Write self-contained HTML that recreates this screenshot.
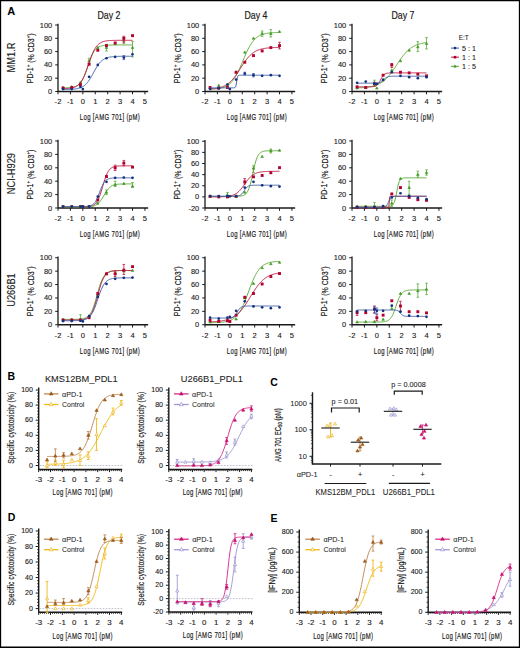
<!DOCTYPE html><html><head><meta charset="utf-8"><style>html,body{margin:0;padding:0;background:#fff;width:520px;height:648px;overflow:hidden;position:relative}</style></head><body><svg width="520" height="648" viewBox="0 0 520 648" style="position:absolute;left:0;top:0;font-family:'Liberation Sans', sans-serif">
<rect x="0" y="0" width="520" height="648" fill="#fff"/>
<path d="M0 0H520V648H0Z M1.15 1.15V646.5H518.85V1.15Z" fill="#000" fill-rule="evenodd"/>
<text transform="translate(11.25,11.35)" font-size="11" text-anchor="middle" dominant-baseline="central" font-weight="bold" fill="#000" stroke="#000" stroke-width="0" >A</text>
<text transform="translate(109,15) scale(0.88,1)" font-size="10" text-anchor="middle" dominant-baseline="central" font-weight="normal" fill="#1a1a1a" stroke="#1a1a1a" stroke-width="0.18" >Day 2</text>
<text transform="translate(256,15) scale(0.88,1)" font-size="10" text-anchor="middle" dominant-baseline="central" font-weight="normal" fill="#1a1a1a" stroke="#1a1a1a" stroke-width="0.18" >Day 4</text>
<text transform="translate(403,15) scale(0.88,1)" font-size="10" text-anchor="middle" dominant-baseline="central" font-weight="normal" fill="#1a1a1a" stroke="#1a1a1a" stroke-width="0.18" >Day 7</text>
<text transform="translate(11.3,57.5) rotate(-90) scale(0.93,1)" font-size="10" text-anchor="middle" dominant-baseline="central" font-weight="normal" fill="#1a1a1a" stroke="#1a1a1a" stroke-width="0.12" >MM1.R</text>
<text transform="translate(11.3,173.6) rotate(-90) scale(0.93,1)" font-size="10" text-anchor="middle" dominant-baseline="central" font-weight="normal" fill="#1a1a1a" stroke="#1a1a1a" stroke-width="0.12" >NCI-H929</text>
<text transform="translate(11.3,290) rotate(-90) scale(0.93,1)" font-size="10" text-anchor="middle" dominant-baseline="central" font-weight="normal" fill="#1a1a1a" stroke="#1a1a1a" stroke-width="0.12" >U266B1</text>
<line x1="58" y1="23.8" x2="58" y2="91.5" stroke="#1a1a1a" stroke-width="1.3" />
<line x1="55.2" y1="91.5" x2="58" y2="91.5" stroke="#1a1a1a" stroke-width="1" />
<text transform="translate(52.2,91.5) scale(0.98,1)" font-size="7.6" text-anchor="end" dominant-baseline="central" font-weight="normal" fill="#1a1a1a" stroke="#1a1a1a" stroke-width="0.12" >0</text>
<line x1="55.2" y1="78.2" x2="58" y2="78.2" stroke="#1a1a1a" stroke-width="1" />
<text transform="translate(52.2,78.2) scale(0.98,1)" font-size="7.6" text-anchor="end" dominant-baseline="central" font-weight="normal" fill="#1a1a1a" stroke="#1a1a1a" stroke-width="0.12" >20</text>
<line x1="55.2" y1="64.9" x2="58" y2="64.9" stroke="#1a1a1a" stroke-width="1" />
<text transform="translate(52.2,64.9) scale(0.98,1)" font-size="7.6" text-anchor="end" dominant-baseline="central" font-weight="normal" fill="#1a1a1a" stroke="#1a1a1a" stroke-width="0.12" >40</text>
<line x1="55.2" y1="51.6" x2="58" y2="51.6" stroke="#1a1a1a" stroke-width="1" />
<text transform="translate(52.2,51.6) scale(0.98,1)" font-size="7.6" text-anchor="end" dominant-baseline="central" font-weight="normal" fill="#1a1a1a" stroke="#1a1a1a" stroke-width="0.12" >60</text>
<line x1="55.2" y1="38.3" x2="58" y2="38.3" stroke="#1a1a1a" stroke-width="1" />
<text transform="translate(52.2,38.3) scale(0.98,1)" font-size="7.6" text-anchor="end" dominant-baseline="central" font-weight="normal" fill="#1a1a1a" stroke="#1a1a1a" stroke-width="0.12" >80</text>
<line x1="55.2" y1="25" x2="58" y2="25" stroke="#1a1a1a" stroke-width="1" />
<text transform="translate(52.2,25) scale(0.98,1)" font-size="7.6" text-anchor="end" dominant-baseline="central" font-weight="normal" fill="#1a1a1a" stroke="#1a1a1a" stroke-width="0.12" >100</text>
<line x1="58" y1="91.5" x2="148.14" y2="91.5" stroke="#1a1a1a" stroke-width="1.3" />
<line x1="58" y1="91.5" x2="58" y2="94.3" stroke="#1a1a1a" stroke-width="1" />
<text transform="translate(58,101.8) scale(0.95,1)" font-size="8" text-anchor="middle" dominant-baseline="central" font-weight="normal" fill="#1a1a1a" stroke="#1a1a1a" stroke-width="0.12" >-2</text>
<line x1="70.42" y1="91.5" x2="70.42" y2="94.3" stroke="#1a1a1a" stroke-width="1" />
<text transform="translate(70.42,101.8) scale(0.95,1)" font-size="8" text-anchor="middle" dominant-baseline="central" font-weight="normal" fill="#1a1a1a" stroke="#1a1a1a" stroke-width="0.12" >-1</text>
<line x1="82.84" y1="91.5" x2="82.84" y2="94.3" stroke="#1a1a1a" stroke-width="1" />
<text transform="translate(82.84,101.8) scale(0.95,1)" font-size="8" text-anchor="middle" dominant-baseline="central" font-weight="normal" fill="#1a1a1a" stroke="#1a1a1a" stroke-width="0.12" >0</text>
<line x1="95.26" y1="91.5" x2="95.26" y2="94.3" stroke="#1a1a1a" stroke-width="1" />
<text transform="translate(95.26,101.8) scale(0.95,1)" font-size="8" text-anchor="middle" dominant-baseline="central" font-weight="normal" fill="#1a1a1a" stroke="#1a1a1a" stroke-width="0.12" >1</text>
<line x1="107.68" y1="91.5" x2="107.68" y2="94.3" stroke="#1a1a1a" stroke-width="1" />
<text transform="translate(107.68,101.8) scale(0.95,1)" font-size="8" text-anchor="middle" dominant-baseline="central" font-weight="normal" fill="#1a1a1a" stroke="#1a1a1a" stroke-width="0.12" >2</text>
<line x1="120.1" y1="91.5" x2="120.1" y2="94.3" stroke="#1a1a1a" stroke-width="1" />
<text transform="translate(120.1,101.8) scale(0.95,1)" font-size="8" text-anchor="middle" dominant-baseline="central" font-weight="normal" fill="#1a1a1a" stroke="#1a1a1a" stroke-width="0.12" >3</text>
<line x1="132.52" y1="91.5" x2="132.52" y2="94.3" stroke="#1a1a1a" stroke-width="1" />
<text transform="translate(132.52,101.8) scale(0.95,1)" font-size="8" text-anchor="middle" dominant-baseline="central" font-weight="normal" fill="#1a1a1a" stroke="#1a1a1a" stroke-width="0.12" >4</text>
<line x1="144.94" y1="91.5" x2="144.94" y2="94.3" stroke="#1a1a1a" stroke-width="1" />
<text transform="translate(144.94,101.8) scale(0.95,1)" font-size="8" text-anchor="middle" dominant-baseline="central" font-weight="normal" fill="#1a1a1a" stroke="#1a1a1a" stroke-width="0.12" >5</text>
<text transform="translate(110,117.5) scale(0.68,1)" font-size="8.8" text-anchor="middle" dominant-baseline="central" font-weight="normal" fill="#1a1a1a" stroke="#1a1a1a" stroke-width="0.18" letter-spacing="0.5">Log [AMG 701] (pM)</text>
<text transform="translate(30.3,58.25) rotate(-90) scale(0.75,1)" font-size="9.3" text-anchor="middle" dominant-baseline="central" font-weight="normal" fill="#1a1a1a" stroke="#1a1a1a" stroke-width="0.18" >PD-1<tspan dy="-2.4" font-size="6">+</tspan><tspan dy="2.4"> (% CD3</tspan><tspan dy="-2.4" font-size="6">+</tspan><tspan dy="2.4">)</tspan></text>
<polyline points="63.09,87.8 63.67,87.79 64.25,87.78 64.83,87.77 65.41,87.76 65.99,87.74 66.56,87.73 67.14,87.71 67.72,87.68 68.3,87.65 68.88,87.62 69.46,87.58 70.03,87.54 70.61,87.49 71.19,87.42 71.77,87.35 72.35,87.27 72.93,87.17 73.51,87.05 74.08,86.92 74.66,86.76 75.24,86.58 75.82,86.37 76.4,86.12 76.98,85.83 77.56,85.5 78.13,85.12 78.71,84.68 79.29,84.17 79.87,83.59 80.45,82.93 81.03,82.19 81.61,81.35 82.18,80.42 82.76,79.38 83.34,78.23 83.92,76.98 84.5,75.62 85.08,74.17 85.66,72.63 86.23,71.01 86.81,69.34 87.39,67.64 87.97,65.91 88.55,64.19 89.13,62.5 89.71,60.86 90.28,59.29 90.86,57.8 91.44,56.4 92.02,55.1 92.6,53.9 93.18,52.82 93.76,51.84 94.33,50.96 94.91,50.17 95.49,49.48 96.07,48.87 96.65,48.33 97.23,47.86 97.81,47.45 98.38,47.1 98.96,46.8 99.54,46.53 100.12,46.3 100.7,46.11 101.28,45.94 101.86,45.8 102.43,45.67 103.01,45.57 103.59,45.48 104.17,45.4 104.75,45.33 105.33,45.28 105.91,45.23 106.48,45.19 107.06,45.15 107.64,45.12 108.22,45.1 108.8,45.07 109.38,45.06 109.96,45.04 110.53,45.03 111.11,45.02 111.69,45.01 112.27,45 112.85,44.99 113.43,44.98 114.01,44.98 114.58,44.98 115.16,44.97 115.74,44.97 116.32,44.97 116.9,44.96 117.48,44.96 118.06,44.96 118.63,44.96 119.21,44.96 119.79,44.96 120.37,44.96 120.95,44.95 121.53,44.95 122.11,44.95 122.68,44.95 123.26,44.95 123.84,44.95 124.42,44.95 125,44.95 125.58,44.95 126.16,44.95 126.73,44.95 127.31,44.95 127.89,44.95 128.47,44.95 129.05,44.95 129.63,44.95 130.21,44.95 130.78,44.95 131.36,44.95 131.94,44.95 132.52,44.95" fill="none" stroke="#5aaa36" stroke-width="0.95"/>
<line x1="106.44" y1="50.94" x2="106.44" y2="44.29" stroke="#5aaa36" stroke-width="0.8" />
<line x1="105.14" y1="50.94" x2="107.74" y2="50.94" stroke="#5aaa36" stroke-width="0.8" />
<line x1="105.14" y1="44.29" x2="107.74" y2="44.29" stroke="#5aaa36" stroke-width="0.8" />
<line x1="123.83" y1="43.62" x2="123.83" y2="38.3" stroke="#5aaa36" stroke-width="0.8" />
<line x1="122.53" y1="43.62" x2="125.13" y2="43.62" stroke="#5aaa36" stroke-width="0.8" />
<line x1="122.53" y1="38.3" x2="125.13" y2="38.3" stroke="#5aaa36" stroke-width="0.8" />
<line x1="132.52" y1="56.92" x2="132.52" y2="41.62" stroke="#5aaa36" stroke-width="0.8" />
<line x1="131.22" y1="56.92" x2="133.82" y2="56.92" stroke="#5aaa36" stroke-width="0.8" />
<line x1="131.22" y1="41.62" x2="133.82" y2="41.62" stroke="#5aaa36" stroke-width="0.8" />
<line x1="89.05" y1="63.57" x2="89.05" y2="58.25" stroke="#5aaa36" stroke-width="0.8" />
<line x1="87.75" y1="63.57" x2="90.35" y2="63.57" stroke="#5aaa36" stroke-width="0.8" />
<line x1="87.75" y1="58.25" x2="90.35" y2="58.25" stroke="#5aaa36" stroke-width="0.8" />
<path d="M63.07 86.15L64.37 88.42L61.77 88.42Z" fill="#3f9a22" stroke="#3f9a22" stroke-width="0.6"/>
<path d="M71.75 85.48L73.05 87.75L70.45 87.75Z" fill="#3f9a22" stroke="#3f9a22" stroke-width="0.6"/>
<path d="M80.43 81.09L81.73 83.37L79.13 83.37Z" fill="#3f9a22" stroke="#3f9a22" stroke-width="0.6"/>
<path d="M89.11 59.54L90.41 61.82L87.81 61.82Z" fill="#3f9a22" stroke="#3f9a22" stroke-width="0.6"/>
<path d="M97.79 46.24L99.09 48.52L96.49 48.52Z" fill="#3f9a22" stroke="#3f9a22" stroke-width="0.6"/>
<path d="M106.48 46.24L107.78 48.52L105.18 48.52Z" fill="#3f9a22" stroke="#3f9a22" stroke-width="0.6"/>
<path d="M115.16 42.26L116.46 44.53L113.86 44.53Z" fill="#3f9a22" stroke="#3f9a22" stroke-width="0.6"/>
<path d="M123.84 38.93L125.14 41.2L122.54 41.2Z" fill="#3f9a22" stroke="#3f9a22" stroke-width="0.6"/>
<path d="M132.52 46.24L133.82 48.52L131.22 48.52Z" fill="#3f9a22" stroke="#3f9a22" stroke-width="0.6"/>
<polyline points="63.09,88.73 63.67,88.72 64.25,88.7 64.83,88.68 65.41,88.65 65.99,88.62 66.56,88.59 67.14,88.55 67.72,88.51 68.3,88.46 68.88,88.41 69.46,88.34 70.03,88.27 70.61,88.19 71.19,88.09 71.77,87.98 72.35,87.85 72.93,87.71 73.51,87.54 74.08,87.36 74.66,87.14 75.24,86.9 75.82,86.62 76.4,86.31 76.98,85.95 77.56,85.55 78.13,85.09 78.71,84.58 79.29,84.01 79.87,83.37 80.45,82.65 81.03,81.86 81.61,80.98 82.18,80.02 82.76,78.97 83.34,77.83 83.92,76.59 84.5,75.27 85.08,73.87 85.66,72.39 86.23,70.84 86.81,69.23 87.39,67.59 87.97,65.91 88.55,64.22 89.13,62.53 89.71,60.86 90.28,59.23 90.86,57.64 91.44,56.12 92.02,54.67 92.6,53.3 93.18,52.02 93.76,50.82 94.33,49.72 94.91,48.71 95.49,47.78 96.07,46.94 96.65,46.18 97.23,45.49 97.81,44.88 98.38,44.33 98.96,43.85 99.54,43.41 100.12,43.03 100.7,42.69 101.28,42.39 101.86,42.13 102.43,41.9 103.01,41.7 103.59,41.52 104.17,41.36 104.75,41.23 105.33,41.11 105.91,41 106.48,40.91 107.06,40.83 107.64,40.76 108.22,40.7 108.8,40.65 109.38,40.6 109.96,40.56 110.53,40.53 111.11,40.5 111.69,40.47 112.27,40.45 112.85,40.43 113.43,40.41 114.01,40.4 114.58,40.38 115.16,40.37 115.74,40.36 116.32,40.35 116.9,40.35 117.48,40.34 118.06,40.33 118.63,40.33 119.21,40.32 119.79,40.32 120.37,40.32 120.95,40.31 121.53,40.31 122.11,40.31 122.68,40.31 123.26,40.31 123.84,40.3 124.42,40.3 125,40.3 125.58,40.3 126.16,40.3 126.73,40.3 127.31,40.3 127.89,40.3 128.47,40.3 129.05,40.3 129.63,40.3 130.21,40.3 130.78,40.3 131.36,40.3 131.94,40.3 132.52,40.3" fill="none" stroke="#c01842" stroke-width="0.95"/>
<line x1="123.83" y1="42.29" x2="123.83" y2="36.3" stroke="#c01842" stroke-width="0.8" />
<line x1="122.53" y1="42.29" x2="125.13" y2="42.29" stroke="#c01842" stroke-width="0.8" />
<line x1="122.53" y1="36.3" x2="125.13" y2="36.3" stroke="#c01842" stroke-width="0.8" />
<rect x="61.62" y="86.59" width="2.9" height="2.9" fill="#b5002e"/>
<rect x="70.3" y="86.06" width="2.9" height="2.9" fill="#b5002e"/>
<rect x="78.98" y="83.07" width="2.9" height="2.9" fill="#b5002e"/>
<rect x="87.66" y="62.78" width="2.9" height="2.9" fill="#b5002e"/>
<rect x="96.34" y="48.82" width="2.9" height="2.9" fill="#b5002e"/>
<rect x="105.03" y="44.16" width="2.9" height="2.9" fill="#b5002e"/>
<rect x="113.71" y="41.5" width="2.9" height="2.9" fill="#b5002e"/>
<rect x="122.39" y="36.85" width="2.9" height="2.9" fill="#b5002e"/>
<rect x="131.07" y="34.19" width="2.9" height="2.9" fill="#b5002e"/>
<polyline points="63.09,89.47 63.67,89.46 64.25,89.45 64.83,89.45 65.41,89.44 65.99,89.43 66.56,89.42 67.14,89.41 67.72,89.4 68.3,89.38 68.88,89.36 69.46,89.34 70.03,89.32 70.61,89.3 71.19,89.27 71.77,89.24 72.35,89.2 72.93,89.16 73.51,89.11 74.08,89.06 74.66,89 75.24,88.93 75.82,88.85 76.4,88.76 76.98,88.67 77.56,88.55 78.13,88.43 78.71,88.28 79.29,88.12 79.87,87.94 80.45,87.74 81.03,87.51 81.61,87.26 82.18,86.97 82.76,86.65 83.34,86.3 83.92,85.9 84.5,85.47 85.08,84.99 85.66,84.46 86.23,83.89 86.81,83.26 87.39,82.58 87.97,81.85 88.55,81.07 89.13,80.23 89.71,79.35 90.28,78.42 90.86,77.45 91.44,76.44 92.02,75.41 92.6,74.35 93.18,73.29 93.76,72.22 94.33,71.15 94.91,70.1 95.49,69.07 96.07,68.08 96.65,67.12 97.23,66.2 97.81,65.32 98.38,64.5 98.96,63.73 99.54,63.01 100.12,62.34 100.7,61.73 101.28,61.16 101.86,60.65 102.43,60.18 103.01,59.76 103.59,59.37 104.17,59.03 104.75,58.72 105.33,58.44 105.91,58.19 106.48,57.97 107.06,57.77 107.64,57.6 108.22,57.44 108.8,57.3 109.38,57.18 109.96,57.07 110.53,56.97 111.11,56.89 111.69,56.81 112.27,56.75 112.85,56.69 113.43,56.64 114.01,56.59 114.58,56.55 115.16,56.52 115.74,56.48 116.32,56.46 116.9,56.43 117.48,56.41 118.06,56.39 118.63,56.38 119.21,56.36 119.79,56.35 120.37,56.34 120.95,56.33 121.53,56.32 122.11,56.31 122.68,56.3 123.26,56.3 123.84,56.29 124.42,56.29 125,56.28 125.58,56.28 126.16,56.28 126.73,56.27 127.31,56.27 127.89,56.27 128.47,56.27 129.05,56.27 129.63,56.27 130.21,56.26 130.78,56.26 131.36,56.26 131.94,56.26 132.52,56.26" fill="none" stroke="#3f5fa8" stroke-width="0.95"/>
<line x1="123.83" y1="59.58" x2="123.83" y2="55.59" stroke="#3f5fa8" stroke-width="0.8" />
<line x1="122.53" y1="59.58" x2="125.13" y2="59.58" stroke="#3f5fa8" stroke-width="0.8" />
<line x1="122.53" y1="55.59" x2="125.13" y2="55.59" stroke="#3f5fa8" stroke-width="0.8" />
<circle cx="63.07" cy="89.04" r="1.35" fill="#13307f"/>
<circle cx="71.75" cy="89.04" r="1.35" fill="#13307f"/>
<circle cx="80.43" cy="86.84" r="1.35" fill="#13307f"/>
<circle cx="89.11" cy="76.87" r="1.35" fill="#13307f"/>
<circle cx="97.79" cy="64.9" r="1.35" fill="#13307f"/>
<circle cx="106.48" cy="58.25" r="1.35" fill="#13307f"/>
<circle cx="115.16" cy="56.92" r="1.35" fill="#13307f"/>
<circle cx="123.84" cy="57.59" r="1.35" fill="#13307f"/>
<circle cx="132.52" cy="54.26" r="1.35" fill="#13307f"/>
<circle cx="82.84" cy="89.04" r="1.35" fill="#13307f"/>
<line x1="205" y1="23.8" x2="205" y2="91.5" stroke="#1a1a1a" stroke-width="1.3" />
<line x1="202.2" y1="91.5" x2="205" y2="91.5" stroke="#1a1a1a" stroke-width="1" />
<text transform="translate(199.2,91.5) scale(0.98,1)" font-size="7.6" text-anchor="end" dominant-baseline="central" font-weight="normal" fill="#1a1a1a" stroke="#1a1a1a" stroke-width="0.12" >0</text>
<line x1="202.2" y1="78.2" x2="205" y2="78.2" stroke="#1a1a1a" stroke-width="1" />
<text transform="translate(199.2,78.2) scale(0.98,1)" font-size="7.6" text-anchor="end" dominant-baseline="central" font-weight="normal" fill="#1a1a1a" stroke="#1a1a1a" stroke-width="0.12" >20</text>
<line x1="202.2" y1="64.9" x2="205" y2="64.9" stroke="#1a1a1a" stroke-width="1" />
<text transform="translate(199.2,64.9) scale(0.98,1)" font-size="7.6" text-anchor="end" dominant-baseline="central" font-weight="normal" fill="#1a1a1a" stroke="#1a1a1a" stroke-width="0.12" >40</text>
<line x1="202.2" y1="51.6" x2="205" y2="51.6" stroke="#1a1a1a" stroke-width="1" />
<text transform="translate(199.2,51.6) scale(0.98,1)" font-size="7.6" text-anchor="end" dominant-baseline="central" font-weight="normal" fill="#1a1a1a" stroke="#1a1a1a" stroke-width="0.12" >60</text>
<line x1="202.2" y1="38.3" x2="205" y2="38.3" stroke="#1a1a1a" stroke-width="1" />
<text transform="translate(199.2,38.3) scale(0.98,1)" font-size="7.6" text-anchor="end" dominant-baseline="central" font-weight="normal" fill="#1a1a1a" stroke="#1a1a1a" stroke-width="0.12" >80</text>
<line x1="202.2" y1="25" x2="205" y2="25" stroke="#1a1a1a" stroke-width="1" />
<text transform="translate(199.2,25) scale(0.98,1)" font-size="7.6" text-anchor="end" dominant-baseline="central" font-weight="normal" fill="#1a1a1a" stroke="#1a1a1a" stroke-width="0.12" >100</text>
<line x1="205" y1="91.5" x2="295.14" y2="91.5" stroke="#1a1a1a" stroke-width="1.3" />
<line x1="205" y1="91.5" x2="205" y2="94.3" stroke="#1a1a1a" stroke-width="1" />
<text transform="translate(205,101.8) scale(0.95,1)" font-size="8" text-anchor="middle" dominant-baseline="central" font-weight="normal" fill="#1a1a1a" stroke="#1a1a1a" stroke-width="0.12" >-2</text>
<line x1="217.42" y1="91.5" x2="217.42" y2="94.3" stroke="#1a1a1a" stroke-width="1" />
<text transform="translate(217.42,101.8) scale(0.95,1)" font-size="8" text-anchor="middle" dominant-baseline="central" font-weight="normal" fill="#1a1a1a" stroke="#1a1a1a" stroke-width="0.12" >-1</text>
<line x1="229.84" y1="91.5" x2="229.84" y2="94.3" stroke="#1a1a1a" stroke-width="1" />
<text transform="translate(229.84,101.8) scale(0.95,1)" font-size="8" text-anchor="middle" dominant-baseline="central" font-weight="normal" fill="#1a1a1a" stroke="#1a1a1a" stroke-width="0.12" >0</text>
<line x1="242.26" y1="91.5" x2="242.26" y2="94.3" stroke="#1a1a1a" stroke-width="1" />
<text transform="translate(242.26,101.8) scale(0.95,1)" font-size="8" text-anchor="middle" dominant-baseline="central" font-weight="normal" fill="#1a1a1a" stroke="#1a1a1a" stroke-width="0.12" >1</text>
<line x1="254.68" y1="91.5" x2="254.68" y2="94.3" stroke="#1a1a1a" stroke-width="1" />
<text transform="translate(254.68,101.8) scale(0.95,1)" font-size="8" text-anchor="middle" dominant-baseline="central" font-weight="normal" fill="#1a1a1a" stroke="#1a1a1a" stroke-width="0.12" >2</text>
<line x1="267.1" y1="91.5" x2="267.1" y2="94.3" stroke="#1a1a1a" stroke-width="1" />
<text transform="translate(267.1,101.8) scale(0.95,1)" font-size="8" text-anchor="middle" dominant-baseline="central" font-weight="normal" fill="#1a1a1a" stroke="#1a1a1a" stroke-width="0.12" >3</text>
<line x1="279.52" y1="91.5" x2="279.52" y2="94.3" stroke="#1a1a1a" stroke-width="1" />
<text transform="translate(279.52,101.8) scale(0.95,1)" font-size="8" text-anchor="middle" dominant-baseline="central" font-weight="normal" fill="#1a1a1a" stroke="#1a1a1a" stroke-width="0.12" >4</text>
<line x1="291.94" y1="91.5" x2="291.94" y2="94.3" stroke="#1a1a1a" stroke-width="1" />
<text transform="translate(291.94,101.8) scale(0.95,1)" font-size="8" text-anchor="middle" dominant-baseline="central" font-weight="normal" fill="#1a1a1a" stroke="#1a1a1a" stroke-width="0.12" >5</text>
<text transform="translate(257,117.5) scale(0.68,1)" font-size="8.8" text-anchor="middle" dominant-baseline="central" font-weight="normal" fill="#1a1a1a" stroke="#1a1a1a" stroke-width="0.18" letter-spacing="0.5">Log [AMG 701] (pM)</text>
<text transform="translate(177.3,58.25) rotate(-90) scale(0.75,1)" font-size="9.3" text-anchor="middle" dominant-baseline="central" font-weight="normal" fill="#1a1a1a" stroke="#1a1a1a" stroke-width="0.18" >PD-1<tspan dy="-2.4" font-size="6">+</tspan><tspan dy="2.4"> (% CD3</tspan><tspan dy="-2.4" font-size="6">+</tspan><tspan dy="2.4">)</tspan></text>
<polyline points="210.09,89.27 210.67,89.24 211.25,89.21 211.83,89.19 212.41,89.15 212.99,89.12 213.56,89.08 214.14,89.04 214.72,88.99 215.3,88.94 215.88,88.88 216.46,88.82 217.03,88.75 217.61,88.67 218.19,88.59 218.77,88.5 219.35,88.4 219.93,88.29 220.51,88.17 221.08,88.04 221.66,87.89 222.24,87.73 222.82,87.56 223.4,87.37 223.98,87.16 224.56,86.94 225.13,86.69 225.71,86.42 226.29,86.13 226.87,85.81 227.45,85.46 228.03,85.08 228.61,84.67 229.18,84.22 229.76,83.74 230.34,83.22 230.92,82.66 231.5,82.06 232.08,81.41 232.66,80.72 233.23,79.97 233.81,79.18 234.39,78.34 234.97,77.45 235.55,76.5 236.13,75.51 236.71,74.46 237.28,73.37 237.86,72.23 238.44,71.04 239.02,69.81 239.6,68.55 240.18,67.25 240.76,65.93 241.33,64.58 241.91,63.21 242.49,61.84 243.07,60.46 243.65,59.08 244.23,57.71 244.81,56.36 245.38,55.02 245.96,53.71 246.54,52.44 247.12,51.2 247.7,50 248.28,48.84 248.86,47.73 249.43,46.67 250.01,45.65 250.59,44.69 251.17,43.78 251.75,42.92 252.33,42.11 252.91,41.35 253.48,40.64 254.06,39.98 254.64,39.36 255.22,38.79 255.8,38.25 256.38,37.76 256.96,37.3 257.53,36.88 258.11,36.49 258.69,36.13 259.27,35.8 259.85,35.5 260.43,35.22 261.01,34.97 261.58,34.73 262.16,34.52 262.74,34.32 263.32,34.14 263.9,33.98 264.48,33.83 265.06,33.69 265.63,33.57 266.21,33.46 266.79,33.35 267.37,33.26 267.95,33.17 268.53,33.1 269.11,33.03 269.68,32.96 270.26,32.9 270.84,32.85 271.42,32.8 272,32.76 272.58,32.72 273.16,32.68 273.73,32.65 274.31,32.62 274.89,32.59 275.47,32.56 276.05,32.54 276.63,32.52 277.21,32.5 277.78,32.48 278.36,32.47 278.94,32.45 279.52,32.44" fill="none" stroke="#5aaa36" stroke-width="0.95"/>
<line x1="262.13" y1="36.3" x2="262.13" y2="30.98" stroke="#5aaa36" stroke-width="0.8" />
<line x1="260.83" y1="36.3" x2="263.43" y2="36.3" stroke="#5aaa36" stroke-width="0.8" />
<line x1="260.83" y1="30.98" x2="263.43" y2="30.98" stroke="#5aaa36" stroke-width="0.8" />
<line x1="270.83" y1="36.97" x2="270.83" y2="29.65" stroke="#5aaa36" stroke-width="0.8" />
<line x1="269.53" y1="36.97" x2="272.13" y2="36.97" stroke="#5aaa36" stroke-width="0.8" />
<line x1="269.53" y1="29.65" x2="272.13" y2="29.65" stroke="#5aaa36" stroke-width="0.8" />
<path d="M210.07 86.28L211.37 88.55L208.77 88.55Z" fill="#3f9a22" stroke="#3f9a22" stroke-width="0.6"/>
<path d="M218.75 84.15L220.05 86.42L217.45 86.42Z" fill="#3f9a22" stroke="#3f9a22" stroke-width="0.6"/>
<path d="M227.43 83.15L228.73 85.43L226.13 85.43Z" fill="#3f9a22" stroke="#3f9a22" stroke-width="0.6"/>
<path d="M236.11 70.85L237.41 73.12L234.81 73.12Z" fill="#3f9a22" stroke="#3f9a22" stroke-width="0.6"/>
<path d="M244.79 50.9L246.09 53.17L243.49 53.17Z" fill="#3f9a22" stroke="#3f9a22" stroke-width="0.6"/>
<path d="M253.48 36.93L254.78 39.21L252.18 39.21Z" fill="#3f9a22" stroke="#3f9a22" stroke-width="0.6"/>
<path d="M262.16 32.28L263.46 34.55L260.86 34.55Z" fill="#3f9a22" stroke="#3f9a22" stroke-width="0.6"/>
<path d="M270.84 32.28L272.14 34.55L269.54 34.55Z" fill="#3f9a22" stroke="#3f9a22" stroke-width="0.6"/>
<path d="M279.52 30.29L280.82 32.56L278.22 32.56Z" fill="#3f9a22" stroke="#3f9a22" stroke-width="0.6"/>
<polyline points="210.09,89.04 210.67,89 211.25,88.95 211.83,88.9 212.41,88.85 212.99,88.79 213.56,88.73 214.14,88.66 214.72,88.59 215.3,88.51 215.88,88.42 216.46,88.33 217.03,88.22 217.61,88.11 218.19,87.99 218.77,87.86 219.35,87.72 219.93,87.57 220.51,87.4 221.08,87.23 221.66,87.03 222.24,86.83 222.82,86.6 223.4,86.36 223.98,86.1 224.56,85.83 225.13,85.53 225.71,85.21 226.29,84.87 226.87,84.5 227.45,84.11 228.03,83.69 228.61,83.25 229.18,82.78 229.76,82.28 230.34,81.75 230.92,81.19 231.5,80.6 232.08,79.98 232.66,79.33 233.23,78.66 233.81,77.95 234.39,77.22 234.97,76.46 235.55,75.67 236.13,74.86 236.71,74.03 237.28,73.18 237.86,72.31 238.44,71.43 239.02,70.54 239.6,69.64 240.18,68.73 240.76,67.83 241.33,66.93 241.91,66.03 242.49,65.14 243.07,64.26 243.65,63.4 244.23,62.55 244.81,61.72 245.38,60.92 245.96,60.14 246.54,59.39 247.12,58.66 247.7,57.96 248.28,57.29 248.86,56.65 249.43,56.04 250.01,55.46 250.59,54.91 251.17,54.38 251.75,53.89 252.33,53.43 252.91,52.99 253.48,52.58 254.06,52.19 254.64,51.83 255.22,51.5 255.8,51.18 256.38,50.89 256.96,50.61 257.53,50.36 258.11,50.12 258.69,49.9 259.27,49.7 259.85,49.51 260.43,49.34 261.01,49.17 261.58,49.03 262.16,48.89 262.74,48.76 263.32,48.64 263.9,48.53 264.48,48.43 265.06,48.34 265.63,48.25 266.21,48.18 266.79,48.1 267.37,48.04 267.95,47.98 268.53,47.92 269.11,47.87 269.68,47.82 270.26,47.77 270.84,47.73 271.42,47.7 272,47.66 272.58,47.63 273.16,47.6 273.73,47.58 274.31,47.55 274.89,47.53 275.47,47.51 276.05,47.49 276.63,47.47 277.21,47.46 277.78,47.44 278.36,47.43 278.94,47.42 279.52,47.4" fill="none" stroke="#c01842" stroke-width="0.95"/>
<line x1="279.52" y1="48.94" x2="279.52" y2="42.29" stroke="#c01842" stroke-width="0.8" />
<line x1="278.22" y1="48.94" x2="280.82" y2="48.94" stroke="#c01842" stroke-width="0.8" />
<line x1="278.22" y1="42.29" x2="280.82" y2="42.29" stroke="#c01842" stroke-width="0.8" />
<rect x="208.62" y="86.06" width="2.9" height="2.9" fill="#b5002e"/>
<rect x="217.3" y="86.72" width="2.9" height="2.9" fill="#b5002e"/>
<rect x="225.98" y="86.06" width="2.9" height="2.9" fill="#b5002e"/>
<rect x="234.66" y="70.77" width="2.9" height="2.9" fill="#b5002e"/>
<rect x="243.34" y="60.79" width="2.9" height="2.9" fill="#b5002e"/>
<rect x="252.03" y="54.14" width="2.9" height="2.9" fill="#b5002e"/>
<rect x="260.71" y="49.48" width="2.9" height="2.9" fill="#b5002e"/>
<rect x="269.39" y="46.16" width="2.9" height="2.9" fill="#b5002e"/>
<rect x="278.07" y="44.16" width="2.9" height="2.9" fill="#b5002e"/>
<polyline points="210.09,87.84 210.67,87.84 211.25,87.84 211.83,87.84 212.41,87.84 212.99,87.84 213.56,87.84 214.14,87.84 214.72,87.84 215.3,87.84 215.88,87.84 216.46,87.84 217.03,87.84 217.61,87.84 218.19,87.84 218.77,87.84 219.35,87.84 219.93,87.84 220.51,87.84 221.08,87.84 221.66,87.84 222.24,87.84 222.82,87.84 223.4,87.84 223.98,87.84 224.56,87.84 225.13,87.84 225.71,87.84 226.29,87.84 226.87,87.84 227.45,87.84 228.03,87.84 228.61,87.84 229.18,87.84 229.76,87.84 230.34,87.84 230.92,87.84 231.5,87.84 232.08,87.84 232.66,87.84 233.23,87.84 233.81,87.82 234.39,87.76 234.97,87.56 235.55,86.88 236.13,84.94 236.71,81.28 237.28,77.78 237.86,76.04 238.44,75.45 239.02,75.27 239.6,75.23 240.18,75.21 240.76,75.21 241.33,75.21 241.91,75.21 242.49,75.21 243.07,75.21 243.65,75.21 244.23,75.21 244.81,75.21 245.38,75.21 245.96,75.21 246.54,75.21 247.12,75.21 247.7,75.21 248.28,75.21 248.86,75.21 249.43,75.21 250.01,75.21 250.59,75.21 251.17,75.21 251.75,75.21 252.33,75.21 252.91,75.21 253.48,75.21 254.06,75.21 254.64,75.21 255.22,75.21 255.8,75.21 256.38,75.21 256.96,75.21 257.53,75.21 258.11,75.21 258.69,75.21 259.27,75.21 259.85,75.21 260.43,75.21 261.01,75.21 261.58,75.21 262.16,75.21 262.74,75.21 263.32,75.21 263.9,75.21 264.48,75.21 265.06,75.21 265.63,75.21 266.21,75.21 266.79,75.21 267.37,75.21 267.95,75.21 268.53,75.21 269.11,75.21 269.68,75.21 270.26,75.21 270.84,75.21 271.42,75.21 272,75.21 272.58,75.21 273.16,75.21 273.73,75.21 274.31,75.21 274.89,75.21 275.47,75.21 276.05,75.21 276.63,75.21 277.21,75.21 277.78,75.21 278.36,75.21 278.94,75.21 279.52,75.21" fill="none" stroke="#3f5fa8" stroke-width="0.95"/>
<line x1="244.74" y1="74.88" x2="244.74" y2="72.22" stroke="#3f5fa8" stroke-width="0.8" />
<line x1="243.44" y1="74.88" x2="246.04" y2="74.88" stroke="#3f5fa8" stroke-width="0.8" />
<line x1="243.44" y1="72.22" x2="246.04" y2="72.22" stroke="#3f5fa8" stroke-width="0.8" />
<line x1="253.44" y1="76.87" x2="253.44" y2="73.55" stroke="#3f5fa8" stroke-width="0.8" />
<line x1="252.14" y1="76.87" x2="254.74" y2="76.87" stroke="#3f5fa8" stroke-width="0.8" />
<line x1="252.14" y1="73.55" x2="254.74" y2="73.55" stroke="#3f5fa8" stroke-width="0.8" />
<circle cx="210.07" cy="89.04" r="1.35" fill="#13307f"/>
<circle cx="218.75" cy="88.17" r="1.35" fill="#13307f"/>
<circle cx="227.43" cy="84.52" r="1.35" fill="#13307f"/>
<circle cx="236.11" cy="79.53" r="1.35" fill="#13307f"/>
<circle cx="244.79" cy="73.55" r="1.35" fill="#13307f"/>
<circle cx="253.48" cy="75.21" r="1.35" fill="#13307f"/>
<circle cx="262.16" cy="75.87" r="1.35" fill="#13307f"/>
<circle cx="270.84" cy="75.21" r="1.35" fill="#13307f"/>
<circle cx="279.52" cy="75.87" r="1.35" fill="#13307f"/>
<circle cx="229.84" cy="89.04" r="1.35" fill="#13307f"/>
<line x1="352" y1="23.8" x2="352" y2="91.5" stroke="#1a1a1a" stroke-width="1.3" />
<line x1="349.2" y1="91.5" x2="352" y2="91.5" stroke="#1a1a1a" stroke-width="1" />
<text transform="translate(346.2,91.5) scale(0.98,1)" font-size="7.6" text-anchor="end" dominant-baseline="central" font-weight="normal" fill="#1a1a1a" stroke="#1a1a1a" stroke-width="0.12" >0</text>
<line x1="349.2" y1="78.2" x2="352" y2="78.2" stroke="#1a1a1a" stroke-width="1" />
<text transform="translate(346.2,78.2) scale(0.98,1)" font-size="7.6" text-anchor="end" dominant-baseline="central" font-weight="normal" fill="#1a1a1a" stroke="#1a1a1a" stroke-width="0.12" >20</text>
<line x1="349.2" y1="64.9" x2="352" y2="64.9" stroke="#1a1a1a" stroke-width="1" />
<text transform="translate(346.2,64.9) scale(0.98,1)" font-size="7.6" text-anchor="end" dominant-baseline="central" font-weight="normal" fill="#1a1a1a" stroke="#1a1a1a" stroke-width="0.12" >40</text>
<line x1="349.2" y1="51.6" x2="352" y2="51.6" stroke="#1a1a1a" stroke-width="1" />
<text transform="translate(346.2,51.6) scale(0.98,1)" font-size="7.6" text-anchor="end" dominant-baseline="central" font-weight="normal" fill="#1a1a1a" stroke="#1a1a1a" stroke-width="0.12" >60</text>
<line x1="349.2" y1="38.3" x2="352" y2="38.3" stroke="#1a1a1a" stroke-width="1" />
<text transform="translate(346.2,38.3) scale(0.98,1)" font-size="7.6" text-anchor="end" dominant-baseline="central" font-weight="normal" fill="#1a1a1a" stroke="#1a1a1a" stroke-width="0.12" >80</text>
<line x1="349.2" y1="25" x2="352" y2="25" stroke="#1a1a1a" stroke-width="1" />
<text transform="translate(346.2,25) scale(0.98,1)" font-size="7.6" text-anchor="end" dominant-baseline="central" font-weight="normal" fill="#1a1a1a" stroke="#1a1a1a" stroke-width="0.12" >100</text>
<line x1="352" y1="91.5" x2="442.14" y2="91.5" stroke="#1a1a1a" stroke-width="1.3" />
<line x1="352" y1="91.5" x2="352" y2="94.3" stroke="#1a1a1a" stroke-width="1" />
<text transform="translate(352,101.8) scale(0.95,1)" font-size="8" text-anchor="middle" dominant-baseline="central" font-weight="normal" fill="#1a1a1a" stroke="#1a1a1a" stroke-width="0.12" >-2</text>
<line x1="364.42" y1="91.5" x2="364.42" y2="94.3" stroke="#1a1a1a" stroke-width="1" />
<text transform="translate(364.42,101.8) scale(0.95,1)" font-size="8" text-anchor="middle" dominant-baseline="central" font-weight="normal" fill="#1a1a1a" stroke="#1a1a1a" stroke-width="0.12" >-1</text>
<line x1="376.84" y1="91.5" x2="376.84" y2="94.3" stroke="#1a1a1a" stroke-width="1" />
<text transform="translate(376.84,101.8) scale(0.95,1)" font-size="8" text-anchor="middle" dominant-baseline="central" font-weight="normal" fill="#1a1a1a" stroke="#1a1a1a" stroke-width="0.12" >0</text>
<line x1="389.26" y1="91.5" x2="389.26" y2="94.3" stroke="#1a1a1a" stroke-width="1" />
<text transform="translate(389.26,101.8) scale(0.95,1)" font-size="8" text-anchor="middle" dominant-baseline="central" font-weight="normal" fill="#1a1a1a" stroke="#1a1a1a" stroke-width="0.12" >1</text>
<line x1="401.68" y1="91.5" x2="401.68" y2="94.3" stroke="#1a1a1a" stroke-width="1" />
<text transform="translate(401.68,101.8) scale(0.95,1)" font-size="8" text-anchor="middle" dominant-baseline="central" font-weight="normal" fill="#1a1a1a" stroke="#1a1a1a" stroke-width="0.12" >2</text>
<line x1="414.1" y1="91.5" x2="414.1" y2="94.3" stroke="#1a1a1a" stroke-width="1" />
<text transform="translate(414.1,101.8) scale(0.95,1)" font-size="8" text-anchor="middle" dominant-baseline="central" font-weight="normal" fill="#1a1a1a" stroke="#1a1a1a" stroke-width="0.12" >3</text>
<line x1="426.52" y1="91.5" x2="426.52" y2="94.3" stroke="#1a1a1a" stroke-width="1" />
<text transform="translate(426.52,101.8) scale(0.95,1)" font-size="8" text-anchor="middle" dominant-baseline="central" font-weight="normal" fill="#1a1a1a" stroke="#1a1a1a" stroke-width="0.12" >4</text>
<line x1="438.94" y1="91.5" x2="438.94" y2="94.3" stroke="#1a1a1a" stroke-width="1" />
<text transform="translate(438.94,101.8) scale(0.95,1)" font-size="8" text-anchor="middle" dominant-baseline="central" font-weight="normal" fill="#1a1a1a" stroke="#1a1a1a" stroke-width="0.12" >5</text>
<text transform="translate(404,117.5) scale(0.68,1)" font-size="8.8" text-anchor="middle" dominant-baseline="central" font-weight="normal" fill="#1a1a1a" stroke="#1a1a1a" stroke-width="0.18" letter-spacing="0.5">Log [AMG 701] (pM)</text>
<text transform="translate(324.3,58.25) rotate(-90) scale(0.75,1)" font-size="9.3" text-anchor="middle" dominant-baseline="central" font-weight="normal" fill="#1a1a1a" stroke="#1a1a1a" stroke-width="0.18" >PD-1<tspan dy="-2.4" font-size="6">+</tspan><tspan dy="2.4"> (% CD3</tspan><tspan dy="-2.4" font-size="6">+</tspan><tspan dy="2.4">)</tspan></text>
<polyline points="357.09,87.9 357.67,87.88 358.25,87.86 358.83,87.84 359.41,87.81 359.99,87.78 360.56,87.75 361.14,87.72 361.72,87.68 362.3,87.65 362.88,87.61 363.46,87.56 364.03,87.51 364.61,87.46 365.19,87.41 365.77,87.35 366.35,87.29 366.93,87.22 367.51,87.15 368.08,87.07 368.66,86.98 369.24,86.89 369.82,86.8 370.4,86.69 370.98,86.58 371.56,86.46 372.13,86.33 372.71,86.2 373.29,86.05 373.87,85.89 374.45,85.72 375.03,85.54 375.61,85.35 376.18,85.14 376.76,84.92 377.34,84.69 377.92,84.44 378.5,84.17 379.08,83.89 379.66,83.59 380.23,83.27 380.81,82.93 381.39,82.57 381.97,82.19 382.55,81.78 383.13,81.36 383.71,80.91 384.28,80.44 384.86,79.94 385.44,79.42 386.02,78.87 386.6,78.3 387.18,77.71 387.76,77.08 388.33,76.44 388.91,75.77 389.49,75.07 390.07,74.35 390.65,73.61 391.23,72.85 391.81,72.07 392.38,71.27 392.96,70.45 393.54,69.62 394.12,68.78 394.7,67.92 395.28,67.06 395.86,66.19 396.43,65.32 397.01,64.45 397.59,63.57 398.17,62.7 398.75,61.84 399.33,60.99 399.91,60.14 400.48,59.31 401.06,58.5 401.64,57.7 402.22,56.92 402.8,56.16 403.38,55.42 403.96,54.7 404.53,54.01 405.11,53.34 405.69,52.69 406.27,52.07 406.85,51.47 407.43,50.9 408.01,50.36 408.58,49.84 409.16,49.34 409.74,48.87 410.32,48.42 410.9,48 411.48,47.6 412.06,47.22 412.63,46.86 413.21,46.52 413.79,46.2 414.37,45.9 414.95,45.62 415.53,45.35 416.11,45.1 416.68,44.87 417.26,44.65 417.84,44.44 418.42,44.25 419,44.07 419.58,43.9 420.16,43.75 420.73,43.6 421.31,43.46 421.89,43.33 422.47,43.21 423.05,43.1 423.63,43 424.21,42.9 424.78,42.81 425.36,42.73 425.94,42.65 426.52,42.58" fill="none" stroke="#5aaa36" stroke-width="0.95"/>
<line x1="417.83" y1="51.6" x2="417.83" y2="41.62" stroke="#5aaa36" stroke-width="0.8" />
<line x1="416.53" y1="51.6" x2="419.13" y2="51.6" stroke="#5aaa36" stroke-width="0.8" />
<line x1="416.53" y1="41.62" x2="419.13" y2="41.62" stroke="#5aaa36" stroke-width="0.8" />
<line x1="426.52" y1="48.94" x2="426.52" y2="37.63" stroke="#5aaa36" stroke-width="0.8" />
<line x1="425.22" y1="48.94" x2="427.82" y2="48.94" stroke="#5aaa36" stroke-width="0.8" />
<line x1="425.22" y1="37.63" x2="427.82" y2="37.63" stroke="#5aaa36" stroke-width="0.8" />
<line x1="374.48" y1="86.18" x2="374.48" y2="80.19" stroke="#5aaa36" stroke-width="0.8" />
<line x1="373.18" y1="86.18" x2="375.78" y2="86.18" stroke="#5aaa36" stroke-width="0.8" />
<line x1="373.18" y1="80.19" x2="375.78" y2="80.19" stroke="#5aaa36" stroke-width="0.8" />
<path d="M357.07 86.68L358.37 88.95L355.77 88.95Z" fill="#3f9a22" stroke="#3f9a22" stroke-width="0.6"/>
<path d="M365.75 86.15L367.05 88.42L364.45 88.42Z" fill="#3f9a22" stroke="#3f9a22" stroke-width="0.6"/>
<path d="M374.43 81.09L375.73 83.37L373.13 83.37Z" fill="#3f9a22" stroke="#3f9a22" stroke-width="0.6"/>
<path d="M383.11 78.5L384.41 80.77L381.81 80.77Z" fill="#3f9a22" stroke="#3f9a22" stroke-width="0.6"/>
<path d="M391.79 68.86L393.09 71.13L390.49 71.13Z" fill="#3f9a22" stroke="#3f9a22" stroke-width="0.6"/>
<path d="M400.48 59.54L401.78 61.82L399.18 61.82Z" fill="#3f9a22" stroke="#3f9a22" stroke-width="0.6"/>
<path d="M409.16 48.91L410.46 51.18L407.86 51.18Z" fill="#3f9a22" stroke="#3f9a22" stroke-width="0.6"/>
<path d="M417.84 45.58L419.14 47.85L416.54 47.85Z" fill="#3f9a22" stroke="#3f9a22" stroke-width="0.6"/>
<path d="M426.52 42.26L427.82 44.53L425.22 44.53Z" fill="#3f9a22" stroke="#3f9a22" stroke-width="0.6"/>
<path d="M376.84 86.81L378.14 89.08L375.54 89.08Z" fill="#3f9a22" stroke="#3f9a22" stroke-width="0.6"/>
<polyline points="357.09,86.84 357.67,86.84 358.25,86.84 358.83,86.84 359.41,86.84 359.99,86.84 360.56,86.84 361.14,86.84 361.72,86.84 362.3,86.84 362.88,86.84 363.46,86.84 364.03,86.84 364.61,86.84 365.19,86.84 365.77,86.84 366.35,86.84 366.93,86.84 367.51,86.84 368.08,86.83 368.66,86.83 369.24,86.82 369.82,86.81 370.4,86.8 370.98,86.78 371.56,86.75 372.13,86.72 372.71,86.67 373.29,86.6 373.87,86.52 374.45,86.39 375.03,86.23 375.61,86.01 376.18,85.72 376.76,85.34 377.34,84.85 377.92,84.24 378.5,83.49 379.08,82.6 379.66,81.59 380.23,80.5 380.81,79.38 381.39,78.29 381.97,77.27 382.55,76.36 383.13,75.59 383.71,74.95 384.28,74.45 384.86,74.05 385.44,73.75 386.02,73.52 386.6,73.35 387.18,73.22 387.76,73.13 388.33,73.06 388.91,73.01 389.49,72.98 390.07,72.95 390.65,72.93 391.23,72.92 391.81,72.91 392.38,72.9 392.96,72.89 393.54,72.89 394.12,72.89 394.7,72.89 395.28,72.88 395.86,72.88 396.43,72.88 397.01,72.88 397.59,72.88 398.17,72.88 398.75,72.88 399.33,72.88 399.91,72.88 400.48,72.88 401.06,72.88 401.64,72.88 402.22,72.88 402.8,72.88 403.38,72.88 403.96,72.88 404.53,72.88 405.11,72.88 405.69,72.88 406.27,72.88 406.85,72.88 407.43,72.88 408.01,72.88 408.58,72.88 409.16,72.88 409.74,72.88 410.32,72.88 410.9,72.88 411.48,72.88 412.06,72.88 412.63,72.88 413.21,72.88 413.79,72.88 414.37,72.88 414.95,72.88 415.53,72.88 416.11,72.88 416.68,72.88 417.26,72.88 417.84,72.88 418.42,72.88 419,72.88 419.58,72.88 420.16,72.88 420.73,72.88 421.31,72.88 421.89,72.88 422.47,72.88 423.05,72.88 423.63,72.88 424.21,72.88 424.78,72.88 425.36,72.88 425.94,72.88 426.52,72.88" fill="none" stroke="#c01842" stroke-width="0.95"/>
<line x1="391.74" y1="67.56" x2="391.74" y2="63.57" stroke="#c01842" stroke-width="0.8" />
<line x1="390.44" y1="67.56" x2="393.04" y2="67.56" stroke="#c01842" stroke-width="0.8" />
<line x1="390.44" y1="63.57" x2="393.04" y2="63.57" stroke="#c01842" stroke-width="0.8" />
<rect x="355.62" y="85.39" width="2.9" height="2.9" fill="#b5002e"/>
<rect x="364.3" y="86.06" width="2.9" height="2.9" fill="#b5002e"/>
<rect x="372.98" y="82.4" width="2.9" height="2.9" fill="#b5002e"/>
<rect x="381.66" y="73.76" width="2.9" height="2.9" fill="#b5002e"/>
<rect x="390.34" y="63.45" width="2.9" height="2.9" fill="#b5002e"/>
<rect x="399.03" y="70.77" width="2.9" height="2.9" fill="#b5002e"/>
<rect x="407.71" y="71.43" width="2.9" height="2.9" fill="#b5002e"/>
<rect x="416.39" y="72.76" width="2.9" height="2.9" fill="#b5002e"/>
<rect x="425.07" y="74.42" width="2.9" height="2.9" fill="#b5002e"/>
<polyline points="357.09,83.19 357.67,83.19 358.25,83.19 358.83,83.19 359.41,83.19 359.99,83.19 360.56,83.19 361.14,83.19 361.72,83.19 362.3,83.19 362.88,83.19 363.46,83.19 364.03,83.19 364.61,83.19 365.19,83.19 365.77,83.19 366.35,83.19 366.93,83.19 367.51,83.19 368.08,83.19 368.66,83.19 369.24,83.19 369.82,83.18 370.4,83.18 370.98,83.18 371.56,83.18 372.13,83.18 372.71,83.17 373.29,83.17 373.87,83.16 374.45,83.15 375.03,83.13 375.61,83.11 376.18,83.08 376.76,83.04 377.34,82.99 377.92,82.91 378.5,82.82 379.08,82.68 379.66,82.51 380.23,82.29 380.81,82 381.39,81.65 381.97,81.23 382.55,80.75 383.13,80.22 383.71,79.66 384.28,79.11 384.86,78.58 385.44,78.1 386.02,77.69 386.6,77.35 387.18,77.07 387.76,76.86 388.33,76.69 388.91,76.56 389.49,76.47 390.07,76.4 390.65,76.35 391.23,76.31 391.81,76.28 392.38,76.26 392.96,76.24 393.54,76.23 394.12,76.23 394.7,76.22 395.28,76.22 395.86,76.21 396.43,76.21 397.01,76.21 397.59,76.21 398.17,76.21 398.75,76.21 399.33,76.21 399.91,76.21 400.48,76.21 401.06,76.21 401.64,76.21 402.22,76.21 402.8,76.21 403.38,76.21 403.96,76.21 404.53,76.21 405.11,76.21 405.69,76.21 406.27,76.21 406.85,76.21 407.43,76.21 408.01,76.21 408.58,76.21 409.16,76.21 409.74,76.21 410.32,76.21 410.9,76.21 411.48,76.21 412.06,76.21 412.63,76.21 413.21,76.21 413.79,76.21 414.37,76.21 414.95,76.21 415.53,76.21 416.11,76.21 416.68,76.21 417.26,76.21 417.84,76.21 418.42,76.21 419,76.21 419.58,76.21 420.16,76.21 420.73,76.21 421.31,76.21 421.89,76.21 422.47,76.21 423.05,76.21 423.63,76.21 424.21,76.21 424.78,76.21 425.36,76.21 425.94,76.21 426.52,76.21" fill="none" stroke="#3f5fa8" stroke-width="0.95"/>
<circle cx="357.07" cy="82.86" r="1.35" fill="#13307f"/>
<circle cx="365.75" cy="81.53" r="1.35" fill="#13307f"/>
<circle cx="374.43" cy="83.85" r="1.35" fill="#13307f"/>
<circle cx="383.11" cy="79.86" r="1.35" fill="#13307f"/>
<circle cx="391.79" cy="72.22" r="1.35" fill="#13307f"/>
<circle cx="400.48" cy="75.87" r="1.35" fill="#13307f"/>
<circle cx="409.16" cy="77.2" r="1.35" fill="#13307f"/>
<circle cx="417.84" cy="78.2" r="1.35" fill="#13307f"/>
<circle cx="426.52" cy="77.2" r="1.35" fill="#13307f"/>
<circle cx="376.84" cy="83.85" r="1.35" fill="#13307f"/>
<line x1="58" y1="139.8" x2="58" y2="208" stroke="#1a1a1a" stroke-width="1.3" />
<line x1="55.2" y1="208" x2="58" y2="208" stroke="#1a1a1a" stroke-width="1" />
<text transform="translate(52.2,208) scale(0.98,1)" font-size="7.6" text-anchor="end" dominant-baseline="central" font-weight="normal" fill="#1a1a1a" stroke="#1a1a1a" stroke-width="0.12" >0</text>
<line x1="55.2" y1="194.6" x2="58" y2="194.6" stroke="#1a1a1a" stroke-width="1" />
<text transform="translate(52.2,194.6) scale(0.98,1)" font-size="7.6" text-anchor="end" dominant-baseline="central" font-weight="normal" fill="#1a1a1a" stroke="#1a1a1a" stroke-width="0.12" >20</text>
<line x1="55.2" y1="181.2" x2="58" y2="181.2" stroke="#1a1a1a" stroke-width="1" />
<text transform="translate(52.2,181.2) scale(0.98,1)" font-size="7.6" text-anchor="end" dominant-baseline="central" font-weight="normal" fill="#1a1a1a" stroke="#1a1a1a" stroke-width="0.12" >40</text>
<line x1="55.2" y1="167.8" x2="58" y2="167.8" stroke="#1a1a1a" stroke-width="1" />
<text transform="translate(52.2,167.8) scale(0.98,1)" font-size="7.6" text-anchor="end" dominant-baseline="central" font-weight="normal" fill="#1a1a1a" stroke="#1a1a1a" stroke-width="0.12" >60</text>
<line x1="55.2" y1="154.4" x2="58" y2="154.4" stroke="#1a1a1a" stroke-width="1" />
<text transform="translate(52.2,154.4) scale(0.98,1)" font-size="7.6" text-anchor="end" dominant-baseline="central" font-weight="normal" fill="#1a1a1a" stroke="#1a1a1a" stroke-width="0.12" >80</text>
<line x1="55.2" y1="141" x2="58" y2="141" stroke="#1a1a1a" stroke-width="1" />
<text transform="translate(52.2,141) scale(0.98,1)" font-size="7.6" text-anchor="end" dominant-baseline="central" font-weight="normal" fill="#1a1a1a" stroke="#1a1a1a" stroke-width="0.12" >100</text>
<line x1="58" y1="208" x2="148.14" y2="208" stroke="#1a1a1a" stroke-width="1.3" />
<line x1="58" y1="208" x2="58" y2="210.8" stroke="#1a1a1a" stroke-width="1" />
<text transform="translate(58,218.3) scale(0.95,1)" font-size="8" text-anchor="middle" dominant-baseline="central" font-weight="normal" fill="#1a1a1a" stroke="#1a1a1a" stroke-width="0.12" >-2</text>
<line x1="70.42" y1="208" x2="70.42" y2="210.8" stroke="#1a1a1a" stroke-width="1" />
<text transform="translate(70.42,218.3) scale(0.95,1)" font-size="8" text-anchor="middle" dominant-baseline="central" font-weight="normal" fill="#1a1a1a" stroke="#1a1a1a" stroke-width="0.12" >-1</text>
<line x1="82.84" y1="208" x2="82.84" y2="210.8" stroke="#1a1a1a" stroke-width="1" />
<text transform="translate(82.84,218.3) scale(0.95,1)" font-size="8" text-anchor="middle" dominant-baseline="central" font-weight="normal" fill="#1a1a1a" stroke="#1a1a1a" stroke-width="0.12" >0</text>
<line x1="95.26" y1="208" x2="95.26" y2="210.8" stroke="#1a1a1a" stroke-width="1" />
<text transform="translate(95.26,218.3) scale(0.95,1)" font-size="8" text-anchor="middle" dominant-baseline="central" font-weight="normal" fill="#1a1a1a" stroke="#1a1a1a" stroke-width="0.12" >1</text>
<line x1="107.68" y1="208" x2="107.68" y2="210.8" stroke="#1a1a1a" stroke-width="1" />
<text transform="translate(107.68,218.3) scale(0.95,1)" font-size="8" text-anchor="middle" dominant-baseline="central" font-weight="normal" fill="#1a1a1a" stroke="#1a1a1a" stroke-width="0.12" >2</text>
<line x1="120.1" y1="208" x2="120.1" y2="210.8" stroke="#1a1a1a" stroke-width="1" />
<text transform="translate(120.1,218.3) scale(0.95,1)" font-size="8" text-anchor="middle" dominant-baseline="central" font-weight="normal" fill="#1a1a1a" stroke="#1a1a1a" stroke-width="0.12" >3</text>
<line x1="132.52" y1="208" x2="132.52" y2="210.8" stroke="#1a1a1a" stroke-width="1" />
<text transform="translate(132.52,218.3) scale(0.95,1)" font-size="8" text-anchor="middle" dominant-baseline="central" font-weight="normal" fill="#1a1a1a" stroke="#1a1a1a" stroke-width="0.12" >4</text>
<line x1="144.94" y1="208" x2="144.94" y2="210.8" stroke="#1a1a1a" stroke-width="1" />
<text transform="translate(144.94,218.3) scale(0.95,1)" font-size="8" text-anchor="middle" dominant-baseline="central" font-weight="normal" fill="#1a1a1a" stroke="#1a1a1a" stroke-width="0.12" >5</text>
<text transform="translate(110,234) scale(0.68,1)" font-size="8.8" text-anchor="middle" dominant-baseline="central" font-weight="normal" fill="#1a1a1a" stroke="#1a1a1a" stroke-width="0.18" letter-spacing="0.5">Log [AMG 701] (pM)</text>
<text transform="translate(30.3,174.5) rotate(-90) scale(0.75,1)" font-size="9.3" text-anchor="middle" dominant-baseline="central" font-weight="normal" fill="#1a1a1a" stroke="#1a1a1a" stroke-width="0.18" >PD-1<tspan dy="-2.4" font-size="6">+</tspan><tspan dy="2.4"> (% CD3</tspan><tspan dy="-2.4" font-size="6">+</tspan><tspan dy="2.4">)</tspan></text>
<polyline points="63.09,206.99 63.67,206.99 64.25,206.99 64.83,206.99 65.41,206.99 65.99,206.99 66.56,206.99 67.14,206.99 67.72,206.99 68.3,206.99 68.88,206.99 69.46,206.99 70.03,206.99 70.61,206.99 71.19,206.99 71.77,206.99 72.35,206.99 72.93,206.99 73.51,206.99 74.08,206.99 74.66,206.99 75.24,206.99 75.82,206.99 76.4,206.99 76.98,206.99 77.56,206.99 78.13,206.98 78.71,206.98 79.29,206.98 79.87,206.97 80.45,206.97 81.03,206.97 81.61,206.96 82.18,206.95 82.76,206.94 83.34,206.93 83.92,206.92 84.5,206.9 85.08,206.88 85.66,206.86 86.23,206.83 86.81,206.79 87.39,206.75 87.97,206.7 88.55,206.63 89.13,206.56 89.71,206.46 90.28,206.35 90.86,206.22 91.44,206.06 92.02,205.86 92.6,205.63 93.18,205.35 93.76,205.02 94.33,204.62 94.91,204.15 95.49,203.6 96.07,202.94 96.65,202.18 97.23,201.3 97.81,200.28 98.38,199.13 98.96,197.83 99.54,196.38 100.12,194.78 100.7,193.06 101.28,191.23 101.86,189.32 102.43,187.35 103.01,185.36 103.59,183.39 104.17,181.48 104.75,179.65 105.33,177.93 105.91,176.35 106.48,174.9 107.06,173.61 107.64,172.46 108.22,171.45 108.8,170.57 109.38,169.81 109.96,169.16 110.53,168.61 111.11,168.14 111.69,167.75 112.27,167.42 112.85,167.14 113.43,166.91 114.01,166.72 114.58,166.56 115.16,166.43 115.74,166.32 116.32,166.22 116.9,166.15 117.48,166.09 118.06,166.03 118.63,165.99 119.21,165.96 119.79,165.93 120.37,165.9 120.95,165.88 121.53,165.87 122.11,165.85 122.68,165.84 123.26,165.83 123.84,165.83 124.42,165.82 125,165.81 125.58,165.81 126.16,165.81 126.73,165.8 127.31,165.8 127.89,165.8 128.47,165.8 129.05,165.8 129.63,165.8 130.21,165.79 130.78,165.79 131.36,165.79 131.94,165.79 132.52,165.79" fill="none" stroke="#c01842" stroke-width="0.95"/>
<line x1="115.13" y1="170.48" x2="115.13" y2="165.12" stroke="#c01842" stroke-width="0.8" />
<line x1="113.83" y1="170.48" x2="116.43" y2="170.48" stroke="#c01842" stroke-width="0.8" />
<line x1="113.83" y1="165.12" x2="116.43" y2="165.12" stroke="#c01842" stroke-width="0.8" />
<line x1="123.83" y1="165.79" x2="123.83" y2="160.43" stroke="#c01842" stroke-width="0.8" />
<line x1="122.53" y1="165.79" x2="125.13" y2="165.79" stroke="#c01842" stroke-width="0.8" />
<line x1="122.53" y1="160.43" x2="125.13" y2="160.43" stroke="#c01842" stroke-width="0.8" />
<rect x="61.62" y="205.21" width="2.9" height="2.9" fill="#b5002e"/>
<rect x="70.3" y="205.21" width="2.9" height="2.9" fill="#b5002e"/>
<rect x="78.98" y="205.21" width="2.9" height="2.9" fill="#b5002e"/>
<rect x="87.66" y="205.21" width="2.9" height="2.9" fill="#b5002e"/>
<rect x="96.34" y="198.51" width="2.9" height="2.9" fill="#b5002e"/>
<rect x="105.03" y="175.06" width="2.9" height="2.9" fill="#b5002e"/>
<rect x="113.71" y="166.35" width="2.9" height="2.9" fill="#b5002e"/>
<rect x="122.39" y="161.66" width="2.9" height="2.9" fill="#b5002e"/>
<rect x="131.07" y="165.68" width="2.9" height="2.9" fill="#b5002e"/>
<rect x="81.39" y="205.21" width="2.9" height="2.9" fill="#b5002e"/>
<polyline points="63.09,206.99 63.67,206.99 64.25,206.99 64.83,206.99 65.41,206.99 65.99,206.99 66.56,206.99 67.14,206.99 67.72,206.99 68.3,206.99 68.88,206.99 69.46,206.99 70.03,206.99 70.61,206.99 71.19,206.99 71.77,206.99 72.35,206.99 72.93,206.99 73.51,206.99 74.08,206.99 74.66,206.99 75.24,206.99 75.82,206.99 76.4,206.99 76.98,206.99 77.56,206.99 78.13,206.98 78.71,206.98 79.29,206.98 79.87,206.98 80.45,206.97 81.03,206.97 81.61,206.96 82.18,206.96 82.76,206.95 83.34,206.94 83.92,206.93 84.5,206.92 85.08,206.91 85.66,206.89 86.23,206.88 86.81,206.85 87.39,206.83 87.97,206.79 88.55,206.76 89.13,206.71 89.71,206.66 90.28,206.6 90.86,206.53 91.44,206.44 92.02,206.34 92.6,206.23 93.18,206.09 93.76,205.92 94.33,205.74 94.91,205.51 95.49,205.26 96.07,204.96 96.65,204.62 97.23,204.23 97.81,203.78 98.38,203.28 98.96,202.71 99.54,202.08 100.12,201.38 100.7,200.62 101.28,199.8 101.86,198.92 102.43,198 103.01,197.04 103.59,196.06 104.17,195.07 104.75,194.08 105.33,193.12 105.91,192.18 106.48,191.29 107.06,190.46 107.64,189.68 108.22,188.97 108.8,188.32 109.38,187.73 109.96,187.21 110.53,186.75 111.11,186.35 111.69,186 112.27,185.69 112.85,185.42 113.43,185.19 114.01,185 114.58,184.83 115.16,184.68 115.74,184.56 116.32,184.46 116.9,184.37 117.48,184.29 118.06,184.23 118.63,184.17 119.21,184.13 119.79,184.09 120.37,184.06 120.95,184.03 121.53,184.01 122.11,183.99 122.68,183.97 123.26,183.95 123.84,183.94 124.42,183.93 125,183.92 125.58,183.92 126.16,183.91 126.73,183.91 127.31,183.9 127.89,183.9 128.47,183.9 129.05,183.89 129.63,183.89 130.21,183.89 130.78,183.89 131.36,183.89 131.94,183.89 132.52,183.88" fill="none" stroke="#5aaa36" stroke-width="0.95"/>
<line x1="106.44" y1="194.6" x2="106.44" y2="189.91" stroke="#5aaa36" stroke-width="0.8" />
<line x1="105.14" y1="194.6" x2="107.74" y2="194.6" stroke="#5aaa36" stroke-width="0.8" />
<line x1="105.14" y1="189.91" x2="107.74" y2="189.91" stroke="#5aaa36" stroke-width="0.8" />
<line x1="115.13" y1="186.56" x2="115.13" y2="181.2" stroke="#5aaa36" stroke-width="0.8" />
<line x1="113.83" y1="186.56" x2="116.43" y2="186.56" stroke="#5aaa36" stroke-width="0.8" />
<line x1="113.83" y1="181.2" x2="116.43" y2="181.2" stroke="#5aaa36" stroke-width="0.8" />
<line x1="132.52" y1="187.23" x2="132.52" y2="182.54" stroke="#5aaa36" stroke-width="0.8" />
<line x1="131.22" y1="187.23" x2="133.82" y2="187.23" stroke="#5aaa36" stroke-width="0.8" />
<line x1="131.22" y1="182.54" x2="133.82" y2="182.54" stroke="#5aaa36" stroke-width="0.8" />
<path d="M63.07 205.29L64.37 207.57L61.77 207.57Z" fill="#3f9a22" stroke="#3f9a22" stroke-width="0.6"/>
<path d="M71.75 205.29L73.05 207.57L70.45 207.57Z" fill="#3f9a22" stroke="#3f9a22" stroke-width="0.6"/>
<path d="M80.43 205.29L81.73 207.57L79.13 207.57Z" fill="#3f9a22" stroke="#3f9a22" stroke-width="0.6"/>
<path d="M89.11 205.29L90.41 207.57L87.81 207.57Z" fill="#3f9a22" stroke="#3f9a22" stroke-width="0.6"/>
<path d="M97.79 201.94L99.09 204.22L96.49 204.22Z" fill="#3f9a22" stroke="#3f9a22" stroke-width="0.6"/>
<path d="M106.48 190.89L107.78 193.16L105.18 193.16Z" fill="#3f9a22" stroke="#3f9a22" stroke-width="0.6"/>
<path d="M115.16 183.19L116.46 185.46L113.86 185.46Z" fill="#3f9a22" stroke="#3f9a22" stroke-width="0.6"/>
<path d="M123.84 182.25L125.14 184.52L122.54 184.52Z" fill="#3f9a22" stroke="#3f9a22" stroke-width="0.6"/>
<path d="M132.52 184.86L133.82 187.13L131.22 187.13Z" fill="#3f9a22" stroke="#3f9a22" stroke-width="0.6"/>
<polyline points="63.09,206.66 63.67,206.66 64.25,206.66 64.83,206.66 65.41,206.66 65.99,206.66 66.56,206.66 67.14,206.66 67.72,206.66 68.3,206.66 68.88,206.66 69.46,206.66 70.03,206.66 70.61,206.66 71.19,206.66 71.77,206.66 72.35,206.66 72.93,206.66 73.51,206.66 74.08,206.66 74.66,206.66 75.24,206.66 75.82,206.66 76.4,206.65 76.98,206.65 77.56,206.65 78.13,206.65 78.71,206.65 79.29,206.64 79.87,206.64 80.45,206.64 81.03,206.63 81.61,206.62 82.18,206.61 82.76,206.6 83.34,206.59 83.92,206.57 84.5,206.55 85.08,206.53 85.66,206.5 86.23,206.46 86.81,206.41 87.39,206.35 87.97,206.28 88.55,206.19 89.13,206.08 89.71,205.95 90.28,205.78 90.86,205.58 91.44,205.33 92.02,205.03 92.6,204.67 93.18,204.23 93.76,203.71 94.33,203.09 94.91,202.36 95.49,201.51 96.07,200.54 96.65,199.45 97.23,198.23 97.81,196.89 98.38,195.46 98.96,193.97 99.54,192.43 100.12,190.89 100.7,189.38 101.28,187.93 101.86,186.57 102.43,185.33 103.01,184.2 103.59,183.2 104.17,182.33 104.75,181.58 105.33,180.93 105.91,180.39 106.48,179.94 107.06,179.56 107.64,179.24 108.22,178.99 108.8,178.77 109.38,178.6 109.96,178.46 110.53,178.34 111.11,178.25 111.69,178.17 112.27,178.11 112.85,178.06 113.43,178.02 114.01,177.99 114.58,177.96 115.16,177.94 115.74,177.92 116.32,177.91 116.9,177.9 117.48,177.89 118.06,177.88 118.63,177.87 119.21,177.87 119.79,177.87 120.37,177.86 120.95,177.86 121.53,177.86 122.11,177.86 122.68,177.86 123.26,177.85 123.84,177.85 124.42,177.85 125,177.85 125.58,177.85 126.16,177.85 126.73,177.85 127.31,177.85 127.89,177.85 128.47,177.85 129.05,177.85 129.63,177.85 130.21,177.85 130.78,177.85 131.36,177.85 131.94,177.85 132.52,177.85" fill="none" stroke="#3f5fa8" stroke-width="0.95"/>
<circle cx="63.07" cy="206.66" r="1.35" fill="#13307f"/>
<circle cx="71.75" cy="206.66" r="1.35" fill="#13307f"/>
<circle cx="80.43" cy="206.66" r="1.35" fill="#13307f"/>
<circle cx="89.11" cy="206.66" r="1.35" fill="#13307f"/>
<circle cx="97.79" cy="196.61" r="1.35" fill="#13307f"/>
<circle cx="106.48" cy="181.87" r="1.35" fill="#13307f"/>
<circle cx="115.16" cy="177.85" r="1.35" fill="#13307f"/>
<circle cx="123.84" cy="177.51" r="1.35" fill="#13307f"/>
<circle cx="132.52" cy="177.85" r="1.35" fill="#13307f"/>
<circle cx="82.84" cy="206.66" r="1.35" fill="#13307f"/>
<line x1="205" y1="140.05" x2="205" y2="208" stroke="#1a1a1a" stroke-width="1.3" />
<line x1="202.2" y1="208" x2="205" y2="208" stroke="#1a1a1a" stroke-width="1" />
<text transform="translate(199.2,208) scale(0.98,1)" font-size="7.6" text-anchor="end" dominant-baseline="central" font-weight="normal" fill="#1a1a1a" stroke="#1a1a1a" stroke-width="0.12" >-20</text>
<line x1="202.2" y1="196.88" x2="205" y2="196.88" stroke="#1a1a1a" stroke-width="1" />
<text transform="translate(199.2,196.88) scale(0.98,1)" font-size="7.6" text-anchor="end" dominant-baseline="central" font-weight="normal" fill="#1a1a1a" stroke="#1a1a1a" stroke-width="0.12" >0</text>
<line x1="202.2" y1="185.75" x2="205" y2="185.75" stroke="#1a1a1a" stroke-width="1" />
<text transform="translate(199.2,185.75) scale(0.98,1)" font-size="7.6" text-anchor="end" dominant-baseline="central" font-weight="normal" fill="#1a1a1a" stroke="#1a1a1a" stroke-width="0.12" >20</text>
<line x1="202.2" y1="174.62" x2="205" y2="174.62" stroke="#1a1a1a" stroke-width="1" />
<text transform="translate(199.2,174.62) scale(0.98,1)" font-size="7.6" text-anchor="end" dominant-baseline="central" font-weight="normal" fill="#1a1a1a" stroke="#1a1a1a" stroke-width="0.12" >40</text>
<line x1="202.2" y1="163.5" x2="205" y2="163.5" stroke="#1a1a1a" stroke-width="1" />
<text transform="translate(199.2,163.5) scale(0.98,1)" font-size="7.6" text-anchor="end" dominant-baseline="central" font-weight="normal" fill="#1a1a1a" stroke="#1a1a1a" stroke-width="0.12" >60</text>
<line x1="202.2" y1="152.38" x2="205" y2="152.38" stroke="#1a1a1a" stroke-width="1" />
<text transform="translate(199.2,152.38) scale(0.98,1)" font-size="7.6" text-anchor="end" dominant-baseline="central" font-weight="normal" fill="#1a1a1a" stroke="#1a1a1a" stroke-width="0.12" >80</text>
<line x1="202.2" y1="141.25" x2="205" y2="141.25" stroke="#1a1a1a" stroke-width="1" />
<text transform="translate(199.2,141.25) scale(0.98,1)" font-size="7.6" text-anchor="end" dominant-baseline="central" font-weight="normal" fill="#1a1a1a" stroke="#1a1a1a" stroke-width="0.12" >100</text>
<line x1="205" y1="208" x2="295.14" y2="208" stroke="#1a1a1a" stroke-width="1.3" />
<line x1="205" y1="208" x2="205" y2="210.8" stroke="#1a1a1a" stroke-width="1" />
<text transform="translate(205,218.3) scale(0.95,1)" font-size="8" text-anchor="middle" dominant-baseline="central" font-weight="normal" fill="#1a1a1a" stroke="#1a1a1a" stroke-width="0.12" >-2</text>
<line x1="217.42" y1="208" x2="217.42" y2="210.8" stroke="#1a1a1a" stroke-width="1" />
<text transform="translate(217.42,218.3) scale(0.95,1)" font-size="8" text-anchor="middle" dominant-baseline="central" font-weight="normal" fill="#1a1a1a" stroke="#1a1a1a" stroke-width="0.12" >-1</text>
<line x1="229.84" y1="208" x2="229.84" y2="210.8" stroke="#1a1a1a" stroke-width="1" />
<text transform="translate(229.84,218.3) scale(0.95,1)" font-size="8" text-anchor="middle" dominant-baseline="central" font-weight="normal" fill="#1a1a1a" stroke="#1a1a1a" stroke-width="0.12" >0</text>
<line x1="242.26" y1="208" x2="242.26" y2="210.8" stroke="#1a1a1a" stroke-width="1" />
<text transform="translate(242.26,218.3) scale(0.95,1)" font-size="8" text-anchor="middle" dominant-baseline="central" font-weight="normal" fill="#1a1a1a" stroke="#1a1a1a" stroke-width="0.12" >1</text>
<line x1="254.68" y1="208" x2="254.68" y2="210.8" stroke="#1a1a1a" stroke-width="1" />
<text transform="translate(254.68,218.3) scale(0.95,1)" font-size="8" text-anchor="middle" dominant-baseline="central" font-weight="normal" fill="#1a1a1a" stroke="#1a1a1a" stroke-width="0.12" >2</text>
<line x1="267.1" y1="208" x2="267.1" y2="210.8" stroke="#1a1a1a" stroke-width="1" />
<text transform="translate(267.1,218.3) scale(0.95,1)" font-size="8" text-anchor="middle" dominant-baseline="central" font-weight="normal" fill="#1a1a1a" stroke="#1a1a1a" stroke-width="0.12" >3</text>
<line x1="279.52" y1="208" x2="279.52" y2="210.8" stroke="#1a1a1a" stroke-width="1" />
<text transform="translate(279.52,218.3) scale(0.95,1)" font-size="8" text-anchor="middle" dominant-baseline="central" font-weight="normal" fill="#1a1a1a" stroke="#1a1a1a" stroke-width="0.12" >4</text>
<line x1="291.94" y1="208" x2="291.94" y2="210.8" stroke="#1a1a1a" stroke-width="1" />
<text transform="translate(291.94,218.3) scale(0.95,1)" font-size="8" text-anchor="middle" dominant-baseline="central" font-weight="normal" fill="#1a1a1a" stroke="#1a1a1a" stroke-width="0.12" >5</text>
<text transform="translate(257,234) scale(0.68,1)" font-size="8.8" text-anchor="middle" dominant-baseline="central" font-weight="normal" fill="#1a1a1a" stroke="#1a1a1a" stroke-width="0.18" letter-spacing="0.5">Log [AMG 701] (pM)</text>
<text transform="translate(177.3,174.62) rotate(-90) scale(0.75,1)" font-size="9.3" text-anchor="middle" dominant-baseline="central" font-weight="normal" fill="#1a1a1a" stroke="#1a1a1a" stroke-width="0.18" >PD-1<tspan dy="-2.4" font-size="6">+</tspan><tspan dy="2.4"> (% CD3</tspan><tspan dy="-2.4" font-size="6">+</tspan><tspan dy="2.4">)</tspan></text>
<polyline points="210.09,196.32 210.67,196.32 211.25,196.32 211.83,196.32 212.41,196.32 212.99,196.32 213.56,196.32 214.14,196.32 214.72,196.32 215.3,196.32 215.88,196.32 216.46,196.32 217.03,196.32 217.61,196.32 218.19,196.32 218.77,196.32 219.35,196.32 219.93,196.32 220.51,196.32 221.08,196.32 221.66,196.32 222.24,196.32 222.82,196.32 223.4,196.32 223.98,196.32 224.56,196.32 225.13,196.32 225.71,196.32 226.29,196.32 226.87,196.32 227.45,196.32 228.03,196.32 228.61,196.32 229.18,196.32 229.76,196.31 230.34,196.31 230.92,196.31 231.5,196.31 232.08,196.31 232.66,196.31 233.23,196.3 233.81,196.3 234.39,196.29 234.97,196.29 235.55,196.28 236.13,196.27 236.71,196.25 237.28,196.24 237.86,196.22 238.44,196.19 239.02,196.16 239.6,196.11 240.18,196.06 240.76,195.99 241.33,195.9 241.91,195.79 242.49,195.65 243.07,195.48 243.65,195.26 244.23,194.99 244.81,194.64 245.38,194.22 245.96,193.69 246.54,193.04 247.12,192.25 247.7,191.29 248.28,190.13 248.86,188.76 249.43,187.15 250.01,185.3 250.59,183.21 251.17,180.9 251.75,178.4 252.33,175.78 252.91,173.1 253.48,170.43 254.06,167.84 254.64,165.4 255.22,163.15 255.8,161.13 256.38,159.36 256.96,157.82 257.53,156.52 258.11,155.42 258.69,154.51 259.27,153.77 259.85,153.16 260.43,152.66 261.01,152.27 261.58,151.95 262.16,151.69 262.74,151.49 263.32,151.33 263.9,151.2 264.48,151.1 265.06,151.01 265.63,150.95 266.21,150.9 266.79,150.86 267.37,150.83 267.95,150.8 268.53,150.78 269.11,150.77 269.68,150.75 270.26,150.74 270.84,150.74 271.42,150.73 272,150.72 272.58,150.72 273.16,150.72 273.73,150.72 274.31,150.71 274.89,150.71 275.47,150.71 276.05,150.71 276.63,150.71 277.21,150.71 277.78,150.71 278.36,150.71 278.94,150.71 279.52,150.71" fill="none" stroke="#5aaa36" stroke-width="0.95"/>
<line x1="227.48" y1="197.43" x2="227.48" y2="192.43" stroke="#5aaa36" stroke-width="0.8" />
<line x1="226.18" y1="197.43" x2="228.78" y2="197.43" stroke="#5aaa36" stroke-width="0.8" />
<line x1="226.18" y1="192.43" x2="228.78" y2="192.43" stroke="#5aaa36" stroke-width="0.8" />
<line x1="253.44" y1="172.4" x2="253.44" y2="165.72" stroke="#5aaa36" stroke-width="0.8" />
<line x1="252.14" y1="172.4" x2="254.74" y2="172.4" stroke="#5aaa36" stroke-width="0.8" />
<line x1="252.14" y1="165.72" x2="254.74" y2="165.72" stroke="#5aaa36" stroke-width="0.8" />
<line x1="270.83" y1="152.93" x2="270.83" y2="149.04" stroke="#5aaa36" stroke-width="0.8" />
<line x1="269.53" y1="152.93" x2="272.13" y2="152.93" stroke="#5aaa36" stroke-width="0.8" />
<line x1="269.53" y1="149.04" x2="272.13" y2="149.04" stroke="#5aaa36" stroke-width="0.8" />
<path d="M210.07 194.95L211.37 197.23L208.77 197.23Z" fill="#3f9a22" stroke="#3f9a22" stroke-width="0.6"/>
<path d="M218.75 194.95L220.05 197.23L217.45 197.23Z" fill="#3f9a22" stroke="#3f9a22" stroke-width="0.6"/>
<path d="M227.43 193.51L228.73 195.78L226.13 195.78Z" fill="#3f9a22" stroke="#3f9a22" stroke-width="0.6"/>
<path d="M236.11 194.95L237.41 197.23L234.81 197.23Z" fill="#3f9a22" stroke="#3f9a22" stroke-width="0.6"/>
<path d="M244.79 190.89L246.09 193.17L243.49 193.17Z" fill="#3f9a22" stroke="#3f9a22" stroke-width="0.6"/>
<path d="M253.48 166.86L254.78 169.14L252.18 169.14Z" fill="#3f9a22" stroke="#3f9a22" stroke-width="0.6"/>
<path d="M262.16 155.18L263.46 157.46L260.86 157.46Z" fill="#3f9a22" stroke="#3f9a22" stroke-width="0.6"/>
<path d="M270.84 149.45L272.14 151.73L269.54 151.73Z" fill="#3f9a22" stroke="#3f9a22" stroke-width="0.6"/>
<path d="M279.52 148.95L280.82 151.23L278.22 151.23Z" fill="#3f9a22" stroke="#3f9a22" stroke-width="0.6"/>
<polyline points="210.09,196.86 210.67,196.86 211.25,196.86 211.83,196.86 212.41,196.86 212.99,196.85 213.56,196.85 214.14,196.85 214.72,196.84 215.3,196.84 215.88,196.83 216.46,196.83 217.03,196.82 217.61,196.81 218.19,196.81 218.77,196.8 219.35,196.79 219.93,196.77 220.51,196.76 221.08,196.74 221.66,196.73 222.24,196.7 222.82,196.68 223.4,196.66 223.98,196.63 224.56,196.59 225.13,196.55 225.71,196.51 226.29,196.46 226.87,196.4 227.45,196.34 228.03,196.27 228.61,196.19 229.18,196.1 229.76,195.99 230.34,195.88 230.92,195.75 231.5,195.6 232.08,195.43 232.66,195.25 233.23,195.04 233.81,194.81 234.39,194.55 234.97,194.26 235.55,193.95 236.13,193.59 236.71,193.21 237.28,192.79 237.86,192.32 238.44,191.82 239.02,191.28 239.6,190.7 240.18,190.07 240.76,189.41 241.33,188.71 241.91,187.98 242.49,187.22 243.07,186.44 243.65,185.63 244.23,184.82 244.81,183.99 245.38,183.17 245.96,182.36 246.54,181.56 247.12,180.78 247.7,180.02 248.28,179.3 248.86,178.61 249.43,177.95 250.01,177.34 250.59,176.76 251.17,176.23 251.75,175.74 252.33,175.28 252.91,174.87 253.48,174.49 254.06,174.15 254.64,173.84 255.22,173.55 255.8,173.3 256.38,173.08 256.96,172.87 257.53,172.69 258.11,172.53 258.69,172.39 259.27,172.26 259.85,172.15 260.43,172.05 261.01,171.96 261.58,171.88 262.16,171.81 262.74,171.75 263.32,171.69 263.9,171.64 264.48,171.6 265.06,171.56 265.63,171.53 266.21,171.5 266.79,171.48 267.37,171.45 267.95,171.43 268.53,171.42 269.11,171.4 269.68,171.39 270.26,171.37 270.84,171.36 271.42,171.36 272,171.35 272.58,171.34 273.16,171.33 273.73,171.33 274.31,171.32 274.89,171.32 275.47,171.31 276.05,171.31 276.63,171.31 277.21,171.31 277.78,171.3 278.36,171.3 278.94,171.3 279.52,171.3" fill="none" stroke="#c01842" stroke-width="0.95"/>
<line x1="244.74" y1="184.08" x2="244.74" y2="178.52" stroke="#c01842" stroke-width="0.8" />
<line x1="243.44" y1="184.08" x2="246.04" y2="184.08" stroke="#c01842" stroke-width="0.8" />
<line x1="243.44" y1="178.52" x2="246.04" y2="178.52" stroke="#c01842" stroke-width="0.8" />
<rect x="208.62" y="194.87" width="2.9" height="2.9" fill="#b5002e"/>
<rect x="217.3" y="195.43" width="2.9" height="2.9" fill="#b5002e"/>
<rect x="225.98" y="195.43" width="2.9" height="2.9" fill="#b5002e"/>
<rect x="234.66" y="194.87" width="2.9" height="2.9" fill="#b5002e"/>
<rect x="243.34" y="180.41" width="2.9" height="2.9" fill="#b5002e"/>
<rect x="252.03" y="175.4" width="2.9" height="2.9" fill="#b5002e"/>
<rect x="260.71" y="174.01" width="2.9" height="2.9" fill="#b5002e"/>
<rect x="269.39" y="171.28" width="2.9" height="2.9" fill="#b5002e"/>
<rect x="278.07" y="166.22" width="2.9" height="2.9" fill="#b5002e"/>
<polyline points="210.09,196.32 210.67,196.32 211.25,196.32 211.83,196.32 212.41,196.32 212.99,196.32 213.56,196.32 214.14,196.32 214.72,196.32 215.3,196.32 215.88,196.32 216.46,196.32 217.03,196.32 217.61,196.32 218.19,196.32 218.77,196.32 219.35,196.32 219.93,196.32 220.51,196.32 221.08,196.32 221.66,196.32 222.24,196.32 222.82,196.32 223.4,196.32 223.98,196.32 224.56,196.32 225.13,196.32 225.71,196.32 226.29,196.32 226.87,196.32 227.45,196.32 228.03,196.32 228.61,196.32 229.18,196.32 229.76,196.31 230.34,196.31 230.92,196.31 231.5,196.31 232.08,196.31 232.66,196.3 233.23,196.29 233.81,196.28 234.39,196.27 234.97,196.25 235.55,196.23 236.13,196.19 236.71,196.14 237.28,196.08 237.86,195.99 238.44,195.87 239.02,195.7 239.6,195.49 240.18,195.2 240.76,194.84 241.33,194.37 241.91,193.8 242.49,193.12 243.07,192.34 243.65,191.49 244.23,190.59 244.81,189.71 245.38,188.88 245.96,188.13 246.54,187.49 247.12,186.96 247.7,186.53 248.28,186.2 248.86,185.94 249.43,185.74 250.01,185.6 250.59,185.49 251.17,185.41 251.75,185.35 252.33,185.31 252.91,185.28 253.48,185.25 254.06,185.24 254.64,185.23 255.22,185.22 255.8,185.21 256.38,185.21 256.96,185.2 257.53,185.2 258.11,185.2 258.69,185.2 259.27,185.2 259.85,185.2 260.43,185.2 261.01,185.19 261.58,185.19 262.16,185.19 262.74,185.19 263.32,185.19 263.9,185.19 264.48,185.19 265.06,185.19 265.63,185.19 266.21,185.19 266.79,185.19 267.37,185.19 267.95,185.19 268.53,185.19 269.11,185.19 269.68,185.19 270.26,185.19 270.84,185.19 271.42,185.19 272,185.19 272.58,185.19 273.16,185.19 273.73,185.19 274.31,185.19 274.89,185.19 275.47,185.19 276.05,185.19 276.63,185.19 277.21,185.19 277.78,185.19 278.36,185.19 278.94,185.19 279.52,185.19" fill="none" stroke="#3f5fa8" stroke-width="0.95"/>
<circle cx="210.07" cy="196.04" r="1.35" fill="#13307f"/>
<circle cx="218.75" cy="196.04" r="1.35" fill="#13307f"/>
<circle cx="227.43" cy="196.04" r="1.35" fill="#13307f"/>
<circle cx="236.11" cy="196.04" r="1.35" fill="#13307f"/>
<circle cx="244.79" cy="187.59" r="1.35" fill="#13307f"/>
<circle cx="253.48" cy="181.86" r="1.35" fill="#13307f"/>
<circle cx="262.16" cy="185.31" r="1.35" fill="#13307f"/>
<circle cx="270.84" cy="186.19" r="1.35" fill="#13307f"/>
<circle cx="279.52" cy="186.53" r="1.35" fill="#13307f"/>
<circle cx="229.84" cy="196.32" r="1.35" fill="#13307f"/>
<line x1="352" y1="139.8" x2="352" y2="208" stroke="#1a1a1a" stroke-width="1.3" />
<line x1="349.2" y1="208" x2="352" y2="208" stroke="#1a1a1a" stroke-width="1" />
<text transform="translate(346.2,208) scale(0.98,1)" font-size="7.6" text-anchor="end" dominant-baseline="central" font-weight="normal" fill="#1a1a1a" stroke="#1a1a1a" stroke-width="0.12" >0</text>
<line x1="349.2" y1="194.6" x2="352" y2="194.6" stroke="#1a1a1a" stroke-width="1" />
<text transform="translate(346.2,194.6) scale(0.98,1)" font-size="7.6" text-anchor="end" dominant-baseline="central" font-weight="normal" fill="#1a1a1a" stroke="#1a1a1a" stroke-width="0.12" >20</text>
<line x1="349.2" y1="181.2" x2="352" y2="181.2" stroke="#1a1a1a" stroke-width="1" />
<text transform="translate(346.2,181.2) scale(0.98,1)" font-size="7.6" text-anchor="end" dominant-baseline="central" font-weight="normal" fill="#1a1a1a" stroke="#1a1a1a" stroke-width="0.12" >40</text>
<line x1="349.2" y1="167.8" x2="352" y2="167.8" stroke="#1a1a1a" stroke-width="1" />
<text transform="translate(346.2,167.8) scale(0.98,1)" font-size="7.6" text-anchor="end" dominant-baseline="central" font-weight="normal" fill="#1a1a1a" stroke="#1a1a1a" stroke-width="0.12" >60</text>
<line x1="349.2" y1="154.4" x2="352" y2="154.4" stroke="#1a1a1a" stroke-width="1" />
<text transform="translate(346.2,154.4) scale(0.98,1)" font-size="7.6" text-anchor="end" dominant-baseline="central" font-weight="normal" fill="#1a1a1a" stroke="#1a1a1a" stroke-width="0.12" >80</text>
<line x1="349.2" y1="141" x2="352" y2="141" stroke="#1a1a1a" stroke-width="1" />
<text transform="translate(346.2,141) scale(0.98,1)" font-size="7.6" text-anchor="end" dominant-baseline="central" font-weight="normal" fill="#1a1a1a" stroke="#1a1a1a" stroke-width="0.12" >100</text>
<line x1="352" y1="208" x2="442.14" y2="208" stroke="#1a1a1a" stroke-width="1.3" />
<line x1="352" y1="208" x2="352" y2="210.8" stroke="#1a1a1a" stroke-width="1" />
<text transform="translate(352,218.3) scale(0.95,1)" font-size="8" text-anchor="middle" dominant-baseline="central" font-weight="normal" fill="#1a1a1a" stroke="#1a1a1a" stroke-width="0.12" >-2</text>
<line x1="364.42" y1="208" x2="364.42" y2="210.8" stroke="#1a1a1a" stroke-width="1" />
<text transform="translate(364.42,218.3) scale(0.95,1)" font-size="8" text-anchor="middle" dominant-baseline="central" font-weight="normal" fill="#1a1a1a" stroke="#1a1a1a" stroke-width="0.12" >-1</text>
<line x1="376.84" y1="208" x2="376.84" y2="210.8" stroke="#1a1a1a" stroke-width="1" />
<text transform="translate(376.84,218.3) scale(0.95,1)" font-size="8" text-anchor="middle" dominant-baseline="central" font-weight="normal" fill="#1a1a1a" stroke="#1a1a1a" stroke-width="0.12" >0</text>
<line x1="389.26" y1="208" x2="389.26" y2="210.8" stroke="#1a1a1a" stroke-width="1" />
<text transform="translate(389.26,218.3) scale(0.95,1)" font-size="8" text-anchor="middle" dominant-baseline="central" font-weight="normal" fill="#1a1a1a" stroke="#1a1a1a" stroke-width="0.12" >1</text>
<line x1="401.68" y1="208" x2="401.68" y2="210.8" stroke="#1a1a1a" stroke-width="1" />
<text transform="translate(401.68,218.3) scale(0.95,1)" font-size="8" text-anchor="middle" dominant-baseline="central" font-weight="normal" fill="#1a1a1a" stroke="#1a1a1a" stroke-width="0.12" >2</text>
<line x1="414.1" y1="208" x2="414.1" y2="210.8" stroke="#1a1a1a" stroke-width="1" />
<text transform="translate(414.1,218.3) scale(0.95,1)" font-size="8" text-anchor="middle" dominant-baseline="central" font-weight="normal" fill="#1a1a1a" stroke="#1a1a1a" stroke-width="0.12" >3</text>
<line x1="426.52" y1="208" x2="426.52" y2="210.8" stroke="#1a1a1a" stroke-width="1" />
<text transform="translate(426.52,218.3) scale(0.95,1)" font-size="8" text-anchor="middle" dominant-baseline="central" font-weight="normal" fill="#1a1a1a" stroke="#1a1a1a" stroke-width="0.12" >4</text>
<line x1="438.94" y1="208" x2="438.94" y2="210.8" stroke="#1a1a1a" stroke-width="1" />
<text transform="translate(438.94,218.3) scale(0.95,1)" font-size="8" text-anchor="middle" dominant-baseline="central" font-weight="normal" fill="#1a1a1a" stroke="#1a1a1a" stroke-width="0.12" >5</text>
<text transform="translate(404,234) scale(0.68,1)" font-size="8.8" text-anchor="middle" dominant-baseline="central" font-weight="normal" fill="#1a1a1a" stroke="#1a1a1a" stroke-width="0.18" letter-spacing="0.5">Log [AMG 701] (pM)</text>
<text transform="translate(324.3,174.5) rotate(-90) scale(0.75,1)" font-size="9.3" text-anchor="middle" dominant-baseline="central" font-weight="normal" fill="#1a1a1a" stroke="#1a1a1a" stroke-width="0.18" >PD-1<tspan dy="-2.4" font-size="6">+</tspan><tspan dy="2.4"> (% CD3</tspan><tspan dy="-2.4" font-size="6">+</tspan><tspan dy="2.4">)</tspan></text>
<polyline points="357.09,206.32 357.67,206.32 358.25,206.32 358.83,206.32 359.41,206.32 359.99,206.32 360.56,206.32 361.14,206.32 361.72,206.32 362.3,206.32 362.88,206.32 363.46,206.32 364.03,206.32 364.61,206.32 365.19,206.32 365.77,206.32 366.35,206.32 366.93,206.32 367.51,206.32 368.08,206.32 368.66,206.32 369.24,206.32 369.82,206.32 370.4,206.32 370.98,206.32 371.56,206.32 372.13,206.32 372.71,206.32 373.29,206.32 373.87,206.32 374.45,206.32 375.03,206.32 375.61,206.32 376.18,206.32 376.76,206.32 377.34,206.32 377.92,206.32 378.5,206.32 379.08,206.32 379.66,206.32 380.23,206.32 380.81,206.32 381.39,206.32 381.97,206.32 382.55,206.32 383.13,206.32 383.71,206.32 384.28,206.32 384.86,206.32 385.44,206.32 386.02,206.31 386.6,206.31 387.18,206.3 387.76,206.29 388.33,206.27 388.91,206.24 389.49,206.19 390.07,206.12 390.65,206.01 391.23,205.85 391.81,205.6 392.38,205.22 392.96,204.66 393.54,203.85 394.12,202.69 394.7,201.1 395.28,199.02 395.86,196.46 396.43,193.55 397.01,190.5 397.59,187.6 398.17,185.06 398.75,183 399.33,181.43 399.91,180.29 400.48,179.49 401.06,178.94 401.64,178.57 402.22,178.32 402.8,178.16 403.38,178.05 403.96,177.98 404.53,177.94 405.11,177.91 405.69,177.89 406.27,177.87 406.85,177.87 407.43,177.86 408.01,177.86 408.58,177.85 409.16,177.85 409.74,177.85 410.32,177.85 410.9,177.85 411.48,177.85 412.06,177.85 412.63,177.85 413.21,177.85 413.79,177.85 414.37,177.85 414.95,177.85 415.53,177.85 416.11,177.85 416.68,177.85 417.26,177.85 417.84,177.85 418.42,177.85 419,177.85 419.58,177.85 420.16,177.85 420.73,177.85 421.31,177.85 421.89,177.85 422.47,177.85 423.05,177.85 423.63,177.85 424.21,177.85 424.78,177.85 425.36,177.85 425.94,177.85 426.52,177.85" fill="none" stroke="#5aaa36" stroke-width="0.95"/>
<line x1="391.74" y1="206.66" x2="391.74" y2="199.96" stroke="#5aaa36" stroke-width="0.8" />
<line x1="390.44" y1="206.66" x2="393.04" y2="206.66" stroke="#5aaa36" stroke-width="0.8" />
<line x1="390.44" y1="199.96" x2="393.04" y2="199.96" stroke="#5aaa36" stroke-width="0.8" />
<line x1="409.13" y1="194.6" x2="409.13" y2="181.2" stroke="#5aaa36" stroke-width="0.8" />
<line x1="407.83" y1="194.6" x2="410.43" y2="194.6" stroke="#5aaa36" stroke-width="0.8" />
<line x1="407.83" y1="181.2" x2="410.43" y2="181.2" stroke="#5aaa36" stroke-width="0.8" />
<line x1="417.83" y1="177.18" x2="417.83" y2="171.15" stroke="#5aaa36" stroke-width="0.8" />
<line x1="416.53" y1="177.18" x2="419.13" y2="177.18" stroke="#5aaa36" stroke-width="0.8" />
<line x1="416.53" y1="171.15" x2="419.13" y2="171.15" stroke="#5aaa36" stroke-width="0.8" />
<line x1="426.52" y1="175.17" x2="426.52" y2="169.81" stroke="#5aaa36" stroke-width="0.8" />
<line x1="425.22" y1="175.17" x2="427.82" y2="175.17" stroke="#5aaa36" stroke-width="0.8" />
<line x1="425.22" y1="169.81" x2="427.82" y2="169.81" stroke="#5aaa36" stroke-width="0.8" />
<line x1="374.48" y1="206.66" x2="374.48" y2="202.64" stroke="#5aaa36" stroke-width="0.8" />
<line x1="373.18" y1="206.66" x2="375.78" y2="206.66" stroke="#5aaa36" stroke-width="0.8" />
<line x1="373.18" y1="202.64" x2="375.78" y2="202.64" stroke="#5aaa36" stroke-width="0.8" />
<path d="M357.07 204.96L358.37 207.23L355.77 207.23Z" fill="#3f9a22" stroke="#3f9a22" stroke-width="0.6"/>
<path d="M365.75 204.96L367.05 207.23L364.45 207.23Z" fill="#3f9a22" stroke="#3f9a22" stroke-width="0.6"/>
<path d="M374.43 204.96L375.73 207.23L373.13 207.23Z" fill="#3f9a22" stroke="#3f9a22" stroke-width="0.6"/>
<path d="M383.11 204.96L384.41 207.23L381.81 207.23Z" fill="#3f9a22" stroke="#3f9a22" stroke-width="0.6"/>
<path d="M391.79 201.94L393.09 204.22L390.49 204.22Z" fill="#3f9a22" stroke="#3f9a22" stroke-width="0.6"/>
<path d="M400.48 177.16L401.78 179.43L399.18 179.43Z" fill="#3f9a22" stroke="#3f9a22" stroke-width="0.6"/>
<path d="M409.16 186.2L410.46 188.47L407.86 188.47Z" fill="#3f9a22" stroke="#3f9a22" stroke-width="0.6"/>
<path d="M417.84 173.13L419.14 175.41L416.54 175.41Z" fill="#3f9a22" stroke="#3f9a22" stroke-width="0.6"/>
<path d="M426.52 171.33L427.82 173.6L425.22 173.6Z" fill="#3f9a22" stroke="#3f9a22" stroke-width="0.6"/>
<polyline points="357.09,207.33 357.67,207.33 358.25,207.33 358.83,207.33 359.41,207.33 359.99,207.33 360.56,207.33 361.14,207.33 361.72,207.33 362.3,207.33 362.88,207.33 363.46,207.33 364.03,207.33 364.61,207.33 365.19,207.33 365.77,207.33 366.35,207.33 366.93,207.33 367.51,207.33 368.08,207.33 368.66,207.33 369.24,207.33 369.82,207.33 370.4,207.33 370.98,207.33 371.56,207.33 372.13,207.33 372.71,207.33 373.29,207.33 373.87,207.33 374.45,207.33 375.03,207.33 375.61,207.33 376.18,207.33 376.76,207.33 377.34,207.33 377.92,207.33 378.5,207.33 379.08,207.33 379.66,207.33 380.23,207.33 380.81,207.33 381.39,207.33 381.97,207.33 382.55,207.33 383.13,207.33 383.71,207.33 384.28,207.33 384.86,207.33 385.44,207.33 386.02,207.33 386.6,207.33 387.18,207.33 387.76,207.33 388.33,207.32 388.91,206.54 389.49,197.95 390.07,196.3 390.65,196.28 391.23,196.28 391.81,196.28 392.38,196.28 392.96,196.28 393.54,196.28 394.12,196.28 394.7,196.28 395.28,196.28 395.86,196.28 396.43,196.28 397.01,196.28 397.59,196.28 398.17,196.28 398.75,196.28 399.33,196.28 399.91,196.28 400.48,196.28 401.06,196.28 401.64,196.28 402.22,196.28 402.8,196.28 403.38,196.28 403.96,196.28 404.53,196.28 405.11,196.28 405.69,196.28 406.27,196.28 406.85,196.28 407.43,196.28 408.01,196.28 408.58,196.28 409.16,196.28 409.74,196.28 410.32,196.28 410.9,196.28 411.48,196.28 412.06,196.28 412.63,196.28 413.21,196.28 413.79,196.28 414.37,196.28 414.95,196.28 415.53,196.28 416.11,196.28 416.68,196.28 417.26,196.28 417.84,196.28 418.42,196.28 419,196.28 419.58,196.28 420.16,196.28 420.73,196.28 421.31,196.28 421.89,196.28 422.47,196.28 423.05,196.28 423.63,196.28 424.21,196.28 424.78,196.28 425.36,196.28 425.94,196.28 426.52,196.28" fill="none" stroke="#c01842" stroke-width="0.95"/>
<rect x="355.62" y="205.88" width="2.9" height="2.9" fill="#b5002e"/>
<rect x="364.3" y="205.88" width="2.9" height="2.9" fill="#b5002e"/>
<rect x="372.98" y="205.88" width="2.9" height="2.9" fill="#b5002e"/>
<rect x="381.66" y="205.88" width="2.9" height="2.9" fill="#b5002e"/>
<rect x="390.34" y="192.48" width="2.9" height="2.9" fill="#b5002e"/>
<rect x="399.03" y="186.12" width="2.9" height="2.9" fill="#b5002e"/>
<rect x="407.71" y="195.96" width="2.9" height="2.9" fill="#b5002e"/>
<rect x="416.39" y="198.24" width="2.9" height="2.9" fill="#b5002e"/>
<rect x="425.07" y="198.91" width="2.9" height="2.9" fill="#b5002e"/>
<polyline points="357.09,207.33 357.67,207.33 358.25,207.33 358.83,207.33 359.41,207.33 359.99,207.33 360.56,207.33 361.14,207.33 361.72,207.33 362.3,207.33 362.88,207.33 363.46,207.33 364.03,207.33 364.61,207.33 365.19,207.33 365.77,207.33 366.35,207.33 366.93,207.33 367.51,207.33 368.08,207.33 368.66,207.33 369.24,207.33 369.82,207.33 370.4,207.33 370.98,207.33 371.56,207.33 372.13,207.33 372.71,207.33 373.29,207.33 373.87,207.33 374.45,207.33 375.03,207.33 375.61,207.33 376.18,207.33 376.76,207.33 377.34,207.33 377.92,207.33 378.5,207.32 379.08,207.32 379.66,207.32 380.23,207.31 380.81,207.3 381.39,207.28 381.97,207.25 382.55,207.21 383.13,207.15 383.71,207.05 384.28,206.91 384.86,206.7 385.44,206.39 386.02,205.94 386.6,205.33 387.18,204.54 387.76,203.55 388.33,202.42 388.91,201.24 389.49,200.11 390.07,199.12 390.65,198.31 391.23,197.69 391.81,197.24 392.38,196.92 392.96,196.71 393.54,196.56 394.12,196.46 394.7,196.4 395.28,196.35 395.86,196.33 396.43,196.31 397.01,196.3 397.59,196.29 398.17,196.28 398.75,196.28 399.33,196.28 399.91,196.28 400.48,196.28 401.06,196.28 401.64,196.28 402.22,196.28 402.8,196.28 403.38,196.28 403.96,196.28 404.53,196.28 405.11,196.28 405.69,196.28 406.27,196.28 406.85,196.28 407.43,196.28 408.01,196.28 408.58,196.28 409.16,196.28 409.74,196.28 410.32,196.28 410.9,196.28 411.48,196.28 412.06,196.28 412.63,196.28 413.21,196.28 413.79,196.28 414.37,196.28 414.95,196.28 415.53,196.28 416.11,196.28 416.68,196.28 417.26,196.28 417.84,196.28 418.42,196.28 419,196.28 419.58,196.28 420.16,196.28 420.73,196.28 421.31,196.28 421.89,196.28 422.47,196.28 423.05,196.28 423.63,196.28 424.21,196.28 424.78,196.28 425.36,196.28 425.94,196.28 426.52,196.28" fill="none" stroke="#3f5fa8" stroke-width="0.95"/>
<circle cx="357.07" cy="207" r="1.35" fill="#13307f"/>
<circle cx="365.75" cy="207" r="1.35" fill="#13307f"/>
<circle cx="374.43" cy="207" r="1.35" fill="#13307f"/>
<circle cx="383.11" cy="206.12" r="1.35" fill="#13307f"/>
<circle cx="391.79" cy="197.41" r="1.35" fill="#13307f"/>
<circle cx="400.48" cy="193.26" r="1.35" fill="#13307f"/>
<circle cx="409.16" cy="196.21" r="1.35" fill="#13307f"/>
<circle cx="417.84" cy="197.95" r="1.35" fill="#13307f"/>
<circle cx="426.52" cy="199.16" r="1.35" fill="#13307f"/>
<line x1="58" y1="256.55" x2="58" y2="324.75" stroke="#1a1a1a" stroke-width="1.3" />
<line x1="55.2" y1="324.75" x2="58" y2="324.75" stroke="#1a1a1a" stroke-width="1" />
<text transform="translate(52.2,324.75) scale(0.98,1)" font-size="7.6" text-anchor="end" dominant-baseline="central" font-weight="normal" fill="#1a1a1a" stroke="#1a1a1a" stroke-width="0.12" >0</text>
<line x1="55.2" y1="311.35" x2="58" y2="311.35" stroke="#1a1a1a" stroke-width="1" />
<text transform="translate(52.2,311.35) scale(0.98,1)" font-size="7.6" text-anchor="end" dominant-baseline="central" font-weight="normal" fill="#1a1a1a" stroke="#1a1a1a" stroke-width="0.12" >20</text>
<line x1="55.2" y1="297.95" x2="58" y2="297.95" stroke="#1a1a1a" stroke-width="1" />
<text transform="translate(52.2,297.95) scale(0.98,1)" font-size="7.6" text-anchor="end" dominant-baseline="central" font-weight="normal" fill="#1a1a1a" stroke="#1a1a1a" stroke-width="0.12" >40</text>
<line x1="55.2" y1="284.55" x2="58" y2="284.55" stroke="#1a1a1a" stroke-width="1" />
<text transform="translate(52.2,284.55) scale(0.98,1)" font-size="7.6" text-anchor="end" dominant-baseline="central" font-weight="normal" fill="#1a1a1a" stroke="#1a1a1a" stroke-width="0.12" >60</text>
<line x1="55.2" y1="271.15" x2="58" y2="271.15" stroke="#1a1a1a" stroke-width="1" />
<text transform="translate(52.2,271.15) scale(0.98,1)" font-size="7.6" text-anchor="end" dominant-baseline="central" font-weight="normal" fill="#1a1a1a" stroke="#1a1a1a" stroke-width="0.12" >80</text>
<line x1="55.2" y1="257.75" x2="58" y2="257.75" stroke="#1a1a1a" stroke-width="1" />
<text transform="translate(52.2,257.75) scale(0.98,1)" font-size="7.6" text-anchor="end" dominant-baseline="central" font-weight="normal" fill="#1a1a1a" stroke="#1a1a1a" stroke-width="0.12" >100</text>
<line x1="58" y1="324.75" x2="148.14" y2="324.75" stroke="#1a1a1a" stroke-width="1.3" />
<line x1="58" y1="324.75" x2="58" y2="327.55" stroke="#1a1a1a" stroke-width="1" />
<text transform="translate(58,335.05) scale(0.95,1)" font-size="8" text-anchor="middle" dominant-baseline="central" font-weight="normal" fill="#1a1a1a" stroke="#1a1a1a" stroke-width="0.12" >-2</text>
<line x1="70.42" y1="324.75" x2="70.42" y2="327.55" stroke="#1a1a1a" stroke-width="1" />
<text transform="translate(70.42,335.05) scale(0.95,1)" font-size="8" text-anchor="middle" dominant-baseline="central" font-weight="normal" fill="#1a1a1a" stroke="#1a1a1a" stroke-width="0.12" >-1</text>
<line x1="82.84" y1="324.75" x2="82.84" y2="327.55" stroke="#1a1a1a" stroke-width="1" />
<text transform="translate(82.84,335.05) scale(0.95,1)" font-size="8" text-anchor="middle" dominant-baseline="central" font-weight="normal" fill="#1a1a1a" stroke="#1a1a1a" stroke-width="0.12" >0</text>
<line x1="95.26" y1="324.75" x2="95.26" y2="327.55" stroke="#1a1a1a" stroke-width="1" />
<text transform="translate(95.26,335.05) scale(0.95,1)" font-size="8" text-anchor="middle" dominant-baseline="central" font-weight="normal" fill="#1a1a1a" stroke="#1a1a1a" stroke-width="0.12" >1</text>
<line x1="107.68" y1="324.75" x2="107.68" y2="327.55" stroke="#1a1a1a" stroke-width="1" />
<text transform="translate(107.68,335.05) scale(0.95,1)" font-size="8" text-anchor="middle" dominant-baseline="central" font-weight="normal" fill="#1a1a1a" stroke="#1a1a1a" stroke-width="0.12" >2</text>
<line x1="120.1" y1="324.75" x2="120.1" y2="327.55" stroke="#1a1a1a" stroke-width="1" />
<text transform="translate(120.1,335.05) scale(0.95,1)" font-size="8" text-anchor="middle" dominant-baseline="central" font-weight="normal" fill="#1a1a1a" stroke="#1a1a1a" stroke-width="0.12" >3</text>
<line x1="132.52" y1="324.75" x2="132.52" y2="327.55" stroke="#1a1a1a" stroke-width="1" />
<text transform="translate(132.52,335.05) scale(0.95,1)" font-size="8" text-anchor="middle" dominant-baseline="central" font-weight="normal" fill="#1a1a1a" stroke="#1a1a1a" stroke-width="0.12" >4</text>
<line x1="144.94" y1="324.75" x2="144.94" y2="327.55" stroke="#1a1a1a" stroke-width="1" />
<text transform="translate(144.94,335.05) scale(0.95,1)" font-size="8" text-anchor="middle" dominant-baseline="central" font-weight="normal" fill="#1a1a1a" stroke="#1a1a1a" stroke-width="0.12" >5</text>
<text transform="translate(110,350.75) scale(0.68,1)" font-size="8.8" text-anchor="middle" dominant-baseline="central" font-weight="normal" fill="#1a1a1a" stroke="#1a1a1a" stroke-width="0.18" letter-spacing="0.5">Log [AMG 701] (pM)</text>
<text transform="translate(30.3,291.25) rotate(-90) scale(0.75,1)" font-size="9.3" text-anchor="middle" dominant-baseline="central" font-weight="normal" fill="#1a1a1a" stroke="#1a1a1a" stroke-width="0.18" >PD-1<tspan dy="-2.4" font-size="6">+</tspan><tspan dy="2.4"> (% CD3</tspan><tspan dy="-2.4" font-size="6">+</tspan><tspan dy="2.4">)</tspan></text>
<polyline points="63.09,319.39 63.67,319.39 64.25,319.39 64.83,319.39 65.41,319.39 65.99,319.39 66.56,319.38 67.14,319.38 67.72,319.38 68.3,319.38 68.88,319.38 69.46,319.38 70.03,319.37 70.61,319.37 71.19,319.37 71.77,319.36 72.35,319.36 72.93,319.35 73.51,319.35 74.08,319.34 74.66,319.33 75.24,319.32 75.82,319.3 76.4,319.29 76.98,319.27 77.56,319.24 78.13,319.22 78.71,319.18 79.29,319.14 79.87,319.1 80.45,319.04 81.03,318.98 81.61,318.9 82.18,318.81 82.76,318.71 83.34,318.58 83.92,318.43 84.5,318.26 85.08,318.05 85.66,317.81 86.23,317.53 86.81,317.2 87.39,316.81 87.97,316.35 88.55,315.83 89.13,315.22 89.71,314.51 90.28,313.7 90.86,312.78 91.44,311.74 92.02,310.57 92.6,309.26 93.18,307.81 93.76,306.22 94.33,304.51 94.91,302.67 95.49,300.74 96.07,298.72 96.65,296.65 97.23,294.56 97.81,292.47 98.38,290.41 98.96,288.42 99.54,286.52 100.12,284.73 100.7,283.06 101.28,281.52 101.86,280.12 102.43,278.86 103.01,277.74 103.59,276.74 104.17,275.86 104.75,275.09 105.33,274.42 105.91,273.84 106.48,273.35 107.06,272.92 107.64,272.55 108.22,272.23 108.8,271.97 109.38,271.74 109.96,271.54 110.53,271.38 111.11,271.24 111.69,271.12 112.27,271.02 112.85,270.94 113.43,270.87 114.01,270.8 114.58,270.75 115.16,270.71 115.74,270.67 116.32,270.64 116.9,270.62 117.48,270.6 118.06,270.58 118.63,270.56 119.21,270.55 119.79,270.54 120.37,270.53 120.95,270.52 121.53,270.52 122.11,270.51 122.68,270.5 123.26,270.5 123.84,270.5 124.42,270.49 125,270.49 125.58,270.49 126.16,270.49 126.73,270.49 127.31,270.49 127.89,270.49 128.47,270.48 129.05,270.48 129.63,270.48 130.21,270.48 130.78,270.48 131.36,270.48 131.94,270.48 132.52,270.48" fill="none" stroke="#5aaa36" stroke-width="0.95"/>
<line x1="80.48" y1="320.73" x2="80.48" y2="314.7" stroke="#5aaa36" stroke-width="0.8" />
<line x1="79.18" y1="320.73" x2="81.78" y2="320.73" stroke="#5aaa36" stroke-width="0.8" />
<line x1="79.18" y1="314.7" x2="81.78" y2="314.7" stroke="#5aaa36" stroke-width="0.8" />
<path d="M63.07 318.02L64.37 320.3L61.77 320.3Z" fill="#3f9a22" stroke="#3f9a22" stroke-width="0.6"/>
<path d="M71.75 318.02L73.05 320.3L70.45 320.3Z" fill="#3f9a22" stroke="#3f9a22" stroke-width="0.6"/>
<path d="M80.43 318.02L81.73 320.3L79.13 320.3Z" fill="#3f9a22" stroke="#3f9a22" stroke-width="0.6"/>
<path d="M89.11 314.68L90.41 316.95L87.81 316.95Z" fill="#3f9a22" stroke="#3f9a22" stroke-width="0.6"/>
<path d="M97.79 293.24L99.09 295.51L96.49 295.51Z" fill="#3f9a22" stroke="#3f9a22" stroke-width="0.6"/>
<path d="M106.48 272.46L107.78 274.74L105.18 274.74Z" fill="#3f9a22" stroke="#3f9a22" stroke-width="0.6"/>
<path d="M115.16 271.79L116.46 274.07L113.86 274.07Z" fill="#3f9a22" stroke="#3f9a22" stroke-width="0.6"/>
<path d="M123.84 269.78L125.14 272.06L122.54 272.06Z" fill="#3f9a22" stroke="#3f9a22" stroke-width="0.6"/>
<path d="M132.52 269.12L133.82 271.39L131.22 271.39Z" fill="#3f9a22" stroke="#3f9a22" stroke-width="0.6"/>
<polyline points="63.09,320.06 63.67,320.06 64.25,320.06 64.83,320.06 65.41,320.06 65.99,320.06 66.56,320.06 67.14,320.05 67.72,320.05 68.3,320.05 68.88,320.05 69.46,320.05 70.03,320.05 70.61,320.04 71.19,320.04 71.77,320.04 72.35,320.03 72.93,320.03 73.51,320.02 74.08,320.02 74.66,320.01 75.24,320 75.82,319.99 76.4,319.97 76.98,319.96 77.56,319.94 78.13,319.91 78.71,319.89 79.29,319.85 79.87,319.81 80.45,319.77 81.03,319.71 81.61,319.65 82.18,319.57 82.76,319.48 83.34,319.38 83.92,319.25 84.5,319.1 85.08,318.93 85.66,318.72 86.23,318.48 86.81,318.2 87.39,317.86 87.97,317.47 88.55,317.02 89.13,316.49 89.71,315.88 90.28,315.17 90.86,314.36 91.44,313.44 92.02,312.39 92.6,311.21 93.18,309.89 93.76,308.43 94.33,306.84 94.91,305.11 95.49,303.26 96.07,301.3 96.65,299.26 97.23,297.17 97.81,295.04 98.38,292.92 98.96,290.84 99.54,288.81 100.12,286.88 100.7,285.05 101.28,283.35 101.86,281.78 102.43,280.36 103.01,279.07 103.59,277.92 104.17,276.9 104.75,276 105.33,275.21 105.91,274.52 106.48,273.93 107.06,273.42 107.64,272.98 108.22,272.6 108.8,272.28 109.38,272 109.96,271.77 110.53,271.57 111.11,271.4 111.69,271.26 112.27,271.14 112.85,271.04 113.43,270.95 114.01,270.88 114.58,270.81 115.16,270.76 115.74,270.72 116.32,270.68 116.9,270.65 117.48,270.62 118.06,270.6 118.63,270.58 119.21,270.56 119.79,270.55 120.37,270.54 120.95,270.53 121.53,270.52 122.11,270.52 122.68,270.51 123.26,270.51 123.84,270.5 124.42,270.5 125,270.5 125.58,270.49 126.16,270.49 126.73,270.49 127.31,270.49 127.89,270.49 128.47,270.49 129.05,270.48 129.63,270.48 130.21,270.48 130.78,270.48 131.36,270.48 131.94,270.48 132.52,270.48" fill="none" stroke="#c01842" stroke-width="0.95"/>
<line x1="123.83" y1="274.5" x2="123.83" y2="264.45" stroke="#c01842" stroke-width="0.8" />
<line x1="122.53" y1="274.5" x2="125.13" y2="274.5" stroke="#c01842" stroke-width="0.8" />
<line x1="122.53" y1="264.45" x2="125.13" y2="264.45" stroke="#c01842" stroke-width="0.8" />
<line x1="115.13" y1="276.51" x2="115.13" y2="271.15" stroke="#c01842" stroke-width="0.8" />
<line x1="113.83" y1="276.51" x2="116.43" y2="276.51" stroke="#c01842" stroke-width="0.8" />
<line x1="113.83" y1="271.15" x2="116.43" y2="271.15" stroke="#c01842" stroke-width="0.8" />
<rect x="61.62" y="318.61" width="2.9" height="2.9" fill="#b5002e"/>
<rect x="70.3" y="318.61" width="2.9" height="2.9" fill="#b5002e"/>
<rect x="78.98" y="318.61" width="2.9" height="2.9" fill="#b5002e"/>
<rect x="87.66" y="316.26" width="2.9" height="2.9" fill="#b5002e"/>
<rect x="96.34" y="292.08" width="2.9" height="2.9" fill="#b5002e"/>
<rect x="105.03" y="272.38" width="2.9" height="2.9" fill="#b5002e"/>
<rect x="113.71" y="272.38" width="2.9" height="2.9" fill="#b5002e"/>
<rect x="122.39" y="268.69" width="2.9" height="2.9" fill="#b5002e"/>
<rect x="131.07" y="265.21" width="2.9" height="2.9" fill="#b5002e"/>
<polyline points="63.09,320.73 63.67,320.73 64.25,320.73 64.83,320.73 65.41,320.72 65.99,320.72 66.56,320.72 67.14,320.72 67.72,320.72 68.3,320.72 68.88,320.72 69.46,320.71 70.03,320.71 70.61,320.71 71.19,320.7 71.77,320.7 72.35,320.69 72.93,320.69 73.51,320.68 74.08,320.67 74.66,320.66 75.24,320.65 75.82,320.63 76.4,320.62 76.98,320.6 77.56,320.57 78.13,320.55 78.71,320.52 79.29,320.48 79.87,320.43 80.45,320.38 81.03,320.32 81.61,320.25 82.18,320.17 82.76,320.07 83.34,319.96 83.92,319.83 84.5,319.68 85.08,319.5 85.66,319.29 86.23,319.05 86.81,318.77 87.39,318.45 87.97,318.07 88.55,317.64 89.13,317.15 89.71,316.59 90.28,315.94 90.86,315.22 91.44,314.4 92.02,313.48 92.6,312.46 93.18,311.33 93.76,310.09 94.33,308.75 94.91,307.32 95.49,305.79 96.07,304.19 96.65,302.53 97.23,300.83 97.81,299.1 98.38,297.39 98.96,295.69 99.54,294.04 100.12,292.45 100.7,290.95 101.28,289.53 101.86,288.21 102.43,287 103.01,285.9 103.59,284.9 104.17,284 104.75,283.2 105.33,282.49 105.91,281.87 106.48,281.32 107.06,280.84 107.64,280.42 108.22,280.06 108.8,279.74 109.38,279.47 109.96,279.24 110.53,279.04 111.11,278.87 111.69,278.72 112.27,278.59 112.85,278.48 113.43,278.39 114.01,278.31 114.58,278.24 115.16,278.19 115.74,278.14 116.32,278.09 116.9,278.06 117.48,278.03 118.06,278 118.63,277.98 119.21,277.96 119.79,277.94 120.37,277.93 120.95,277.92 121.53,277.91 122.11,277.9 122.68,277.89 123.26,277.89 123.84,277.88 124.42,277.88 125,277.87 125.58,277.87 126.16,277.87 126.73,277.86 127.31,277.86 127.89,277.86 128.47,277.86 129.05,277.86 129.63,277.86 130.21,277.86 130.78,277.85 131.36,277.85 131.94,277.85 132.52,277.85" fill="none" stroke="#3f5fa8" stroke-width="0.95"/>
<circle cx="63.07" cy="321.06" r="1.35" fill="#13307f"/>
<circle cx="71.75" cy="321.06" r="1.35" fill="#13307f"/>
<circle cx="80.43" cy="320.73" r="1.35" fill="#13307f"/>
<circle cx="89.11" cy="316.04" r="1.35" fill="#13307f"/>
<circle cx="97.79" cy="296.94" r="1.35" fill="#13307f"/>
<circle cx="106.48" cy="283.88" r="1.35" fill="#13307f"/>
<circle cx="115.16" cy="278.79" r="1.35" fill="#13307f"/>
<circle cx="123.84" cy="277.85" r="1.35" fill="#13307f"/>
<circle cx="132.52" cy="277.58" r="1.35" fill="#13307f"/>
<circle cx="82.84" cy="321.4" r="1.35" fill="#13307f"/>
<line x1="205" y1="256.55" x2="205" y2="324.75" stroke="#1a1a1a" stroke-width="1.3" />
<line x1="202.2" y1="324.75" x2="205" y2="324.75" stroke="#1a1a1a" stroke-width="1" />
<text transform="translate(199.2,324.75) scale(0.98,1)" font-size="7.6" text-anchor="end" dominant-baseline="central" font-weight="normal" fill="#1a1a1a" stroke="#1a1a1a" stroke-width="0.12" >0</text>
<line x1="202.2" y1="311.35" x2="205" y2="311.35" stroke="#1a1a1a" stroke-width="1" />
<text transform="translate(199.2,311.35) scale(0.98,1)" font-size="7.6" text-anchor="end" dominant-baseline="central" font-weight="normal" fill="#1a1a1a" stroke="#1a1a1a" stroke-width="0.12" >20</text>
<line x1="202.2" y1="297.95" x2="205" y2="297.95" stroke="#1a1a1a" stroke-width="1" />
<text transform="translate(199.2,297.95) scale(0.98,1)" font-size="7.6" text-anchor="end" dominant-baseline="central" font-weight="normal" fill="#1a1a1a" stroke="#1a1a1a" stroke-width="0.12" >40</text>
<line x1="202.2" y1="284.55" x2="205" y2="284.55" stroke="#1a1a1a" stroke-width="1" />
<text transform="translate(199.2,284.55) scale(0.98,1)" font-size="7.6" text-anchor="end" dominant-baseline="central" font-weight="normal" fill="#1a1a1a" stroke="#1a1a1a" stroke-width="0.12" >60</text>
<line x1="202.2" y1="271.15" x2="205" y2="271.15" stroke="#1a1a1a" stroke-width="1" />
<text transform="translate(199.2,271.15) scale(0.98,1)" font-size="7.6" text-anchor="end" dominant-baseline="central" font-weight="normal" fill="#1a1a1a" stroke="#1a1a1a" stroke-width="0.12" >80</text>
<line x1="202.2" y1="257.75" x2="205" y2="257.75" stroke="#1a1a1a" stroke-width="1" />
<text transform="translate(199.2,257.75) scale(0.98,1)" font-size="7.6" text-anchor="end" dominant-baseline="central" font-weight="normal" fill="#1a1a1a" stroke="#1a1a1a" stroke-width="0.12" >100</text>
<line x1="205" y1="324.75" x2="295.14" y2="324.75" stroke="#1a1a1a" stroke-width="1.3" />
<line x1="205" y1="324.75" x2="205" y2="327.55" stroke="#1a1a1a" stroke-width="1" />
<text transform="translate(205,335.05) scale(0.95,1)" font-size="8" text-anchor="middle" dominant-baseline="central" font-weight="normal" fill="#1a1a1a" stroke="#1a1a1a" stroke-width="0.12" >-2</text>
<line x1="217.42" y1="324.75" x2="217.42" y2="327.55" stroke="#1a1a1a" stroke-width="1" />
<text transform="translate(217.42,335.05) scale(0.95,1)" font-size="8" text-anchor="middle" dominant-baseline="central" font-weight="normal" fill="#1a1a1a" stroke="#1a1a1a" stroke-width="0.12" >-1</text>
<line x1="229.84" y1="324.75" x2="229.84" y2="327.55" stroke="#1a1a1a" stroke-width="1" />
<text transform="translate(229.84,335.05) scale(0.95,1)" font-size="8" text-anchor="middle" dominant-baseline="central" font-weight="normal" fill="#1a1a1a" stroke="#1a1a1a" stroke-width="0.12" >0</text>
<line x1="242.26" y1="324.75" x2="242.26" y2="327.55" stroke="#1a1a1a" stroke-width="1" />
<text transform="translate(242.26,335.05) scale(0.95,1)" font-size="8" text-anchor="middle" dominant-baseline="central" font-weight="normal" fill="#1a1a1a" stroke="#1a1a1a" stroke-width="0.12" >1</text>
<line x1="254.68" y1="324.75" x2="254.68" y2="327.55" stroke="#1a1a1a" stroke-width="1" />
<text transform="translate(254.68,335.05) scale(0.95,1)" font-size="8" text-anchor="middle" dominant-baseline="central" font-weight="normal" fill="#1a1a1a" stroke="#1a1a1a" stroke-width="0.12" >2</text>
<line x1="267.1" y1="324.75" x2="267.1" y2="327.55" stroke="#1a1a1a" stroke-width="1" />
<text transform="translate(267.1,335.05) scale(0.95,1)" font-size="8" text-anchor="middle" dominant-baseline="central" font-weight="normal" fill="#1a1a1a" stroke="#1a1a1a" stroke-width="0.12" >3</text>
<line x1="279.52" y1="324.75" x2="279.52" y2="327.55" stroke="#1a1a1a" stroke-width="1" />
<text transform="translate(279.52,335.05) scale(0.95,1)" font-size="8" text-anchor="middle" dominant-baseline="central" font-weight="normal" fill="#1a1a1a" stroke="#1a1a1a" stroke-width="0.12" >4</text>
<line x1="291.94" y1="324.75" x2="291.94" y2="327.55" stroke="#1a1a1a" stroke-width="1" />
<text transform="translate(291.94,335.05) scale(0.95,1)" font-size="8" text-anchor="middle" dominant-baseline="central" font-weight="normal" fill="#1a1a1a" stroke="#1a1a1a" stroke-width="0.12" >5</text>
<text transform="translate(257,350.75) scale(0.68,1)" font-size="8.8" text-anchor="middle" dominant-baseline="central" font-weight="normal" fill="#1a1a1a" stroke="#1a1a1a" stroke-width="0.18" letter-spacing="0.5">Log [AMG 701] (pM)</text>
<text transform="translate(177.3,291.25) rotate(-90) scale(0.75,1)" font-size="9.3" text-anchor="middle" dominant-baseline="central" font-weight="normal" fill="#1a1a1a" stroke="#1a1a1a" stroke-width="0.18" >PD-1<tspan dy="-2.4" font-size="6">+</tspan><tspan dy="2.4"> (% CD3</tspan><tspan dy="-2.4" font-size="6">+</tspan><tspan dy="2.4">)</tspan></text>
<polyline points="210.09,322.67 210.67,322.66 211.25,322.65 211.83,322.64 212.41,322.63 212.99,322.62 213.56,322.61 214.14,322.59 214.72,322.58 215.3,322.56 215.88,322.54 216.46,322.52 217.03,322.5 217.61,322.47 218.19,322.44 218.77,322.41 219.35,322.38 219.93,322.34 220.51,322.3 221.08,322.25 221.66,322.2 222.24,322.14 222.82,322.07 223.4,322 223.98,321.93 224.56,321.84 225.13,321.74 225.71,321.64 226.29,321.52 226.87,321.4 227.45,321.26 228.03,321.1 228.61,320.93 229.18,320.74 229.76,320.54 230.34,320.31 230.92,320.06 231.5,319.79 232.08,319.49 232.66,319.16 233.23,318.8 233.81,318.4 234.39,317.97 234.97,317.51 235.55,317 236.13,316.44 236.71,315.84 237.28,315.2 237.86,314.49 238.44,313.74 239.02,312.93 239.6,312.06 240.18,311.13 240.76,310.14 241.33,309.08 241.91,307.97 242.49,306.8 243.07,305.56 243.65,304.27 244.23,302.93 244.81,301.53 245.38,300.09 245.96,298.62 246.54,297.1 247.12,295.57 247.7,294.01 248.28,292.44 248.86,290.87 249.43,289.31 250.01,287.76 250.59,286.23 251.17,284.73 251.75,283.26 252.33,281.84 252.91,280.46 253.48,279.13 254.06,277.86 254.64,276.64 255.22,275.49 255.8,274.4 256.38,273.37 256.96,272.39 257.53,271.48 258.11,270.63 258.69,269.84 259.27,269.1 259.85,268.42 260.43,267.79 261.01,267.21 261.58,266.67 262.16,266.17 262.74,265.72 263.32,265.3 263.9,264.92 264.48,264.57 265.06,264.25 265.63,263.96 266.21,263.69 266.79,263.45 267.37,263.23 267.95,263.03 268.53,262.85 269.11,262.69 269.68,262.54 270.26,262.4 270.84,262.28 271.42,262.16 272,262.06 272.58,261.97 273.16,261.89 273.73,261.81 274.31,261.74 274.89,261.68 275.47,261.63 276.05,261.58 276.63,261.53 277.21,261.49 277.78,261.45 278.36,261.42 278.94,261.39 279.52,261.36" fill="none" stroke="#5aaa36" stroke-width="0.95"/>
<path d="M210.07 320.7L211.37 322.98L208.77 322.98Z" fill="#3f9a22" stroke="#3f9a22" stroke-width="0.6"/>
<path d="M218.75 320.24L220.05 322.51L217.45 322.51Z" fill="#3f9a22" stroke="#3f9a22" stroke-width="0.6"/>
<path d="M227.43 318.96L228.73 321.24L226.13 321.24Z" fill="#3f9a22" stroke="#3f9a22" stroke-width="0.6"/>
<path d="M236.11 317.76L237.41 320.03L234.81 320.03Z" fill="#3f9a22" stroke="#3f9a22" stroke-width="0.6"/>
<path d="M244.79 296.58L246.09 298.86L243.49 298.86Z" fill="#3f9a22" stroke="#3f9a22" stroke-width="0.6"/>
<path d="M253.48 282.11L254.78 284.39L252.18 284.39Z" fill="#3f9a22" stroke="#3f9a22" stroke-width="0.6"/>
<path d="M262.16 266.44L263.46 268.71L260.86 268.71Z" fill="#3f9a22" stroke="#3f9a22" stroke-width="0.6"/>
<path d="M270.84 262.41L272.14 264.69L269.54 264.69Z" fill="#3f9a22" stroke="#3f9a22" stroke-width="0.6"/>
<path d="M279.52 261.07L280.82 263.35L278.22 263.35Z" fill="#3f9a22" stroke="#3f9a22" stroke-width="0.6"/>
<polyline points="210.09,321.8 210.67,321.78 211.25,321.76 211.83,321.73 212.41,321.71 212.99,321.68 213.56,321.65 214.14,321.62 214.72,321.58 215.3,321.54 215.88,321.5 216.46,321.46 217.03,321.41 217.61,321.36 218.19,321.31 218.77,321.25 219.35,321.18 219.93,321.12 220.51,321.04 221.08,320.97 221.66,320.88 222.24,320.79 222.82,320.69 223.4,320.59 223.98,320.48 224.56,320.36 225.13,320.23 225.71,320.09 226.29,319.94 226.87,319.79 227.45,319.62 228.03,319.44 228.61,319.24 229.18,319.04 229.76,318.81 230.34,318.58 230.92,318.33 231.5,318.06 232.08,317.77 232.66,317.47 233.23,317.14 233.81,316.8 234.39,316.43 234.97,316.05 235.55,315.64 236.13,315.2 236.71,314.75 237.28,314.26 237.86,313.76 238.44,313.22 239.02,312.66 239.6,312.07 240.18,311.46 240.76,310.82 241.33,310.15 241.91,309.45 242.49,308.73 243.07,307.98 243.65,307.21 244.23,306.41 244.81,305.59 245.38,304.75 245.96,303.88 246.54,303 247.12,302.11 247.7,301.2 248.28,300.28 248.86,299.35 249.43,298.41 250.01,297.47 250.59,296.52 251.17,295.58 251.75,294.64 252.33,293.71 252.91,292.79 253.48,291.88 254.06,290.98 254.64,290.1 255.22,289.23 255.8,288.39 256.38,287.57 256.96,286.77 257.53,285.99 258.11,285.24 258.69,284.51 259.27,283.81 259.85,283.14 260.43,282.5 261.01,281.88 261.58,281.29 262.16,280.73 262.74,280.19 263.32,279.68 263.9,279.19 264.48,278.73 265.06,278.3 265.63,277.89 266.21,277.5 266.79,277.13 267.37,276.78 267.95,276.46 268.53,276.15 269.11,275.86 269.68,275.59 270.26,275.34 270.84,275.1 271.42,274.88 272,274.67 272.58,274.47 273.16,274.29 273.73,274.12 274.31,273.96 274.89,273.81 275.47,273.67 276.05,273.54 276.63,273.42 277.21,273.31 277.78,273.21 278.36,273.11 278.94,273.02 279.52,272.93" fill="none" stroke="#c01842" stroke-width="0.95"/>
<rect x="208.62" y="318.88" width="2.9" height="2.9" fill="#b5002e"/>
<rect x="217.3" y="319.75" width="2.9" height="2.9" fill="#b5002e"/>
<rect x="225.98" y="319.41" width="2.9" height="2.9" fill="#b5002e"/>
<rect x="234.66" y="313.72" width="2.9" height="2.9" fill="#b5002e"/>
<rect x="243.34" y="295.83" width="2.9" height="2.9" fill="#b5002e"/>
<rect x="252.03" y="292.08" width="2.9" height="2.9" fill="#b5002e"/>
<rect x="260.71" y="282.56" width="2.9" height="2.9" fill="#b5002e"/>
<rect x="269.39" y="275.06" width="2.9" height="2.9" fill="#b5002e"/>
<rect x="278.07" y="272.11" width="2.9" height="2.9" fill="#b5002e"/>
<rect x="228.39" y="320.08" width="2.9" height="2.9" fill="#b5002e"/>
<polyline points="210.09,318.05 210.67,318.05 211.25,318.05 211.83,318.05 212.41,318.05 212.99,318.05 213.56,318.05 214.14,318.05 214.72,318.05 215.3,318.05 215.88,318.05 216.46,318.05 217.03,318.05 217.61,318.05 218.19,318.05 218.77,318.05 219.35,318.05 219.93,318.05 220.51,318.05 221.08,318.05 221.66,318.05 222.24,318.05 222.82,318.05 223.4,318.04 223.98,318.04 224.56,318.04 225.13,318.04 225.71,318.03 226.29,318.02 226.87,318.01 227.45,318 228.03,317.98 228.61,317.95 229.18,317.92 229.76,317.87 230.34,317.8 230.92,317.71 231.5,317.59 232.08,317.42 232.66,317.2 233.23,316.91 233.81,316.53 234.39,316.05 234.97,315.45 235.55,314.73 236.13,313.91 236.71,312.99 237.28,312.03 237.86,311.07 238.44,310.15 239.02,309.33 239.6,308.61 240.18,308.01 240.76,307.52 241.33,307.14 241.91,306.85 242.49,306.62 243.07,306.46 243.65,306.33 244.23,306.24 244.81,306.17 245.38,306.12 245.96,306.09 246.54,306.06 247.12,306.04 247.7,306.03 248.28,306.02 248.86,306.01 249.43,306 250.01,306 250.59,306 251.17,306 251.75,305.99 252.33,305.99 252.91,305.99 253.48,305.99 254.06,305.99 254.64,305.99 255.22,305.99 255.8,305.99 256.38,305.99 256.96,305.99 257.53,305.99 258.11,305.99 258.69,305.99 259.27,305.99 259.85,305.99 260.43,305.99 261.01,305.99 261.58,305.99 262.16,305.99 262.74,305.99 263.32,305.99 263.9,305.99 264.48,305.99 265.06,305.99 265.63,305.99 266.21,305.99 266.79,305.99 267.37,305.99 267.95,305.99 268.53,305.99 269.11,305.99 269.68,305.99 270.26,305.99 270.84,305.99 271.42,305.99 272,305.99 272.58,305.99 273.16,305.99 273.73,305.99 274.31,305.99 274.89,305.99 275.47,305.99 276.05,305.99 276.63,305.99 277.21,305.99 277.78,305.99 278.36,305.99 278.94,305.99 279.52,305.99" fill="none" stroke="#3f5fa8" stroke-width="0.95"/>
<circle cx="210.07" cy="317.71" r="1.35" fill="#13307f"/>
<circle cx="218.75" cy="318.59" r="1.35" fill="#13307f"/>
<circle cx="227.43" cy="317.71" r="1.35" fill="#13307f"/>
<circle cx="236.11" cy="310.81" r="1.35" fill="#13307f"/>
<circle cx="244.79" cy="301.3" r="1.35" fill="#13307f"/>
<circle cx="253.48" cy="306.46" r="1.35" fill="#13307f"/>
<circle cx="262.16" cy="307.33" r="1.35" fill="#13307f"/>
<circle cx="270.84" cy="308.2" r="1.35" fill="#13307f"/>
<circle cx="279.52" cy="307.33" r="1.35" fill="#13307f"/>
<circle cx="229.84" cy="316.84" r="1.35" fill="#13307f"/>
<line x1="352" y1="256.55" x2="352" y2="324.75" stroke="#1a1a1a" stroke-width="1.3" />
<line x1="349.2" y1="324.75" x2="352" y2="324.75" stroke="#1a1a1a" stroke-width="1" />
<text transform="translate(346.2,324.75) scale(0.98,1)" font-size="7.6" text-anchor="end" dominant-baseline="central" font-weight="normal" fill="#1a1a1a" stroke="#1a1a1a" stroke-width="0.12" >0</text>
<line x1="349.2" y1="311.35" x2="352" y2="311.35" stroke="#1a1a1a" stroke-width="1" />
<text transform="translate(346.2,311.35) scale(0.98,1)" font-size="7.6" text-anchor="end" dominant-baseline="central" font-weight="normal" fill="#1a1a1a" stroke="#1a1a1a" stroke-width="0.12" >20</text>
<line x1="349.2" y1="297.95" x2="352" y2="297.95" stroke="#1a1a1a" stroke-width="1" />
<text transform="translate(346.2,297.95) scale(0.98,1)" font-size="7.6" text-anchor="end" dominant-baseline="central" font-weight="normal" fill="#1a1a1a" stroke="#1a1a1a" stroke-width="0.12" >40</text>
<line x1="349.2" y1="284.55" x2="352" y2="284.55" stroke="#1a1a1a" stroke-width="1" />
<text transform="translate(346.2,284.55) scale(0.98,1)" font-size="7.6" text-anchor="end" dominant-baseline="central" font-weight="normal" fill="#1a1a1a" stroke="#1a1a1a" stroke-width="0.12" >60</text>
<line x1="349.2" y1="271.15" x2="352" y2="271.15" stroke="#1a1a1a" stroke-width="1" />
<text transform="translate(346.2,271.15) scale(0.98,1)" font-size="7.6" text-anchor="end" dominant-baseline="central" font-weight="normal" fill="#1a1a1a" stroke="#1a1a1a" stroke-width="0.12" >80</text>
<line x1="349.2" y1="257.75" x2="352" y2="257.75" stroke="#1a1a1a" stroke-width="1" />
<text transform="translate(346.2,257.75) scale(0.98,1)" font-size="7.6" text-anchor="end" dominant-baseline="central" font-weight="normal" fill="#1a1a1a" stroke="#1a1a1a" stroke-width="0.12" >100</text>
<line x1="352" y1="324.75" x2="442.14" y2="324.75" stroke="#1a1a1a" stroke-width="1.3" />
<line x1="352" y1="324.75" x2="352" y2="327.55" stroke="#1a1a1a" stroke-width="1" />
<text transform="translate(352,335.05) scale(0.95,1)" font-size="8" text-anchor="middle" dominant-baseline="central" font-weight="normal" fill="#1a1a1a" stroke="#1a1a1a" stroke-width="0.12" >-2</text>
<line x1="364.42" y1="324.75" x2="364.42" y2="327.55" stroke="#1a1a1a" stroke-width="1" />
<text transform="translate(364.42,335.05) scale(0.95,1)" font-size="8" text-anchor="middle" dominant-baseline="central" font-weight="normal" fill="#1a1a1a" stroke="#1a1a1a" stroke-width="0.12" >-1</text>
<line x1="376.84" y1="324.75" x2="376.84" y2="327.55" stroke="#1a1a1a" stroke-width="1" />
<text transform="translate(376.84,335.05) scale(0.95,1)" font-size="8" text-anchor="middle" dominant-baseline="central" font-weight="normal" fill="#1a1a1a" stroke="#1a1a1a" stroke-width="0.12" >0</text>
<line x1="389.26" y1="324.75" x2="389.26" y2="327.55" stroke="#1a1a1a" stroke-width="1" />
<text transform="translate(389.26,335.05) scale(0.95,1)" font-size="8" text-anchor="middle" dominant-baseline="central" font-weight="normal" fill="#1a1a1a" stroke="#1a1a1a" stroke-width="0.12" >1</text>
<line x1="401.68" y1="324.75" x2="401.68" y2="327.55" stroke="#1a1a1a" stroke-width="1" />
<text transform="translate(401.68,335.05) scale(0.95,1)" font-size="8" text-anchor="middle" dominant-baseline="central" font-weight="normal" fill="#1a1a1a" stroke="#1a1a1a" stroke-width="0.12" >2</text>
<line x1="414.1" y1="324.75" x2="414.1" y2="327.55" stroke="#1a1a1a" stroke-width="1" />
<text transform="translate(414.1,335.05) scale(0.95,1)" font-size="8" text-anchor="middle" dominant-baseline="central" font-weight="normal" fill="#1a1a1a" stroke="#1a1a1a" stroke-width="0.12" >3</text>
<line x1="426.52" y1="324.75" x2="426.52" y2="327.55" stroke="#1a1a1a" stroke-width="1" />
<text transform="translate(426.52,335.05) scale(0.95,1)" font-size="8" text-anchor="middle" dominant-baseline="central" font-weight="normal" fill="#1a1a1a" stroke="#1a1a1a" stroke-width="0.12" >4</text>
<line x1="438.94" y1="324.75" x2="438.94" y2="327.55" stroke="#1a1a1a" stroke-width="1" />
<text transform="translate(438.94,335.05) scale(0.95,1)" font-size="8" text-anchor="middle" dominant-baseline="central" font-weight="normal" fill="#1a1a1a" stroke="#1a1a1a" stroke-width="0.12" >5</text>
<text transform="translate(404,350.75) scale(0.68,1)" font-size="8.8" text-anchor="middle" dominant-baseline="central" font-weight="normal" fill="#1a1a1a" stroke="#1a1a1a" stroke-width="0.18" letter-spacing="0.5">Log [AMG 701] (pM)</text>
<text transform="translate(324.3,291.25) rotate(-90) scale(0.75,1)" font-size="9.3" text-anchor="middle" dominant-baseline="central" font-weight="normal" fill="#1a1a1a" stroke="#1a1a1a" stroke-width="0.18" >PD-1<tspan dy="-2.4" font-size="6">+</tspan><tspan dy="2.4"> (% CD3</tspan><tspan dy="-2.4" font-size="6">+</tspan><tspan dy="2.4">)</tspan></text>
<polyline points="357.09,322.07 357.67,322.07 358.25,322.07 358.83,322.07 359.41,322.07 359.99,322.07 360.56,322.07 361.14,322.07 361.72,322.07 362.3,322.07 362.88,322.07 363.46,322.07 364.03,322.07 364.61,322.07 365.19,322.07 365.77,322.07 366.35,322.07 366.93,322.07 367.51,322.07 368.08,322.07 368.66,322.07 369.24,322.07 369.82,322.07 370.4,322.07 370.98,322.07 371.56,322.07 372.13,322.07 372.71,322.06 373.29,322.06 373.87,322.06 374.45,322.06 375.03,322.06 375.61,322.05 376.18,322.05 376.76,322.05 377.34,322.04 377.92,322.03 378.5,322.02 379.08,322.01 379.66,322 380.23,321.98 380.81,321.96 381.39,321.93 381.97,321.9 382.55,321.86 383.13,321.81 383.71,321.75 384.28,321.67 384.86,321.58 385.44,321.46 386.02,321.32 386.6,321.15 387.18,320.93 387.76,320.67 388.33,320.35 388.91,319.97 389.49,319.51 390.07,318.95 390.65,318.3 391.23,317.52 391.81,316.62 392.38,315.58 392.96,314.39 393.54,313.07 394.12,311.62 394.7,310.05 395.28,308.4 395.86,306.69 396.43,304.97 397.01,303.27 397.59,301.63 398.17,300.08 398.75,298.65 399.33,297.35 399.91,296.2 400.48,295.18 401.06,294.3 401.64,293.55 402.22,292.91 402.8,292.38 403.38,291.93 403.96,291.56 404.53,291.26 405.11,291.01 405.69,290.8 406.27,290.63 406.85,290.49 407.43,290.38 408.01,290.29 408.58,290.22 409.16,290.16 409.74,290.11 410.32,290.07 410.9,290.04 411.48,290.02 412.06,290 412.63,289.98 413.21,289.97 413.79,289.96 414.37,289.95 414.95,289.94 415.53,289.93 416.11,289.93 416.68,289.93 417.26,289.92 417.84,289.92 418.42,289.92 419,289.92 419.58,289.92 420.16,289.91 420.73,289.91 421.31,289.91 421.89,289.91 422.47,289.91 423.05,289.91 423.63,289.91 424.21,289.91 424.78,289.91 425.36,289.91 425.94,289.91 426.52,289.91" fill="none" stroke="#5aaa36" stroke-width="0.95"/>
<line x1="417.83" y1="297.28" x2="417.83" y2="283.88" stroke="#5aaa36" stroke-width="0.8" />
<line x1="416.53" y1="297.28" x2="419.13" y2="297.28" stroke="#5aaa36" stroke-width="0.8" />
<line x1="416.53" y1="283.88" x2="419.13" y2="283.88" stroke="#5aaa36" stroke-width="0.8" />
<line x1="426.52" y1="294.6" x2="426.52" y2="283.21" stroke="#5aaa36" stroke-width="0.8" />
<line x1="425.22" y1="294.6" x2="427.82" y2="294.6" stroke="#5aaa36" stroke-width="0.8" />
<line x1="425.22" y1="283.21" x2="427.82" y2="283.21" stroke="#5aaa36" stroke-width="0.8" />
<path d="M357.07 320.7L358.37 322.98L355.77 322.98Z" fill="#3f9a22" stroke="#3f9a22" stroke-width="0.6"/>
<path d="M365.75 320.37L367.05 322.65L364.45 322.65Z" fill="#3f9a22" stroke="#3f9a22" stroke-width="0.6"/>
<path d="M374.43 320.37L375.73 322.65L373.13 322.65Z" fill="#3f9a22" stroke="#3f9a22" stroke-width="0.6"/>
<path d="M383.11 318.09L384.41 320.37L381.81 320.37Z" fill="#3f9a22" stroke="#3f9a22" stroke-width="0.6"/>
<path d="M391.79 307.31L393.09 309.58L390.49 309.58Z" fill="#3f9a22" stroke="#3f9a22" stroke-width="0.6"/>
<path d="M400.48 292.16L401.78 294.44L399.18 294.44Z" fill="#3f9a22" stroke="#3f9a22" stroke-width="0.6"/>
<path d="M409.16 292.16L410.46 294.44L407.86 294.44Z" fill="#3f9a22" stroke="#3f9a22" stroke-width="0.6"/>
<path d="M417.84 289.55L419.14 291.83L416.54 291.83Z" fill="#3f9a22" stroke="#3f9a22" stroke-width="0.6"/>
<path d="M426.52 287.88L427.82 290.15L425.22 290.15Z" fill="#3f9a22" stroke="#3f9a22" stroke-width="0.6"/>
<line x1="400.44" y1="311.35" x2="400.44" y2="301.3" stroke="#c01842" stroke-width="0.8" />
<line x1="399.14" y1="311.35" x2="401.74" y2="311.35" stroke="#c01842" stroke-width="0.8" />
<line x1="399.14" y1="301.3" x2="401.74" y2="301.3" stroke="#c01842" stroke-width="0.8" />
<line x1="374.48" y1="312.69" x2="374.48" y2="305.99" stroke="#c01842" stroke-width="0.8" />
<line x1="373.18" y1="312.69" x2="375.78" y2="312.69" stroke="#c01842" stroke-width="0.8" />
<line x1="373.18" y1="305.99" x2="375.78" y2="305.99" stroke="#c01842" stroke-width="0.8" />
<line x1="376.84" y1="320.73" x2="376.84" y2="314.7" stroke="#c01842" stroke-width="0.8" />
<line x1="375.54" y1="320.73" x2="378.14" y2="320.73" stroke="#c01842" stroke-width="0.8" />
<line x1="375.54" y1="314.7" x2="378.14" y2="314.7" stroke="#c01842" stroke-width="0.8" />
<line x1="357.09" y1="315.37" x2="357.09" y2="310.68" stroke="#c01842" stroke-width="0.8" />
<line x1="355.79" y1="315.37" x2="358.39" y2="315.37" stroke="#c01842" stroke-width="0.8" />
<line x1="355.79" y1="310.68" x2="358.39" y2="310.68" stroke="#c01842" stroke-width="0.8" />
<rect x="355.62" y="311.24" width="2.9" height="2.9" fill="#b5002e"/>
<rect x="364.3" y="311.24" width="2.9" height="2.9" fill="#b5002e"/>
<rect x="372.98" y="307.62" width="2.9" height="2.9" fill="#b5002e"/>
<rect x="381.66" y="313.72" width="2.9" height="2.9" fill="#b5002e"/>
<rect x="390.34" y="299.31" width="2.9" height="2.9" fill="#b5002e"/>
<rect x="399.03" y="304.54" width="2.9" height="2.9" fill="#b5002e"/>
<rect x="407.71" y="310.24" width="2.9" height="2.9" fill="#b5002e"/>
<rect x="416.39" y="310.24" width="2.9" height="2.9" fill="#b5002e"/>
<rect x="425.07" y="311.44" width="2.9" height="2.9" fill="#b5002e"/>
<rect x="375.39" y="316.26" width="2.9" height="2.9" fill="#b5002e"/>
<polyline points="357.09,310.01 357.67,310.01 358.25,310.01 358.83,310.01 359.41,310.01 359.99,310.01 360.56,310.01 361.14,310.01 361.72,310.01 362.3,310.01 362.88,310.01 363.46,310.01 364.03,310.01 364.61,310.01 365.19,310.01 365.77,310.01 366.35,310.01 366.93,310.01 367.51,310.01 368.08,310.01 368.66,310.01 369.24,310.01 369.82,310.01 370.4,310.01 370.98,310.01 371.56,310.01 372.13,310.01 372.71,310.01 373.29,310.01 373.87,310.01 374.45,310.01 375.03,310.01 375.61,310.01 376.18,310.01 376.76,310.01 377.34,310.01 377.92,310.01 378.5,310.01 379.08,310.01 379.66,310.01 380.23,310.01 380.81,310.01 381.39,310.01 381.97,310.01 382.55,310.01 383.13,310.01 383.71,310.01 384.28,310.01 384.86,310.01 385.44,310.01 386.02,310.01 386.6,310.01 387.18,310.01 387.76,310.01 388.33,310.01 388.91,310.01 389.49,310.01 390.07,310.01 390.65,310.01 391.23,310.02 391.81,310.02 392.38,310.03 392.96,310.03 393.54,310.05 394.12,310.07 394.7,310.1 395.28,310.15 395.86,310.22 396.43,310.32 397.01,310.48 397.59,310.7 398.17,311.01 398.75,311.42 399.33,311.95 399.91,312.57 400.48,313.25 401.06,313.92 401.64,314.53 402.22,315.03 402.8,315.43 403.38,315.73 403.96,315.94 404.53,316.08 405.11,316.18 405.69,316.25 406.27,316.29 406.85,316.32 407.43,316.34 408.01,316.35 408.58,316.36 409.16,316.37 409.74,316.37 410.32,316.37 410.9,316.37 411.48,316.37 412.06,316.37 412.63,316.37 413.21,316.37 413.79,316.37 414.37,316.37 414.95,316.37 415.53,316.37 416.11,316.37 416.68,316.37 417.26,316.37 417.84,316.37 418.42,316.37 419,316.37 419.58,316.37 420.16,316.37 420.73,316.37 421.31,316.37 421.89,316.37 422.47,316.37 423.05,316.37 423.63,316.37 424.21,316.37 424.78,316.37 425.36,316.37 425.94,316.37 426.52,316.37" fill="none" stroke="#3f5fa8" stroke-width="0.95"/>
<line x1="374.48" y1="313.36" x2="374.48" y2="306.66" stroke="#3f5fa8" stroke-width="0.8" />
<line x1="373.18" y1="313.36" x2="375.78" y2="313.36" stroke="#3f5fa8" stroke-width="0.8" />
<line x1="373.18" y1="306.66" x2="375.78" y2="306.66" stroke="#3f5fa8" stroke-width="0.8" />
<line x1="376.84" y1="314.03" x2="376.84" y2="308" stroke="#3f5fa8" stroke-width="0.8" />
<line x1="375.54" y1="314.03" x2="378.14" y2="314.03" stroke="#3f5fa8" stroke-width="0.8" />
<line x1="375.54" y1="308" x2="378.14" y2="308" stroke="#3f5fa8" stroke-width="0.8" />
<circle cx="357.07" cy="311.69" r="1.35" fill="#13307f"/>
<circle cx="365.75" cy="310.81" r="1.35" fill="#13307f"/>
<circle cx="374.43" cy="309.07" r="1.35" fill="#13307f"/>
<circle cx="383.11" cy="310.81" r="1.35" fill="#13307f"/>
<circle cx="391.79" cy="305.65" r="1.35" fill="#13307f"/>
<circle cx="400.48" cy="311.69" r="1.35" fill="#13307f"/>
<circle cx="409.16" cy="315.64" r="1.35" fill="#13307f"/>
<circle cx="417.84" cy="316.04" r="1.35" fill="#13307f"/>
<circle cx="426.52" cy="316.84" r="1.35" fill="#13307f"/>
<circle cx="376.84" cy="310.81" r="1.35" fill="#13307f"/>
<text transform="translate(463.7,37.2) scale(0.95,1)" font-size="6.8" text-anchor="middle" dominant-baseline="central" font-weight="normal" fill="#1a1a1a" stroke="#1a1a1a" stroke-width="0.1" >E:T</text>
<line x1="451" y1="48.1" x2="459" y2="48.1" stroke="#3f5fa8" stroke-width="1" />
<circle cx="455" cy="48.1" r="1.3" fill="#13307f"/>
<text transform="translate(462,48.1) scale(0.98,1)" font-size="7.3" text-anchor="start" dominant-baseline="central" font-weight="normal" fill="#1a1a1a" stroke="#1a1a1a" stroke-width="0.1" >5 : 1</text>
<line x1="451" y1="57.2" x2="459" y2="57.2" stroke="#c01842" stroke-width="1" />
<rect x="453.7" y="55.9" width="2.6" height="2.6" fill="#b5002e"/>
<text transform="translate(462,57.2) scale(0.98,1)" font-size="7.3" text-anchor="start" dominant-baseline="central" font-weight="normal" fill="#1a1a1a" stroke="#1a1a1a" stroke-width="0.1" >1 : 1</text>
<line x1="451" y1="66.3" x2="459" y2="66.3" stroke="#5aaa36" stroke-width="1" />
<path d="M455 64.94L456.3 67.21L453.7 67.21Z" fill="#3f9a22" stroke="#3f9a22" stroke-width="0.6"/>
<text transform="translate(462,66.3) scale(0.98,1)" font-size="7.3" text-anchor="start" dominant-baseline="central" font-weight="normal" fill="#1a1a1a" stroke="#1a1a1a" stroke-width="0.1" >1 : 5</text>
<text transform="translate(11.3,376.3)" font-size="10.5" text-anchor="middle" dominant-baseline="central" font-weight="bold" fill="#000" stroke="#000" stroke-width="0" >B</text>
<text transform="translate(81.3,378.4) scale(0.97,1)" font-size="9.6" text-anchor="middle" dominant-baseline="central" font-weight="normal" fill="#1a1a1a" stroke="#1a1a1a" stroke-width="0.08" >KMS12BM_PDL1</text>
<text transform="translate(211.8,378.4) scale(0.97,1)" font-size="9.6" text-anchor="middle" dominant-baseline="central" font-weight="normal" fill="#1a1a1a" stroke="#1a1a1a" stroke-width="0.08" >U266B1_PDL1</text>
<line x1="38.7" y1="387.4" x2="38.7" y2="469.5" stroke="#1a1a1a" stroke-width="1.4" />
<line x1="35.7" y1="465.5" x2="38.7" y2="465.5" stroke="#1a1a1a" stroke-width="1" />
<text transform="translate(32.9,465.5) scale(0.98,1)" font-size="7.2" text-anchor="end" dominant-baseline="central" font-weight="normal" fill="#1a1a1a" stroke="#1a1a1a" stroke-width="0.12" >0</text>
<line x1="37" y1="462.48" x2="38.7" y2="462.48" stroke="#1a1a1a" stroke-width="0.8" />
<line x1="37" y1="459.46" x2="38.7" y2="459.46" stroke="#1a1a1a" stroke-width="0.8" />
<line x1="37" y1="456.44" x2="38.7" y2="456.44" stroke="#1a1a1a" stroke-width="0.8" />
<line x1="37" y1="453.42" x2="38.7" y2="453.42" stroke="#1a1a1a" stroke-width="0.8" />
<line x1="35.7" y1="450.4" x2="38.7" y2="450.4" stroke="#1a1a1a" stroke-width="1" />
<text transform="translate(32.9,450.4) scale(0.98,1)" font-size="7.2" text-anchor="end" dominant-baseline="central" font-weight="normal" fill="#1a1a1a" stroke="#1a1a1a" stroke-width="0.12" >20</text>
<line x1="37" y1="447.38" x2="38.7" y2="447.38" stroke="#1a1a1a" stroke-width="0.8" />
<line x1="37" y1="444.36" x2="38.7" y2="444.36" stroke="#1a1a1a" stroke-width="0.8" />
<line x1="37" y1="441.34" x2="38.7" y2="441.34" stroke="#1a1a1a" stroke-width="0.8" />
<line x1="37" y1="438.32" x2="38.7" y2="438.32" stroke="#1a1a1a" stroke-width="0.8" />
<line x1="35.7" y1="435.3" x2="38.7" y2="435.3" stroke="#1a1a1a" stroke-width="1" />
<text transform="translate(32.9,435.3) scale(0.98,1)" font-size="7.2" text-anchor="end" dominant-baseline="central" font-weight="normal" fill="#1a1a1a" stroke="#1a1a1a" stroke-width="0.12" >40</text>
<line x1="37" y1="432.28" x2="38.7" y2="432.28" stroke="#1a1a1a" stroke-width="0.8" />
<line x1="37" y1="429.26" x2="38.7" y2="429.26" stroke="#1a1a1a" stroke-width="0.8" />
<line x1="37" y1="426.24" x2="38.7" y2="426.24" stroke="#1a1a1a" stroke-width="0.8" />
<line x1="37" y1="423.22" x2="38.7" y2="423.22" stroke="#1a1a1a" stroke-width="0.8" />
<line x1="35.7" y1="420.2" x2="38.7" y2="420.2" stroke="#1a1a1a" stroke-width="1" />
<text transform="translate(32.9,420.2) scale(0.98,1)" font-size="7.2" text-anchor="end" dominant-baseline="central" font-weight="normal" fill="#1a1a1a" stroke="#1a1a1a" stroke-width="0.12" >60</text>
<line x1="37" y1="417.18" x2="38.7" y2="417.18" stroke="#1a1a1a" stroke-width="0.8" />
<line x1="37" y1="414.16" x2="38.7" y2="414.16" stroke="#1a1a1a" stroke-width="0.8" />
<line x1="37" y1="411.14" x2="38.7" y2="411.14" stroke="#1a1a1a" stroke-width="0.8" />
<line x1="37" y1="408.12" x2="38.7" y2="408.12" stroke="#1a1a1a" stroke-width="0.8" />
<line x1="35.7" y1="405.1" x2="38.7" y2="405.1" stroke="#1a1a1a" stroke-width="1" />
<text transform="translate(32.9,405.1) scale(0.98,1)" font-size="7.2" text-anchor="end" dominant-baseline="central" font-weight="normal" fill="#1a1a1a" stroke="#1a1a1a" stroke-width="0.12" >80</text>
<line x1="37" y1="402.08" x2="38.7" y2="402.08" stroke="#1a1a1a" stroke-width="0.8" />
<line x1="37" y1="399.06" x2="38.7" y2="399.06" stroke="#1a1a1a" stroke-width="0.8" />
<line x1="37" y1="396.04" x2="38.7" y2="396.04" stroke="#1a1a1a" stroke-width="0.8" />
<line x1="37" y1="393.02" x2="38.7" y2="393.02" stroke="#1a1a1a" stroke-width="0.8" />
<line x1="35.7" y1="390" x2="38.7" y2="390" stroke="#1a1a1a" stroke-width="1" />
<text transform="translate(32.9,390) scale(0.98,1)" font-size="7.2" text-anchor="end" dominant-baseline="central" font-weight="normal" fill="#1a1a1a" stroke="#1a1a1a" stroke-width="0.12" >100</text>
<line x1="38" y1="469.5" x2="122.2" y2="469.5" stroke="#1a1a1a" stroke-width="1.4" />
<line x1="38.7" y1="469.5" x2="38.7" y2="472.1" stroke="#1a1a1a" stroke-width="1" />
<text transform="translate(38.7,479)" font-size="7.9" text-anchor="middle" dominant-baseline="central" font-weight="normal" fill="#1a1a1a" stroke="#1a1a1a" stroke-width="0.12" >-3</text>
<line x1="40.67" y1="469.5" x2="40.67" y2="471.1" stroke="#1a1a1a" stroke-width="0.8" />
<line x1="42.63" y1="469.5" x2="42.63" y2="471.1" stroke="#1a1a1a" stroke-width="0.8" />
<line x1="44.6" y1="469.5" x2="44.6" y2="471.1" stroke="#1a1a1a" stroke-width="0.8" />
<line x1="46.57" y1="469.5" x2="46.57" y2="471.1" stroke="#1a1a1a" stroke-width="0.8" />
<line x1="48.53" y1="469.5" x2="48.53" y2="471.1" stroke="#1a1a1a" stroke-width="0.8" />
<line x1="50.5" y1="469.5" x2="50.5" y2="472.1" stroke="#1a1a1a" stroke-width="1" />
<text transform="translate(50.5,479)" font-size="7.9" text-anchor="middle" dominant-baseline="central" font-weight="normal" fill="#1a1a1a" stroke="#1a1a1a" stroke-width="0.12" >-2</text>
<line x1="52.47" y1="469.5" x2="52.47" y2="471.1" stroke="#1a1a1a" stroke-width="0.8" />
<line x1="54.43" y1="469.5" x2="54.43" y2="471.1" stroke="#1a1a1a" stroke-width="0.8" />
<line x1="56.4" y1="469.5" x2="56.4" y2="471.1" stroke="#1a1a1a" stroke-width="0.8" />
<line x1="58.37" y1="469.5" x2="58.37" y2="471.1" stroke="#1a1a1a" stroke-width="0.8" />
<line x1="60.33" y1="469.5" x2="60.33" y2="471.1" stroke="#1a1a1a" stroke-width="0.8" />
<line x1="62.3" y1="469.5" x2="62.3" y2="472.1" stroke="#1a1a1a" stroke-width="1" />
<text transform="translate(62.3,479)" font-size="7.9" text-anchor="middle" dominant-baseline="central" font-weight="normal" fill="#1a1a1a" stroke="#1a1a1a" stroke-width="0.12" >-1</text>
<line x1="64.27" y1="469.5" x2="64.27" y2="471.1" stroke="#1a1a1a" stroke-width="0.8" />
<line x1="66.23" y1="469.5" x2="66.23" y2="471.1" stroke="#1a1a1a" stroke-width="0.8" />
<line x1="68.2" y1="469.5" x2="68.2" y2="471.1" stroke="#1a1a1a" stroke-width="0.8" />
<line x1="70.17" y1="469.5" x2="70.17" y2="471.1" stroke="#1a1a1a" stroke-width="0.8" />
<line x1="72.13" y1="469.5" x2="72.13" y2="471.1" stroke="#1a1a1a" stroke-width="0.8" />
<line x1="74.1" y1="469.5" x2="74.1" y2="472.1" stroke="#1a1a1a" stroke-width="1" />
<text transform="translate(74.1,479)" font-size="7.9" text-anchor="middle" dominant-baseline="central" font-weight="normal" fill="#1a1a1a" stroke="#1a1a1a" stroke-width="0.12" >0</text>
<line x1="76.07" y1="469.5" x2="76.07" y2="471.1" stroke="#1a1a1a" stroke-width="0.8" />
<line x1="78.03" y1="469.5" x2="78.03" y2="471.1" stroke="#1a1a1a" stroke-width="0.8" />
<line x1="80" y1="469.5" x2="80" y2="471.1" stroke="#1a1a1a" stroke-width="0.8" />
<line x1="81.97" y1="469.5" x2="81.97" y2="471.1" stroke="#1a1a1a" stroke-width="0.8" />
<line x1="83.93" y1="469.5" x2="83.93" y2="471.1" stroke="#1a1a1a" stroke-width="0.8" />
<line x1="85.9" y1="469.5" x2="85.9" y2="472.1" stroke="#1a1a1a" stroke-width="1" />
<text transform="translate(85.9,479)" font-size="7.9" text-anchor="middle" dominant-baseline="central" font-weight="normal" fill="#1a1a1a" stroke="#1a1a1a" stroke-width="0.12" >1</text>
<line x1="87.87" y1="469.5" x2="87.87" y2="471.1" stroke="#1a1a1a" stroke-width="0.8" />
<line x1="89.83" y1="469.5" x2="89.83" y2="471.1" stroke="#1a1a1a" stroke-width="0.8" />
<line x1="91.8" y1="469.5" x2="91.8" y2="471.1" stroke="#1a1a1a" stroke-width="0.8" />
<line x1="93.77" y1="469.5" x2="93.77" y2="471.1" stroke="#1a1a1a" stroke-width="0.8" />
<line x1="95.73" y1="469.5" x2="95.73" y2="471.1" stroke="#1a1a1a" stroke-width="0.8" />
<line x1="97.7" y1="469.5" x2="97.7" y2="472.1" stroke="#1a1a1a" stroke-width="1" />
<text transform="translate(97.7,479)" font-size="7.9" text-anchor="middle" dominant-baseline="central" font-weight="normal" fill="#1a1a1a" stroke="#1a1a1a" stroke-width="0.12" >2</text>
<line x1="99.67" y1="469.5" x2="99.67" y2="471.1" stroke="#1a1a1a" stroke-width="0.8" />
<line x1="101.63" y1="469.5" x2="101.63" y2="471.1" stroke="#1a1a1a" stroke-width="0.8" />
<line x1="103.6" y1="469.5" x2="103.6" y2="471.1" stroke="#1a1a1a" stroke-width="0.8" />
<line x1="105.57" y1="469.5" x2="105.57" y2="471.1" stroke="#1a1a1a" stroke-width="0.8" />
<line x1="107.53" y1="469.5" x2="107.53" y2="471.1" stroke="#1a1a1a" stroke-width="0.8" />
<line x1="109.5" y1="469.5" x2="109.5" y2="472.1" stroke="#1a1a1a" stroke-width="1" />
<text transform="translate(109.5,479)" font-size="7.9" text-anchor="middle" dominant-baseline="central" font-weight="normal" fill="#1a1a1a" stroke="#1a1a1a" stroke-width="0.12" >3</text>
<line x1="111.47" y1="469.5" x2="111.47" y2="471.1" stroke="#1a1a1a" stroke-width="0.8" />
<line x1="113.43" y1="469.5" x2="113.43" y2="471.1" stroke="#1a1a1a" stroke-width="0.8" />
<line x1="115.4" y1="469.5" x2="115.4" y2="471.1" stroke="#1a1a1a" stroke-width="0.8" />
<line x1="117.37" y1="469.5" x2="117.37" y2="471.1" stroke="#1a1a1a" stroke-width="0.8" />
<line x1="119.33" y1="469.5" x2="119.33" y2="471.1" stroke="#1a1a1a" stroke-width="0.8" />
<line x1="121.3" y1="469.5" x2="121.3" y2="472.1" stroke="#1a1a1a" stroke-width="1" />
<text transform="translate(121.3,479)" font-size="7.9" text-anchor="middle" dominant-baseline="central" font-weight="normal" fill="#1a1a1a" stroke="#1a1a1a" stroke-width="0.12" >4</text>
<text transform="translate(82.7,491.8) scale(0.68,1)" font-size="8.8" text-anchor="middle" dominant-baseline="central" font-weight="normal" fill="#1a1a1a" stroke="#1a1a1a" stroke-width="0.18" letter-spacing="0.5">Log [AMG 701] (pM)</text>
<text transform="translate(11,427.75) rotate(-90) scale(0.77,1)" font-size="8.9" text-anchor="middle" dominant-baseline="central" font-weight="normal" fill="#1a1a1a" stroke="#1a1a1a" stroke-width="0.18" >Specific cytotoxicity (%)</text>
<line x1="39.7" y1="465.5" x2="122.3" y2="465.5" stroke="#a8b0c0" stroke-width="0.8" stroke-dasharray="1.6,1.4"/>
<polyline points="47.08,464.28 47.7,464.27 48.32,464.26 48.93,464.25 49.55,464.24 50.17,464.23 50.79,464.22 51.41,464.21 52.03,464.2 52.64,464.19 53.26,464.17 53.88,464.16 54.5,464.14 55.12,464.12 55.74,464.11 56.36,464.09 56.97,464.06 57.59,464.04 58.21,464.02 58.83,463.99 59.45,463.96 60.07,463.93 60.69,463.89 61.3,463.86 61.92,463.82 62.54,463.78 63.16,463.73 63.78,463.68 64.4,463.63 65.01,463.57 65.63,463.51 66.25,463.44 66.87,463.37 67.49,463.3 68.11,463.22 68.73,463.13 69.34,463.03 69.96,462.93 70.58,462.82 71.2,462.71 71.82,462.58 72.44,462.45 73.06,462.3 73.67,462.15 74.29,461.98 74.91,461.8 75.53,461.61 76.15,461.41 76.77,461.19 77.39,460.96 78,460.71 78.62,460.44 79.24,460.15 79.86,459.85 80.48,459.52 81.1,459.18 81.71,458.81 82.33,458.42 82.95,458 83.57,457.56 84.19,457.09 84.81,456.59 85.43,456.06 86.04,455.51 86.66,454.92 87.28,454.3 87.9,453.65 88.52,452.96 89.14,452.24 89.76,451.49 90.37,450.7 90.99,449.88 91.61,449.02 92.23,448.13 92.85,447.2 93.47,446.24 94.09,445.25 94.7,444.23 95.32,443.18 95.94,442.1 96.56,440.99 97.18,439.87 97.8,438.72 98.41,437.55 99.03,436.37 99.65,435.18 100.27,433.98 100.89,432.78 101.51,431.57 102.13,430.36 102.74,429.16 103.36,427.97 103.98,426.79 104.6,425.62 105.22,424.47 105.84,423.34 106.46,422.23 107.07,421.15 107.69,420.1 108.31,419.07 108.93,418.07 109.55,417.11 110.17,416.18 110.79,415.28 111.4,414.42 112.02,413.59 112.64,412.8 113.26,412.04 113.88,411.31 114.5,410.62 115.11,409.97 115.73,409.34 116.35,408.75 116.97,408.19 117.59,407.66 118.21,407.16 118.83,406.69 119.44,406.24 120.06,405.82 120.68,405.42 121.3,405.05" fill="none" stroke="#f2b918" stroke-width="0.95"/>
<line x1="47.08" y1="467.76" x2="47.08" y2="461.73" stroke="#f2b918" stroke-width="0.9" />
<line x1="45.68" y1="467.76" x2="48.48" y2="467.76" stroke="#f2b918" stroke-width="0.9" />
<line x1="45.68" y1="461.73" x2="48.48" y2="461.73" stroke="#f2b918" stroke-width="0.9" />
<line x1="55.34" y1="465.5" x2="55.34" y2="460.21" stroke="#f2b918" stroke-width="0.9" />
<line x1="53.94" y1="465.5" x2="56.74" y2="465.5" stroke="#f2b918" stroke-width="0.9" />
<line x1="53.94" y1="460.21" x2="56.74" y2="460.21" stroke="#f2b918" stroke-width="0.9" />
<line x1="63.6" y1="467.76" x2="63.6" y2="460.21" stroke="#f2b918" stroke-width="0.9" />
<line x1="62.2" y1="467.76" x2="65" y2="467.76" stroke="#f2b918" stroke-width="0.9" />
<line x1="62.2" y1="460.21" x2="65" y2="460.21" stroke="#f2b918" stroke-width="0.9" />
<line x1="80" y1="465.5" x2="80" y2="454.93" stroke="#f2b918" stroke-width="0.9" />
<line x1="78.6" y1="465.5" x2="81.4" y2="465.5" stroke="#f2b918" stroke-width="0.9" />
<line x1="78.6" y1="454.93" x2="81.4" y2="454.93" stroke="#f2b918" stroke-width="0.9" />
<line x1="88.26" y1="459.46" x2="88.26" y2="451.91" stroke="#f2b918" stroke-width="0.9" />
<line x1="86.86" y1="459.46" x2="89.66" y2="459.46" stroke="#f2b918" stroke-width="0.9" />
<line x1="86.86" y1="451.91" x2="89.66" y2="451.91" stroke="#f2b918" stroke-width="0.9" />
<line x1="96.52" y1="450.4" x2="96.52" y2="418.69" stroke="#f2b918" stroke-width="0.9" />
<line x1="95.12" y1="450.4" x2="97.92" y2="450.4" stroke="#f2b918" stroke-width="0.9" />
<line x1="95.12" y1="418.69" x2="97.92" y2="418.69" stroke="#f2b918" stroke-width="0.9" />
<line x1="113.04" y1="414.92" x2="113.04" y2="408.12" stroke="#f2b918" stroke-width="0.9" />
<line x1="111.64" y1="414.92" x2="114.44" y2="414.92" stroke="#f2b918" stroke-width="0.9" />
<line x1="111.64" y1="408.12" x2="114.44" y2="408.12" stroke="#f2b918" stroke-width="0.9" />
<line x1="121.3" y1="405.1" x2="121.3" y2="400.57" stroke="#f2b918" stroke-width="0.9" />
<line x1="119.9" y1="405.1" x2="122.7" y2="405.1" stroke="#f2b918" stroke-width="0.9" />
<line x1="119.9" y1="400.57" x2="122.7" y2="400.57" stroke="#f2b918" stroke-width="0.9" />
<path d="M47.07 463.82L48.67 466.62L45.47 466.62Z" fill="#fff" stroke="#e8ac00" stroke-width="0.6"/>
<path d="M55.31 461.25L56.91 464.05L53.71 464.05Z" fill="#fff" stroke="#e8ac00" stroke-width="0.6"/>
<path d="M63.56 462.61L65.16 465.41L61.96 465.41Z" fill="#fff" stroke="#e8ac00" stroke-width="0.6"/>
<path d="M71.81 458.08L73.41 460.88L70.21 460.88Z" fill="#fff" stroke="#e8ac00" stroke-width="0.6"/>
<path d="M80.06 458.61L81.66 461.41L78.46 461.41Z" fill="#fff" stroke="#e8ac00" stroke-width="0.6"/>
<path d="M88.31 454.31L89.91 457.11L86.71 457.11Z" fill="#fff" stroke="#e8ac00" stroke-width="0.6"/>
<path d="M96.56 432.87L98.16 435.67L94.96 435.67Z" fill="#fff" stroke="#e8ac00" stroke-width="0.6"/>
<path d="M104.8 423.81L106.4 426.61L103.2 426.61Z" fill="#fff" stroke="#e8ac00" stroke-width="0.6"/>
<path d="M113.05 410.21L114.65 413.01L111.45 413.01Z" fill="#fff" stroke="#e8ac00" stroke-width="0.6"/>
<path d="M121.3 401.15L122.9 403.95L119.7 403.95Z" fill="#fff" stroke="#e8ac00" stroke-width="0.6"/>
<polyline points="47.08,456.44 47.7,456.44 48.32,456.44 48.93,456.43 49.55,456.43 50.17,456.43 50.79,456.43 51.41,456.43 52.03,456.43 52.64,456.43 53.26,456.43 53.88,456.42 54.5,456.42 55.12,456.42 55.74,456.42 56.36,456.41 56.97,456.41 57.59,456.4 58.21,456.4 58.83,456.39 59.45,456.39 60.07,456.38 60.69,456.37 61.3,456.36 61.92,456.35 62.54,456.34 63.16,456.32 63.78,456.31 64.4,456.29 65.01,456.27 65.63,456.24 66.25,456.21 66.87,456.18 67.49,456.14 68.11,456.1 68.73,456.05 69.34,456 69.96,455.94 70.58,455.87 71.2,455.79 71.82,455.7 72.44,455.59 73.06,455.47 73.67,455.34 74.29,455.19 74.91,455.01 75.53,454.81 76.15,454.59 76.77,454.34 77.39,454.05 78,453.72 78.62,453.36 79.24,452.94 79.86,452.48 80.48,451.96 81.1,451.37 81.71,450.72 82.33,449.99 82.95,449.18 83.57,448.29 84.19,447.3 84.81,446.21 85.43,445.03 86.04,443.74 86.66,442.34 87.28,440.84 87.9,439.24 88.52,437.54 89.14,435.75 89.76,433.87 90.37,431.93 90.99,429.93 91.61,427.89 92.23,425.83 92.85,423.77 93.47,421.71 94.09,419.69 94.7,417.72 95.32,415.81 95.94,413.97 96.56,412.22 97.18,410.57 97.8,409.01 98.41,407.56 99.03,406.22 99.65,404.98 100.27,403.84 100.89,402.81 101.51,401.86 102.13,401.01 102.74,400.24 103.36,399.55 103.98,398.93 104.6,398.38 105.22,397.88 105.84,397.44 106.46,397.05 107.07,396.71 107.69,396.4 108.31,396.13 108.93,395.89 109.55,395.68 110.17,395.49 110.79,395.33 111.4,395.19 112.02,395.06 112.64,394.95 113.26,394.85 113.88,394.76 114.5,394.69 115.11,394.62 115.73,394.57 116.35,394.51 116.97,394.47 117.59,394.43 118.21,394.4 118.83,394.37 119.44,394.34 120.06,394.32 120.68,394.3 121.3,394.28" fill="none" stroke="#c08a58" stroke-width="0.95"/>
<line x1="55.34" y1="461.73" x2="55.34" y2="448.89" stroke="#c08a58" stroke-width="0.9" />
<line x1="53.94" y1="461.73" x2="56.74" y2="461.73" stroke="#c08a58" stroke-width="0.9" />
<line x1="53.94" y1="448.89" x2="56.74" y2="448.89" stroke="#c08a58" stroke-width="0.9" />
<line x1="63.6" y1="457.95" x2="63.6" y2="452.67" stroke="#c08a58" stroke-width="0.9" />
<line x1="62.2" y1="457.95" x2="65" y2="457.95" stroke="#c08a58" stroke-width="0.9" />
<line x1="62.2" y1="452.67" x2="65" y2="452.67" stroke="#c08a58" stroke-width="0.9" />
<line x1="88.26" y1="439.07" x2="88.26" y2="431.52" stroke="#c08a58" stroke-width="0.9" />
<line x1="86.86" y1="439.07" x2="89.66" y2="439.07" stroke="#c08a58" stroke-width="0.9" />
<line x1="86.86" y1="431.52" x2="89.66" y2="431.52" stroke="#c08a58" stroke-width="0.9" />
<path d="M47.07 458.08L48.67 460.88L45.47 460.88Z" fill="#9c5a1c" stroke="#9c5a1c" stroke-width="0.6"/>
<path d="M55.31 454.31L56.91 457.11L53.71 457.11Z" fill="#9c5a1c" stroke="#9c5a1c" stroke-width="0.6"/>
<path d="M63.56 453.4L65.16 456.2L61.96 456.2Z" fill="#9c5a1c" stroke="#9c5a1c" stroke-width="0.6"/>
<path d="M71.81 452.04L73.41 454.84L70.21 454.84Z" fill="#9c5a1c" stroke="#9c5a1c" stroke-width="0.6"/>
<path d="M80.06 446.98L81.66 449.78L78.46 449.78Z" fill="#9c5a1c" stroke="#9c5a1c" stroke-width="0.6"/>
<path d="M88.31 433.62L89.91 436.42L86.71 436.42Z" fill="#9c5a1c" stroke="#9c5a1c" stroke-width="0.6"/>
<path d="M96.56 408.7L98.16 411.5L94.96 411.5Z" fill="#9c5a1c" stroke="#9c5a1c" stroke-width="0.6"/>
<path d="M104.8 398.13L106.4 400.94L103.2 400.94Z" fill="#9c5a1c" stroke="#9c5a1c" stroke-width="0.6"/>
<path d="M113.05 393.91L114.65 396.71L111.45 396.71Z" fill="#9c5a1c" stroke="#9c5a1c" stroke-width="0.6"/>
<path d="M121.3 392.85L122.9 395.65L119.7 395.65Z" fill="#9c5a1c" stroke="#9c5a1c" stroke-width="0.6"/>
<line x1="43.9" y1="393.9" x2="58.5" y2="393.9" stroke="#c08a58" stroke-width="1.3" />
<path d="M51.2 391.76L53.05 395L49.35 395Z" fill="#9c5a1c" stroke="#9c5a1c" stroke-width="0.6"/>
<text transform="translate(62,393.9) scale(0.9,1)" font-size="8" text-anchor="start" dominant-baseline="central" font-weight="normal" fill="#1a1a1a" stroke="#1a1a1a" stroke-width="0.05" >&#945;PD-1</text>
<line x1="43.9" y1="404.5" x2="58.5" y2="404.5" stroke="#f2b918" stroke-width="1.3" />
<path d="M51.2 402.31L53.1 405.63L49.3 405.63Z" fill="#fff" stroke="#e8ac00" stroke-width="0.6"/>
<text transform="translate(62,404.5) scale(0.87,1)" font-size="8" text-anchor="start" dominant-baseline="central" font-weight="normal" fill="#1a1a1a" stroke="#1a1a1a" stroke-width="0.05" >Control</text>
<line x1="168.8" y1="387.4" x2="168.8" y2="469.5" stroke="#1a1a1a" stroke-width="1.4" />
<line x1="165.8" y1="465.5" x2="168.8" y2="465.5" stroke="#1a1a1a" stroke-width="1" />
<text transform="translate(163,465.5) scale(0.98,1)" font-size="7.2" text-anchor="end" dominant-baseline="central" font-weight="normal" fill="#1a1a1a" stroke="#1a1a1a" stroke-width="0.12" >0</text>
<line x1="167.1" y1="462.48" x2="168.8" y2="462.48" stroke="#1a1a1a" stroke-width="0.8" />
<line x1="167.1" y1="459.46" x2="168.8" y2="459.46" stroke="#1a1a1a" stroke-width="0.8" />
<line x1="167.1" y1="456.44" x2="168.8" y2="456.44" stroke="#1a1a1a" stroke-width="0.8" />
<line x1="167.1" y1="453.42" x2="168.8" y2="453.42" stroke="#1a1a1a" stroke-width="0.8" />
<line x1="165.8" y1="450.4" x2="168.8" y2="450.4" stroke="#1a1a1a" stroke-width="1" />
<text transform="translate(163,450.4) scale(0.98,1)" font-size="7.2" text-anchor="end" dominant-baseline="central" font-weight="normal" fill="#1a1a1a" stroke="#1a1a1a" stroke-width="0.12" >20</text>
<line x1="167.1" y1="447.38" x2="168.8" y2="447.38" stroke="#1a1a1a" stroke-width="0.8" />
<line x1="167.1" y1="444.36" x2="168.8" y2="444.36" stroke="#1a1a1a" stroke-width="0.8" />
<line x1="167.1" y1="441.34" x2="168.8" y2="441.34" stroke="#1a1a1a" stroke-width="0.8" />
<line x1="167.1" y1="438.32" x2="168.8" y2="438.32" stroke="#1a1a1a" stroke-width="0.8" />
<line x1="165.8" y1="435.3" x2="168.8" y2="435.3" stroke="#1a1a1a" stroke-width="1" />
<text transform="translate(163,435.3) scale(0.98,1)" font-size="7.2" text-anchor="end" dominant-baseline="central" font-weight="normal" fill="#1a1a1a" stroke="#1a1a1a" stroke-width="0.12" >40</text>
<line x1="167.1" y1="432.28" x2="168.8" y2="432.28" stroke="#1a1a1a" stroke-width="0.8" />
<line x1="167.1" y1="429.26" x2="168.8" y2="429.26" stroke="#1a1a1a" stroke-width="0.8" />
<line x1="167.1" y1="426.24" x2="168.8" y2="426.24" stroke="#1a1a1a" stroke-width="0.8" />
<line x1="167.1" y1="423.22" x2="168.8" y2="423.22" stroke="#1a1a1a" stroke-width="0.8" />
<line x1="165.8" y1="420.2" x2="168.8" y2="420.2" stroke="#1a1a1a" stroke-width="1" />
<text transform="translate(163,420.2) scale(0.98,1)" font-size="7.2" text-anchor="end" dominant-baseline="central" font-weight="normal" fill="#1a1a1a" stroke="#1a1a1a" stroke-width="0.12" >60</text>
<line x1="167.1" y1="417.18" x2="168.8" y2="417.18" stroke="#1a1a1a" stroke-width="0.8" />
<line x1="167.1" y1="414.16" x2="168.8" y2="414.16" stroke="#1a1a1a" stroke-width="0.8" />
<line x1="167.1" y1="411.14" x2="168.8" y2="411.14" stroke="#1a1a1a" stroke-width="0.8" />
<line x1="167.1" y1="408.12" x2="168.8" y2="408.12" stroke="#1a1a1a" stroke-width="0.8" />
<line x1="165.8" y1="405.1" x2="168.8" y2="405.1" stroke="#1a1a1a" stroke-width="1" />
<text transform="translate(163,405.1) scale(0.98,1)" font-size="7.2" text-anchor="end" dominant-baseline="central" font-weight="normal" fill="#1a1a1a" stroke="#1a1a1a" stroke-width="0.12" >80</text>
<line x1="167.1" y1="402.08" x2="168.8" y2="402.08" stroke="#1a1a1a" stroke-width="0.8" />
<line x1="167.1" y1="399.06" x2="168.8" y2="399.06" stroke="#1a1a1a" stroke-width="0.8" />
<line x1="167.1" y1="396.04" x2="168.8" y2="396.04" stroke="#1a1a1a" stroke-width="0.8" />
<line x1="167.1" y1="393.02" x2="168.8" y2="393.02" stroke="#1a1a1a" stroke-width="0.8" />
<line x1="165.8" y1="390" x2="168.8" y2="390" stroke="#1a1a1a" stroke-width="1" />
<text transform="translate(163,390) scale(0.98,1)" font-size="7.2" text-anchor="end" dominant-baseline="central" font-weight="normal" fill="#1a1a1a" stroke="#1a1a1a" stroke-width="0.12" >100</text>
<line x1="168.1" y1="469.5" x2="252.3" y2="469.5" stroke="#1a1a1a" stroke-width="1.4" />
<line x1="168.8" y1="469.5" x2="168.8" y2="472.1" stroke="#1a1a1a" stroke-width="1" />
<text transform="translate(168.8,479)" font-size="7.9" text-anchor="middle" dominant-baseline="central" font-weight="normal" fill="#1a1a1a" stroke="#1a1a1a" stroke-width="0.12" >-3</text>
<line x1="170.77" y1="469.5" x2="170.77" y2="471.1" stroke="#1a1a1a" stroke-width="0.8" />
<line x1="172.73" y1="469.5" x2="172.73" y2="471.1" stroke="#1a1a1a" stroke-width="0.8" />
<line x1="174.7" y1="469.5" x2="174.7" y2="471.1" stroke="#1a1a1a" stroke-width="0.8" />
<line x1="176.67" y1="469.5" x2="176.67" y2="471.1" stroke="#1a1a1a" stroke-width="0.8" />
<line x1="178.63" y1="469.5" x2="178.63" y2="471.1" stroke="#1a1a1a" stroke-width="0.8" />
<line x1="180.6" y1="469.5" x2="180.6" y2="472.1" stroke="#1a1a1a" stroke-width="1" />
<text transform="translate(180.6,479)" font-size="7.9" text-anchor="middle" dominant-baseline="central" font-weight="normal" fill="#1a1a1a" stroke="#1a1a1a" stroke-width="0.12" >-2</text>
<line x1="182.57" y1="469.5" x2="182.57" y2="471.1" stroke="#1a1a1a" stroke-width="0.8" />
<line x1="184.53" y1="469.5" x2="184.53" y2="471.1" stroke="#1a1a1a" stroke-width="0.8" />
<line x1="186.5" y1="469.5" x2="186.5" y2="471.1" stroke="#1a1a1a" stroke-width="0.8" />
<line x1="188.47" y1="469.5" x2="188.47" y2="471.1" stroke="#1a1a1a" stroke-width="0.8" />
<line x1="190.43" y1="469.5" x2="190.43" y2="471.1" stroke="#1a1a1a" stroke-width="0.8" />
<line x1="192.4" y1="469.5" x2="192.4" y2="472.1" stroke="#1a1a1a" stroke-width="1" />
<text transform="translate(192.4,479)" font-size="7.9" text-anchor="middle" dominant-baseline="central" font-weight="normal" fill="#1a1a1a" stroke="#1a1a1a" stroke-width="0.12" >-1</text>
<line x1="194.37" y1="469.5" x2="194.37" y2="471.1" stroke="#1a1a1a" stroke-width="0.8" />
<line x1="196.33" y1="469.5" x2="196.33" y2="471.1" stroke="#1a1a1a" stroke-width="0.8" />
<line x1="198.3" y1="469.5" x2="198.3" y2="471.1" stroke="#1a1a1a" stroke-width="0.8" />
<line x1="200.27" y1="469.5" x2="200.27" y2="471.1" stroke="#1a1a1a" stroke-width="0.8" />
<line x1="202.23" y1="469.5" x2="202.23" y2="471.1" stroke="#1a1a1a" stroke-width="0.8" />
<line x1="204.2" y1="469.5" x2="204.2" y2="472.1" stroke="#1a1a1a" stroke-width="1" />
<text transform="translate(204.2,479)" font-size="7.9" text-anchor="middle" dominant-baseline="central" font-weight="normal" fill="#1a1a1a" stroke="#1a1a1a" stroke-width="0.12" >0</text>
<line x1="206.17" y1="469.5" x2="206.17" y2="471.1" stroke="#1a1a1a" stroke-width="0.8" />
<line x1="208.13" y1="469.5" x2="208.13" y2="471.1" stroke="#1a1a1a" stroke-width="0.8" />
<line x1="210.1" y1="469.5" x2="210.1" y2="471.1" stroke="#1a1a1a" stroke-width="0.8" />
<line x1="212.07" y1="469.5" x2="212.07" y2="471.1" stroke="#1a1a1a" stroke-width="0.8" />
<line x1="214.03" y1="469.5" x2="214.03" y2="471.1" stroke="#1a1a1a" stroke-width="0.8" />
<line x1="216" y1="469.5" x2="216" y2="472.1" stroke="#1a1a1a" stroke-width="1" />
<text transform="translate(216,479)" font-size="7.9" text-anchor="middle" dominant-baseline="central" font-weight="normal" fill="#1a1a1a" stroke="#1a1a1a" stroke-width="0.12" >1</text>
<line x1="217.97" y1="469.5" x2="217.97" y2="471.1" stroke="#1a1a1a" stroke-width="0.8" />
<line x1="219.93" y1="469.5" x2="219.93" y2="471.1" stroke="#1a1a1a" stroke-width="0.8" />
<line x1="221.9" y1="469.5" x2="221.9" y2="471.1" stroke="#1a1a1a" stroke-width="0.8" />
<line x1="223.87" y1="469.5" x2="223.87" y2="471.1" stroke="#1a1a1a" stroke-width="0.8" />
<line x1="225.83" y1="469.5" x2="225.83" y2="471.1" stroke="#1a1a1a" stroke-width="0.8" />
<line x1="227.8" y1="469.5" x2="227.8" y2="472.1" stroke="#1a1a1a" stroke-width="1" />
<text transform="translate(227.8,479)" font-size="7.9" text-anchor="middle" dominant-baseline="central" font-weight="normal" fill="#1a1a1a" stroke="#1a1a1a" stroke-width="0.12" >2</text>
<line x1="229.77" y1="469.5" x2="229.77" y2="471.1" stroke="#1a1a1a" stroke-width="0.8" />
<line x1="231.73" y1="469.5" x2="231.73" y2="471.1" stroke="#1a1a1a" stroke-width="0.8" />
<line x1="233.7" y1="469.5" x2="233.7" y2="471.1" stroke="#1a1a1a" stroke-width="0.8" />
<line x1="235.67" y1="469.5" x2="235.67" y2="471.1" stroke="#1a1a1a" stroke-width="0.8" />
<line x1="237.63" y1="469.5" x2="237.63" y2="471.1" stroke="#1a1a1a" stroke-width="0.8" />
<line x1="239.6" y1="469.5" x2="239.6" y2="472.1" stroke="#1a1a1a" stroke-width="1" />
<text transform="translate(239.6,479)" font-size="7.9" text-anchor="middle" dominant-baseline="central" font-weight="normal" fill="#1a1a1a" stroke="#1a1a1a" stroke-width="0.12" >3</text>
<line x1="241.57" y1="469.5" x2="241.57" y2="471.1" stroke="#1a1a1a" stroke-width="0.8" />
<line x1="243.53" y1="469.5" x2="243.53" y2="471.1" stroke="#1a1a1a" stroke-width="0.8" />
<line x1="245.5" y1="469.5" x2="245.5" y2="471.1" stroke="#1a1a1a" stroke-width="0.8" />
<line x1="247.47" y1="469.5" x2="247.47" y2="471.1" stroke="#1a1a1a" stroke-width="0.8" />
<line x1="249.43" y1="469.5" x2="249.43" y2="471.1" stroke="#1a1a1a" stroke-width="0.8" />
<line x1="251.4" y1="469.5" x2="251.4" y2="472.1" stroke="#1a1a1a" stroke-width="1" />
<text transform="translate(251.4,479)" font-size="7.9" text-anchor="middle" dominant-baseline="central" font-weight="normal" fill="#1a1a1a" stroke="#1a1a1a" stroke-width="0.12" >4</text>
<text transform="translate(212.8,491.8) scale(0.68,1)" font-size="8.8" text-anchor="middle" dominant-baseline="central" font-weight="normal" fill="#1a1a1a" stroke="#1a1a1a" stroke-width="0.18" letter-spacing="0.5">Log [AMG 701] (pM)</text>
<text transform="translate(141.1,427.75) rotate(-90) scale(0.77,1)" font-size="8.9" text-anchor="middle" dominant-baseline="central" font-weight="normal" fill="#1a1a1a" stroke="#1a1a1a" stroke-width="0.18" >Specific cytotoxicity (%)</text>
<line x1="169.8" y1="465.5" x2="252.4" y2="465.5" stroke="#a8b0c0" stroke-width="0.8" stroke-dasharray="1.6,1.4"/>
<polyline points="177.18,462.1 177.8,462.1 178.42,462.1 179.03,462.1 179.65,462.1 180.27,462.1 180.89,462.1 181.51,462.1 182.13,462.1 182.74,462.1 183.36,462.1 183.98,462.1 184.6,462.1 185.22,462.1 185.84,462.09 186.46,462.09 187.07,462.09 187.69,462.09 188.31,462.09 188.93,462.09 189.55,462.09 190.17,462.09 190.79,462.09 191.4,462.08 192.02,462.08 192.64,462.08 193.26,462.08 193.88,462.07 194.5,462.07 195.11,462.07 195.73,462.06 196.35,462.06 196.97,462.05 197.59,462.05 198.21,462.04 198.83,462.04 199.44,462.03 200.06,462.02 200.68,462.01 201.3,462 201.92,461.99 202.54,461.98 203.16,461.97 203.77,461.96 204.39,461.94 205.01,461.92 205.63,461.9 206.25,461.88 206.87,461.86 207.49,461.83 208.1,461.8 208.72,461.77 209.34,461.73 209.96,461.69 210.58,461.65 211.2,461.6 211.81,461.55 212.43,461.49 213.05,461.42 213.67,461.35 214.29,461.27 214.91,461.18 215.53,461.09 216.14,460.98 216.76,460.86 217.38,460.73 218,460.59 218.62,460.43 219.24,460.25 219.86,460.06 220.47,459.85 221.09,459.62 221.71,459.37 222.33,459.09 222.95,458.78 223.57,458.45 224.19,458.09 224.8,457.69 225.42,457.26 226.04,456.79 226.66,456.28 227.28,455.73 227.9,455.14 228.51,454.5 229.13,453.81 229.75,453.07 230.37,452.29 230.99,451.45 231.61,450.56 232.23,449.61 232.84,448.62 233.46,447.58 234.08,446.49 234.7,445.36 235.32,444.19 235.94,442.98 236.56,441.74 237.17,440.47 237.79,439.19 238.41,437.89 239.03,436.58 239.65,435.27 240.27,433.98 240.89,432.69 241.5,431.43 242.12,430.19 242.74,428.98 243.36,427.81 243.98,426.68 244.6,425.59 245.21,424.56 245.83,423.57 246.45,422.63 247.07,421.74 247.69,420.91 248.31,420.12 248.93,419.39 249.54,418.7 250.16,418.07 250.78,417.47 251.4,416.93" fill="none" stroke="#a09bd4" stroke-width="0.95"/>
<line x1="177.18" y1="464.75" x2="177.18" y2="459.46" stroke="#a09bd4" stroke-width="0.9" />
<line x1="175.78" y1="464.75" x2="178.58" y2="464.75" stroke="#a09bd4" stroke-width="0.9" />
<line x1="175.78" y1="459.46" x2="178.58" y2="459.46" stroke="#a09bd4" stroke-width="0.9" />
<line x1="193.7" y1="463.99" x2="193.7" y2="458.7" stroke="#a09bd4" stroke-width="0.9" />
<line x1="192.3" y1="463.99" x2="195.1" y2="463.99" stroke="#a09bd4" stroke-width="0.9" />
<line x1="192.3" y1="458.7" x2="195.1" y2="458.7" stroke="#a09bd4" stroke-width="0.9" />
<line x1="226.62" y1="457.95" x2="226.62" y2="451.91" stroke="#a09bd4" stroke-width="0.9" />
<line x1="225.22" y1="457.95" x2="228.02" y2="457.95" stroke="#a09bd4" stroke-width="0.9" />
<line x1="225.22" y1="451.91" x2="228.02" y2="451.91" stroke="#a09bd4" stroke-width="0.9" />
<line x1="234.88" y1="445.12" x2="234.88" y2="439.07" stroke="#a09bd4" stroke-width="0.9" />
<line x1="233.48" y1="445.12" x2="236.28" y2="445.12" stroke="#a09bd4" stroke-width="0.9" />
<line x1="233.48" y1="439.07" x2="236.28" y2="439.07" stroke="#a09bd4" stroke-width="0.9" />
<line x1="251.4" y1="418.69" x2="251.4" y2="414.16" stroke="#a09bd4" stroke-width="0.9" />
<line x1="250" y1="418.69" x2="252.8" y2="418.69" stroke="#a09bd4" stroke-width="0.9" />
<line x1="250" y1="414.16" x2="252.8" y2="414.16" stroke="#a09bd4" stroke-width="0.9" />
<path d="M177.17 460.35L178.77 463.15L175.57 463.15Z" fill="#fff" stroke="#8a84c8" stroke-width="0.6"/>
<path d="M185.41 460.35L187.01 463.15L183.81 463.15Z" fill="#fff" stroke="#8a84c8" stroke-width="0.6"/>
<path d="M193.66 459.52L195.26 462.32L192.06 462.32Z" fill="#fff" stroke="#8a84c8" stroke-width="0.6"/>
<path d="M201.91 460.35L203.51 463.15L200.31 463.15Z" fill="#fff" stroke="#8a84c8" stroke-width="0.6"/>
<path d="M210.16 460.8L211.76 463.6L208.56 463.6Z" fill="#fff" stroke="#8a84c8" stroke-width="0.6"/>
<path d="M218.41 458.53L220.01 461.33L216.81 461.33Z" fill="#fff" stroke="#8a84c8" stroke-width="0.6"/>
<path d="M226.66 453.4L228.26 456.2L225.06 456.2Z" fill="#fff" stroke="#8a84c8" stroke-width="0.6"/>
<path d="M234.9 440.42L236.5 443.22L233.3 443.22Z" fill="#fff" stroke="#8a84c8" stroke-width="0.6"/>
<path d="M243.15 424.79L244.75 427.59L241.55 427.59Z" fill="#fff" stroke="#8a84c8" stroke-width="0.6"/>
<path d="M251.4 414.37L253 417.17L249.8 417.17Z" fill="#fff" stroke="#8a84c8" stroke-width="0.6"/>
<polyline points="177.18,465.88 177.8,465.88 178.42,465.88 179.03,465.88 179.65,465.88 180.27,465.88 180.89,465.88 181.51,465.88 182.13,465.88 182.74,465.88 183.36,465.88 183.98,465.88 184.6,465.88 185.22,465.87 185.84,465.87 186.46,465.87 187.07,465.87 187.69,465.87 188.31,465.87 188.93,465.87 189.55,465.87 190.17,465.87 190.79,465.87 191.4,465.87 192.02,465.86 192.64,465.86 193.26,465.86 193.88,465.86 194.5,465.85 195.11,465.85 195.73,465.85 196.35,465.84 196.97,465.83 197.59,465.83 198.21,465.82 198.83,465.81 199.44,465.8 200.06,465.79 200.68,465.78 201.3,465.76 201.92,465.74 202.54,465.72 203.16,465.7 203.77,465.67 204.39,465.63 205.01,465.6 205.63,465.55 206.25,465.5 206.87,465.45 207.49,465.38 208.1,465.3 208.72,465.21 209.34,465.11 209.96,464.99 210.58,464.86 211.2,464.7 211.81,464.52 212.43,464.32 213.05,464.08 213.67,463.81 214.29,463.5 214.91,463.15 215.53,462.75 216.14,462.29 216.76,461.77 217.38,461.18 218,460.52 218.62,459.77 219.24,458.93 219.86,458 220.47,456.96 221.09,455.81 221.71,454.54 222.33,453.16 222.95,451.66 223.57,450.04 224.19,448.31 224.8,446.48 225.42,444.56 226.04,442.56 226.66,440.51 227.28,438.41 227.9,436.29 228.51,434.18 229.13,432.09 229.75,430.05 230.37,428.07 230.99,426.18 231.61,424.38 232.23,422.69 232.84,421.11 233.46,419.64 234.08,418.3 234.7,417.07 235.32,415.95 235.94,414.94 236.56,414.04 237.17,413.23 237.79,412.51 238.41,411.87 239.03,411.3 239.65,410.8 240.27,410.36 240.89,409.98 241.5,409.64 242.12,409.34 242.74,409.08 243.36,408.86 243.98,408.66 244.6,408.49 245.21,408.34 245.83,408.21 246.45,408.1 247.07,408 247.69,407.92 248.31,407.84 248.93,407.78 249.54,407.72 250.16,407.67 250.78,407.63 251.4,407.6" fill="none" stroke="#d8308a" stroke-width="0.95"/>
<line x1="226.62" y1="444.36" x2="226.62" y2="437.56" stroke="#d8308a" stroke-width="0.9" />
<line x1="225.22" y1="444.36" x2="228.02" y2="444.36" stroke="#d8308a" stroke-width="0.9" />
<line x1="225.22" y1="437.56" x2="228.02" y2="437.56" stroke="#d8308a" stroke-width="0.9" />
<line x1="251.4" y1="411.14" x2="251.4" y2="405.86" stroke="#d8308a" stroke-width="0.9" />
<line x1="250" y1="411.14" x2="252.8" y2="411.14" stroke="#d8308a" stroke-width="0.9" />
<line x1="250" y1="405.86" x2="252.8" y2="405.86" stroke="#d8308a" stroke-width="0.9" />
<path d="M177.17 463.82L178.77 466.62L175.57 466.62Z" fill="#c8106e" stroke="#c8106e" stroke-width="0.6"/>
<path d="M193.66 463.44L195.26 466.24L192.06 466.24Z" fill="#c8106e" stroke="#c8106e" stroke-width="0.6"/>
<path d="M201.91 463.82L203.51 466.62L200.31 466.62Z" fill="#c8106e" stroke="#c8106e" stroke-width="0.6"/>
<path d="M210.16 463.29L211.76 466.09L208.56 466.09Z" fill="#c8106e" stroke="#c8106e" stroke-width="0.6"/>
<path d="M218.41 460.8L220.01 463.6L216.81 463.6Z" fill="#c8106e" stroke="#c8106e" stroke-width="0.6"/>
<path d="M226.66 438.9L228.26 441.7L225.06 441.7Z" fill="#c8106e" stroke="#c8106e" stroke-width="0.6"/>
<path d="M234.9 418.52L236.5 421.32L233.3 421.32Z" fill="#c8106e" stroke="#c8106e" stroke-width="0.6"/>
<path d="M243.15 408.33L244.75 411.13L241.55 411.13Z" fill="#c8106e" stroke="#c8106e" stroke-width="0.6"/>
<path d="M251.4 407.19L253 410L249.8 410Z" fill="#c8106e" stroke="#c8106e" stroke-width="0.6"/>
<line x1="174" y1="393.9" x2="188.6" y2="393.9" stroke="#d8308a" stroke-width="1.3" />
<path d="M181.3 391.76L183.15 395L179.45 395Z" fill="#c8106e" stroke="#c8106e" stroke-width="0.6"/>
<text transform="translate(192.1,393.9) scale(0.9,1)" font-size="8" text-anchor="start" dominant-baseline="central" font-weight="normal" fill="#1a1a1a" stroke="#1a1a1a" stroke-width="0.05" >&#945;PD-1</text>
<line x1="174" y1="404.5" x2="188.6" y2="404.5" stroke="#a09bd4" stroke-width="1.3" />
<path d="M181.3 402.31L183.2 405.63L179.4 405.63Z" fill="#fff" stroke="#8a84c8" stroke-width="0.6"/>
<text transform="translate(192.1,404.5) scale(0.87,1)" font-size="8" text-anchor="start" dominant-baseline="central" font-weight="normal" fill="#1a1a1a" stroke="#1a1a1a" stroke-width="0.05" >Control</text>
<text transform="translate(11.5,516.8)" font-size="10.5" text-anchor="middle" dominant-baseline="central" font-weight="bold" fill="#000" stroke="#000" stroke-width="0" >D</text>
<line x1="38.7" y1="528.4" x2="38.7" y2="612.3" stroke="#1a1a1a" stroke-width="1.4" />
<line x1="35.7" y1="608.6" x2="38.7" y2="608.6" stroke="#1a1a1a" stroke-width="1" />
<text transform="translate(32.9,608.6) scale(0.98,1)" font-size="7.2" text-anchor="end" dominant-baseline="central" font-weight="normal" fill="#1a1a1a" stroke="#1a1a1a" stroke-width="0.12" >0</text>
<line x1="37" y1="605.5" x2="38.7" y2="605.5" stroke="#1a1a1a" stroke-width="0.8" />
<line x1="37" y1="602.39" x2="38.7" y2="602.39" stroke="#1a1a1a" stroke-width="0.8" />
<line x1="37" y1="599.29" x2="38.7" y2="599.29" stroke="#1a1a1a" stroke-width="0.8" />
<line x1="37" y1="596.18" x2="38.7" y2="596.18" stroke="#1a1a1a" stroke-width="0.8" />
<line x1="35.7" y1="593.08" x2="38.7" y2="593.08" stroke="#1a1a1a" stroke-width="1" />
<text transform="translate(32.9,593.08) scale(0.98,1)" font-size="7.2" text-anchor="end" dominant-baseline="central" font-weight="normal" fill="#1a1a1a" stroke="#1a1a1a" stroke-width="0.12" >20</text>
<line x1="37" y1="589.98" x2="38.7" y2="589.98" stroke="#1a1a1a" stroke-width="0.8" />
<line x1="37" y1="586.87" x2="38.7" y2="586.87" stroke="#1a1a1a" stroke-width="0.8" />
<line x1="37" y1="583.77" x2="38.7" y2="583.77" stroke="#1a1a1a" stroke-width="0.8" />
<line x1="37" y1="580.66" x2="38.7" y2="580.66" stroke="#1a1a1a" stroke-width="0.8" />
<line x1="35.7" y1="577.56" x2="38.7" y2="577.56" stroke="#1a1a1a" stroke-width="1" />
<text transform="translate(32.9,577.56) scale(0.98,1)" font-size="7.2" text-anchor="end" dominant-baseline="central" font-weight="normal" fill="#1a1a1a" stroke="#1a1a1a" stroke-width="0.12" >40</text>
<line x1="37" y1="574.46" x2="38.7" y2="574.46" stroke="#1a1a1a" stroke-width="0.8" />
<line x1="37" y1="571.35" x2="38.7" y2="571.35" stroke="#1a1a1a" stroke-width="0.8" />
<line x1="37" y1="568.25" x2="38.7" y2="568.25" stroke="#1a1a1a" stroke-width="0.8" />
<line x1="37" y1="565.14" x2="38.7" y2="565.14" stroke="#1a1a1a" stroke-width="0.8" />
<line x1="35.7" y1="562.04" x2="38.7" y2="562.04" stroke="#1a1a1a" stroke-width="1" />
<text transform="translate(32.9,562.04) scale(0.98,1)" font-size="7.2" text-anchor="end" dominant-baseline="central" font-weight="normal" fill="#1a1a1a" stroke="#1a1a1a" stroke-width="0.12" >60</text>
<line x1="37" y1="558.94" x2="38.7" y2="558.94" stroke="#1a1a1a" stroke-width="0.8" />
<line x1="37" y1="555.83" x2="38.7" y2="555.83" stroke="#1a1a1a" stroke-width="0.8" />
<line x1="37" y1="552.73" x2="38.7" y2="552.73" stroke="#1a1a1a" stroke-width="0.8" />
<line x1="37" y1="549.62" x2="38.7" y2="549.62" stroke="#1a1a1a" stroke-width="0.8" />
<line x1="35.7" y1="546.52" x2="38.7" y2="546.52" stroke="#1a1a1a" stroke-width="1" />
<text transform="translate(32.9,546.52) scale(0.98,1)" font-size="7.2" text-anchor="end" dominant-baseline="central" font-weight="normal" fill="#1a1a1a" stroke="#1a1a1a" stroke-width="0.12" >80</text>
<line x1="37" y1="543.42" x2="38.7" y2="543.42" stroke="#1a1a1a" stroke-width="0.8" />
<line x1="37" y1="540.31" x2="38.7" y2="540.31" stroke="#1a1a1a" stroke-width="0.8" />
<line x1="37" y1="537.21" x2="38.7" y2="537.21" stroke="#1a1a1a" stroke-width="0.8" />
<line x1="37" y1="534.1" x2="38.7" y2="534.1" stroke="#1a1a1a" stroke-width="0.8" />
<line x1="35.7" y1="531" x2="38.7" y2="531" stroke="#1a1a1a" stroke-width="1" />
<text transform="translate(32.9,531) scale(0.98,1)" font-size="7.2" text-anchor="end" dominant-baseline="central" font-weight="normal" fill="#1a1a1a" stroke="#1a1a1a" stroke-width="0.12" >100</text>
<line x1="38" y1="612.3" x2="122.2" y2="612.3" stroke="#1a1a1a" stroke-width="1.4" />
<line x1="38.7" y1="612.3" x2="38.7" y2="614.9" stroke="#1a1a1a" stroke-width="1" />
<text transform="translate(38.7,622.6)" font-size="7.9" text-anchor="middle" dominant-baseline="central" font-weight="normal" fill="#1a1a1a" stroke="#1a1a1a" stroke-width="0.12" >-3</text>
<line x1="40.67" y1="612.3" x2="40.67" y2="613.9" stroke="#1a1a1a" stroke-width="0.8" />
<line x1="42.63" y1="612.3" x2="42.63" y2="613.9" stroke="#1a1a1a" stroke-width="0.8" />
<line x1="44.6" y1="612.3" x2="44.6" y2="613.9" stroke="#1a1a1a" stroke-width="0.8" />
<line x1="46.57" y1="612.3" x2="46.57" y2="613.9" stroke="#1a1a1a" stroke-width="0.8" />
<line x1="48.53" y1="612.3" x2="48.53" y2="613.9" stroke="#1a1a1a" stroke-width="0.8" />
<line x1="50.5" y1="612.3" x2="50.5" y2="614.9" stroke="#1a1a1a" stroke-width="1" />
<text transform="translate(50.5,622.6)" font-size="7.9" text-anchor="middle" dominant-baseline="central" font-weight="normal" fill="#1a1a1a" stroke="#1a1a1a" stroke-width="0.12" >-2</text>
<line x1="52.47" y1="612.3" x2="52.47" y2="613.9" stroke="#1a1a1a" stroke-width="0.8" />
<line x1="54.43" y1="612.3" x2="54.43" y2="613.9" stroke="#1a1a1a" stroke-width="0.8" />
<line x1="56.4" y1="612.3" x2="56.4" y2="613.9" stroke="#1a1a1a" stroke-width="0.8" />
<line x1="58.37" y1="612.3" x2="58.37" y2="613.9" stroke="#1a1a1a" stroke-width="0.8" />
<line x1="60.33" y1="612.3" x2="60.33" y2="613.9" stroke="#1a1a1a" stroke-width="0.8" />
<line x1="62.3" y1="612.3" x2="62.3" y2="614.9" stroke="#1a1a1a" stroke-width="1" />
<text transform="translate(62.3,622.6)" font-size="7.9" text-anchor="middle" dominant-baseline="central" font-weight="normal" fill="#1a1a1a" stroke="#1a1a1a" stroke-width="0.12" >-1</text>
<line x1="64.27" y1="612.3" x2="64.27" y2="613.9" stroke="#1a1a1a" stroke-width="0.8" />
<line x1="66.23" y1="612.3" x2="66.23" y2="613.9" stroke="#1a1a1a" stroke-width="0.8" />
<line x1="68.2" y1="612.3" x2="68.2" y2="613.9" stroke="#1a1a1a" stroke-width="0.8" />
<line x1="70.17" y1="612.3" x2="70.17" y2="613.9" stroke="#1a1a1a" stroke-width="0.8" />
<line x1="72.13" y1="612.3" x2="72.13" y2="613.9" stroke="#1a1a1a" stroke-width="0.8" />
<line x1="74.1" y1="612.3" x2="74.1" y2="614.9" stroke="#1a1a1a" stroke-width="1" />
<text transform="translate(74.1,622.6)" font-size="7.9" text-anchor="middle" dominant-baseline="central" font-weight="normal" fill="#1a1a1a" stroke="#1a1a1a" stroke-width="0.12" >0</text>
<line x1="76.07" y1="612.3" x2="76.07" y2="613.9" stroke="#1a1a1a" stroke-width="0.8" />
<line x1="78.03" y1="612.3" x2="78.03" y2="613.9" stroke="#1a1a1a" stroke-width="0.8" />
<line x1="80" y1="612.3" x2="80" y2="613.9" stroke="#1a1a1a" stroke-width="0.8" />
<line x1="81.97" y1="612.3" x2="81.97" y2="613.9" stroke="#1a1a1a" stroke-width="0.8" />
<line x1="83.93" y1="612.3" x2="83.93" y2="613.9" stroke="#1a1a1a" stroke-width="0.8" />
<line x1="85.9" y1="612.3" x2="85.9" y2="614.9" stroke="#1a1a1a" stroke-width="1" />
<text transform="translate(85.9,622.6)" font-size="7.9" text-anchor="middle" dominant-baseline="central" font-weight="normal" fill="#1a1a1a" stroke="#1a1a1a" stroke-width="0.12" >1</text>
<line x1="87.87" y1="612.3" x2="87.87" y2="613.9" stroke="#1a1a1a" stroke-width="0.8" />
<line x1="89.83" y1="612.3" x2="89.83" y2="613.9" stroke="#1a1a1a" stroke-width="0.8" />
<line x1="91.8" y1="612.3" x2="91.8" y2="613.9" stroke="#1a1a1a" stroke-width="0.8" />
<line x1="93.77" y1="612.3" x2="93.77" y2="613.9" stroke="#1a1a1a" stroke-width="0.8" />
<line x1="95.73" y1="612.3" x2="95.73" y2="613.9" stroke="#1a1a1a" stroke-width="0.8" />
<line x1="97.7" y1="612.3" x2="97.7" y2="614.9" stroke="#1a1a1a" stroke-width="1" />
<text transform="translate(97.7,622.6)" font-size="7.9" text-anchor="middle" dominant-baseline="central" font-weight="normal" fill="#1a1a1a" stroke="#1a1a1a" stroke-width="0.12" >2</text>
<line x1="99.67" y1="612.3" x2="99.67" y2="613.9" stroke="#1a1a1a" stroke-width="0.8" />
<line x1="101.63" y1="612.3" x2="101.63" y2="613.9" stroke="#1a1a1a" stroke-width="0.8" />
<line x1="103.6" y1="612.3" x2="103.6" y2="613.9" stroke="#1a1a1a" stroke-width="0.8" />
<line x1="105.57" y1="612.3" x2="105.57" y2="613.9" stroke="#1a1a1a" stroke-width="0.8" />
<line x1="107.53" y1="612.3" x2="107.53" y2="613.9" stroke="#1a1a1a" stroke-width="0.8" />
<line x1="109.5" y1="612.3" x2="109.5" y2="614.9" stroke="#1a1a1a" stroke-width="1" />
<text transform="translate(109.5,622.6)" font-size="7.9" text-anchor="middle" dominant-baseline="central" font-weight="normal" fill="#1a1a1a" stroke="#1a1a1a" stroke-width="0.12" >3</text>
<line x1="111.47" y1="612.3" x2="111.47" y2="613.9" stroke="#1a1a1a" stroke-width="0.8" />
<line x1="113.43" y1="612.3" x2="113.43" y2="613.9" stroke="#1a1a1a" stroke-width="0.8" />
<line x1="115.4" y1="612.3" x2="115.4" y2="613.9" stroke="#1a1a1a" stroke-width="0.8" />
<line x1="117.37" y1="612.3" x2="117.37" y2="613.9" stroke="#1a1a1a" stroke-width="0.8" />
<line x1="119.33" y1="612.3" x2="119.33" y2="613.9" stroke="#1a1a1a" stroke-width="0.8" />
<line x1="121.3" y1="612.3" x2="121.3" y2="614.9" stroke="#1a1a1a" stroke-width="1" />
<text transform="translate(121.3,622.6)" font-size="7.9" text-anchor="middle" dominant-baseline="central" font-weight="normal" fill="#1a1a1a" stroke="#1a1a1a" stroke-width="0.12" >4</text>
<text transform="translate(82.7,635.6) scale(0.68,1)" font-size="8.8" text-anchor="middle" dominant-baseline="central" font-weight="normal" fill="#1a1a1a" stroke="#1a1a1a" stroke-width="0.18" letter-spacing="0.5">Log [AMG 701] (pM)</text>
<text transform="translate(11,569.65) rotate(-90) scale(0.77,1)" font-size="8.9" text-anchor="middle" dominant-baseline="central" font-weight="normal" fill="#1a1a1a" stroke="#1a1a1a" stroke-width="0.18" >Specific cytotoxicity (%)</text>
<line x1="39.7" y1="608.6" x2="122.3" y2="608.6" stroke="#a8b0c0" stroke-width="0.8" stroke-dasharray="1.6,1.4"/>
<polyline points="47.08,605.5 47.7,605.5 48.32,605.5 48.93,605.5 49.55,605.5 50.17,605.5 50.79,605.5 51.41,605.5 52.03,605.5 52.64,605.5 53.26,605.5 53.88,605.5 54.5,605.5 55.12,605.5 55.74,605.5 56.36,605.5 56.97,605.5 57.59,605.5 58.21,605.5 58.83,605.5 59.45,605.5 60.07,605.5 60.69,605.5 61.3,605.5 61.92,605.5 62.54,605.49 63.16,605.49 63.78,605.49 64.4,605.49 65.01,605.49 65.63,605.49 66.25,605.49 66.87,605.49 67.49,605.49 68.11,605.49 68.73,605.49 69.34,605.49 69.96,605.49 70.58,605.48 71.2,605.48 71.82,605.48 72.44,605.47 73.06,605.47 73.67,605.47 74.29,605.46 74.91,605.45 75.53,605.44 76.15,605.43 76.77,605.42 77.39,605.41 78,605.39 78.62,605.37 79.24,605.34 79.86,605.31 80.48,605.28 81.1,605.23 81.71,605.18 82.33,605.12 82.95,605.04 83.57,604.95 84.19,604.85 84.81,604.72 85.43,604.57 86.04,604.39 86.66,604.17 87.28,603.91 87.9,603.61 88.52,603.24 89.14,602.81 89.76,602.31 90.37,601.71 90.99,601.01 91.61,600.18 92.23,599.23 92.85,598.12 93.47,596.84 94.09,595.38 94.7,593.71 95.32,591.84 95.94,589.76 96.56,587.46 97.18,584.96 97.8,582.27 98.41,579.42 99.03,576.44 99.65,573.39 100.27,570.3 100.89,567.23 101.51,564.23 102.13,561.33 102.74,558.59 103.36,556.02 103.98,553.66 104.6,551.5 105.22,549.56 105.84,547.84 106.46,546.31 107.07,544.98 107.69,543.81 108.31,542.81 108.93,541.95 109.55,541.21 110.17,540.58 110.79,540.04 111.4,539.59 112.02,539.21 112.64,538.88 113.26,538.61 113.88,538.38 114.5,538.19 115.11,538.03 115.73,537.9 116.35,537.78 116.97,537.69 117.59,537.61 118.21,537.54 118.83,537.49 119.44,537.44 120.06,537.4 120.68,537.37 121.3,537.34" fill="none" stroke="#f2b918" stroke-width="0.95"/>
<line x1="47.08" y1="612.48" x2="47.08" y2="581.44" stroke="#f2b918" stroke-width="0.9" />
<line x1="45.68" y1="612.48" x2="48.48" y2="612.48" stroke="#f2b918" stroke-width="0.9" />
<line x1="45.68" y1="581.44" x2="48.48" y2="581.44" stroke="#f2b918" stroke-width="0.9" />
<line x1="104.78" y1="558.94" x2="104.78" y2="548.07" stroke="#f2b918" stroke-width="0.9" />
<line x1="103.38" y1="558.94" x2="106.18" y2="558.94" stroke="#f2b918" stroke-width="0.9" />
<line x1="103.38" y1="548.07" x2="106.18" y2="548.07" stroke="#f2b918" stroke-width="0.9" />
<line x1="121.3" y1="540.31" x2="121.3" y2="534.1" stroke="#f2b918" stroke-width="0.9" />
<line x1="119.9" y1="540.31" x2="122.7" y2="540.31" stroke="#f2b918" stroke-width="0.9" />
<line x1="119.9" y1="534.1" x2="122.7" y2="534.1" stroke="#f2b918" stroke-width="0.9" />
<line x1="88.26" y1="603.17" x2="88.26" y2="597.74" stroke="#f2b918" stroke-width="0.9" />
<line x1="86.86" y1="603.17" x2="89.66" y2="603.17" stroke="#f2b918" stroke-width="0.9" />
<line x1="86.86" y1="597.74" x2="89.66" y2="597.74" stroke="#f2b918" stroke-width="0.9" />
<path d="M47.07 597.06L48.67 599.86L45.47 599.86Z" fill="#fff" stroke="#e8ac00" stroke-width="0.6"/>
<path d="M55.31 606.92L56.91 609.72L53.71 609.72Z" fill="#fff" stroke="#e8ac00" stroke-width="0.6"/>
<path d="M63.56 606.92L65.16 609.72L61.96 609.72Z" fill="#fff" stroke="#e8ac00" stroke-width="0.6"/>
<path d="M71.81 606.92L73.41 609.72L70.21 609.72Z" fill="#fff" stroke="#e8ac00" stroke-width="0.6"/>
<path d="M80.06 603.43L81.66 606.23L78.46 606.23Z" fill="#fff" stroke="#e8ac00" stroke-width="0.6"/>
<path d="M88.31 598.77L89.91 601.57L86.71 601.57Z" fill="#fff" stroke="#e8ac00" stroke-width="0.6"/>
<path d="M96.56 584.8L98.16 587.6L94.96 587.6Z" fill="#fff" stroke="#e8ac00" stroke-width="0.6"/>
<path d="M104.8 551.82L106.4 554.62L103.2 554.62Z" fill="#fff" stroke="#e8ac00" stroke-width="0.6"/>
<path d="M113.05 536.3L114.65 539.1L111.45 539.1Z" fill="#fff" stroke="#e8ac00" stroke-width="0.6"/>
<path d="M121.3 535.06L122.9 537.86L119.7 537.86Z" fill="#fff" stroke="#e8ac00" stroke-width="0.6"/>
<polyline points="47.08,602.39 47.7,602.39 48.32,602.39 48.93,602.39 49.55,602.39 50.17,602.39 50.79,602.39 51.41,602.39 52.03,602.39 52.64,602.39 53.26,602.39 53.88,602.39 54.5,602.39 55.12,602.39 55.74,602.39 56.36,602.39 56.97,602.39 57.59,602.39 58.21,602.39 58.83,602.39 59.45,602.39 60.07,602.39 60.69,602.39 61.3,602.39 61.92,602.39 62.54,602.39 63.16,602.38 63.78,602.38 64.4,602.38 65.01,602.38 65.63,602.38 66.25,602.37 66.87,602.37 67.49,602.37 68.11,602.36 68.73,602.36 69.34,602.35 69.96,602.34 70.58,602.33 71.2,602.32 71.82,602.3 72.44,602.28 73.06,602.26 73.67,602.24 74.29,602.21 74.91,602.17 75.53,602.13 76.15,602.07 76.77,602.01 77.39,601.94 78,601.85 78.62,601.74 79.24,601.61 79.86,601.46 80.48,601.28 81.1,601.06 81.71,600.81 82.33,600.5 82.95,600.14 83.57,599.71 84.19,599.21 84.81,598.62 85.43,597.92 86.04,597.11 86.66,596.17 87.28,595.08 87.9,593.83 88.52,592.4 89.14,590.79 89.76,588.98 90.37,586.98 90.99,584.79 91.61,582.42 92.23,579.89 92.85,577.24 93.47,574.49 94.09,571.69 94.7,568.89 95.32,566.12 95.94,563.44 96.56,560.88 97.18,558.47 97.8,556.23 98.41,554.19 99.03,552.33 99.65,550.68 100.27,549.21 100.89,547.91 101.51,546.79 102.13,545.81 102.74,544.97 103.36,544.24 103.98,543.63 104.6,543.1 105.22,542.66 105.84,542.28 106.46,541.96 107.07,541.7 107.69,541.47 108.31,541.28 108.93,541.12 109.55,540.99 110.17,540.88 110.79,540.79 111.4,540.71 112.02,540.64 112.64,540.59 113.26,540.54 113.88,540.5 114.5,540.47 115.11,540.45 115.73,540.42 116.35,540.41 116.97,540.39 117.59,540.38 118.21,540.37 118.83,540.36 119.44,540.35 120.06,540.34 120.68,540.34 121.3,540.33" fill="none" stroke="#c08a58" stroke-width="0.95"/>
<line x1="55.34" y1="605.5" x2="55.34" y2="600.06" stroke="#c08a58" stroke-width="0.9" />
<line x1="53.94" y1="605.5" x2="56.74" y2="605.5" stroke="#c08a58" stroke-width="0.9" />
<line x1="53.94" y1="600.06" x2="56.74" y2="600.06" stroke="#c08a58" stroke-width="0.9" />
<line x1="63.6" y1="604.72" x2="63.6" y2="598.51" stroke="#c08a58" stroke-width="0.9" />
<line x1="62.2" y1="604.72" x2="65" y2="604.72" stroke="#c08a58" stroke-width="0.9" />
<line x1="62.2" y1="598.51" x2="65" y2="598.51" stroke="#c08a58" stroke-width="0.9" />
<line x1="88.26" y1="594.63" x2="88.26" y2="587.65" stroke="#c08a58" stroke-width="0.9" />
<line x1="86.86" y1="594.63" x2="89.66" y2="594.63" stroke="#c08a58" stroke-width="0.9" />
<line x1="86.86" y1="587.65" x2="89.66" y2="587.65" stroke="#c08a58" stroke-width="0.9" />
<line x1="104.78" y1="542.64" x2="104.78" y2="534.88" stroke="#c08a58" stroke-width="0.9" />
<line x1="103.38" y1="542.64" x2="106.18" y2="542.64" stroke="#c08a58" stroke-width="0.9" />
<line x1="103.38" y1="534.88" x2="106.18" y2="534.88" stroke="#c08a58" stroke-width="0.9" />
<line x1="121.3" y1="543.42" x2="121.3" y2="537.21" stroke="#c08a58" stroke-width="0.9" />
<line x1="119.9" y1="543.42" x2="122.7" y2="543.42" stroke="#c08a58" stroke-width="0.9" />
<line x1="119.9" y1="537.21" x2="122.7" y2="537.21" stroke="#c08a58" stroke-width="0.9" />
<path d="M47.07 604.82L48.67 607.62L45.47 607.62Z" fill="#9c5a1c" stroke="#9c5a1c" stroke-width="0.6"/>
<path d="M55.31 601.72L56.91 604.52L53.71 604.52Z" fill="#9c5a1c" stroke="#9c5a1c" stroke-width="0.6"/>
<path d="M63.56 601.02L65.16 603.82L61.96 603.82Z" fill="#9c5a1c" stroke="#9c5a1c" stroke-width="0.6"/>
<path d="M71.81 599.32L73.41 602.12L70.21 602.12Z" fill="#9c5a1c" stroke="#9c5a1c" stroke-width="0.6"/>
<path d="M80.06 598.23L81.66 601.03L78.46 601.03Z" fill="#9c5a1c" stroke="#9c5a1c" stroke-width="0.6"/>
<path d="M88.31 589.23L89.91 592.03L86.71 592.03Z" fill="#9c5a1c" stroke="#9c5a1c" stroke-width="0.6"/>
<path d="M96.56 559.74L98.16 562.54L94.96 562.54Z" fill="#9c5a1c" stroke="#9c5a1c" stroke-width="0.6"/>
<path d="M104.8 537.16L106.4 539.96L103.2 539.96Z" fill="#9c5a1c" stroke="#9c5a1c" stroke-width="0.6"/>
<path d="M113.05 538.63L114.65 541.43L111.45 541.43Z" fill="#9c5a1c" stroke="#9c5a1c" stroke-width="0.6"/>
<path d="M121.3 538.86L122.9 541.66L119.7 541.66Z" fill="#9c5a1c" stroke="#9c5a1c" stroke-width="0.6"/>
<line x1="43.9" y1="539.2" x2="58.5" y2="539.2" stroke="#c08a58" stroke-width="1.3" />
<path d="M51.2 537.06L53.05 540.29L49.35 540.29Z" fill="#9c5a1c" stroke="#9c5a1c" stroke-width="0.6"/>
<text transform="translate(62,539.2) scale(0.9,1)" font-size="8" text-anchor="start" dominant-baseline="central" font-weight="normal" fill="#1a1a1a" stroke="#1a1a1a" stroke-width="0.05" >&#945;PD-1</text>
<line x1="43.9" y1="549.7" x2="58.5" y2="549.7" stroke="#f2b918" stroke-width="1.3" />
<path d="M51.2 547.5L53.1 550.83L49.3 550.83Z" fill="#fff" stroke="#e8ac00" stroke-width="0.6"/>
<text transform="translate(62,549.7) scale(0.87,1)" font-size="8" text-anchor="start" dominant-baseline="central" font-weight="normal" fill="#1a1a1a" stroke="#1a1a1a" stroke-width="0.05" >Control</text>
<line x1="168.9" y1="529.1" x2="168.9" y2="612" stroke="#1a1a1a" stroke-width="1.4" />
<line x1="165.9" y1="612" x2="168.9" y2="612" stroke="#1a1a1a" stroke-width="1" />
<text transform="translate(163.1,612) scale(0.98,1)" font-size="7.2" text-anchor="end" dominant-baseline="central" font-weight="normal" fill="#1a1a1a" stroke="#1a1a1a" stroke-width="0.12" >-20</text>
<line x1="167.2" y1="608.65" x2="168.9" y2="608.65" stroke="#1a1a1a" stroke-width="0.8" />
<line x1="167.2" y1="605.31" x2="168.9" y2="605.31" stroke="#1a1a1a" stroke-width="0.8" />
<line x1="167.2" y1="601.96" x2="168.9" y2="601.96" stroke="#1a1a1a" stroke-width="0.8" />
<line x1="165.9" y1="598.62" x2="168.9" y2="598.62" stroke="#1a1a1a" stroke-width="1" />
<text transform="translate(163.1,598.62) scale(0.98,1)" font-size="7.2" text-anchor="end" dominant-baseline="central" font-weight="normal" fill="#1a1a1a" stroke="#1a1a1a" stroke-width="0.12" >0</text>
<line x1="167.2" y1="595.27" x2="168.9" y2="595.27" stroke="#1a1a1a" stroke-width="0.8" />
<line x1="167.2" y1="591.92" x2="168.9" y2="591.92" stroke="#1a1a1a" stroke-width="0.8" />
<line x1="167.2" y1="588.58" x2="168.9" y2="588.58" stroke="#1a1a1a" stroke-width="0.8" />
<line x1="165.9" y1="585.23" x2="168.9" y2="585.23" stroke="#1a1a1a" stroke-width="1" />
<text transform="translate(163.1,585.23) scale(0.98,1)" font-size="7.2" text-anchor="end" dominant-baseline="central" font-weight="normal" fill="#1a1a1a" stroke="#1a1a1a" stroke-width="0.12" >20</text>
<line x1="167.2" y1="581.89" x2="168.9" y2="581.89" stroke="#1a1a1a" stroke-width="0.8" />
<line x1="167.2" y1="578.54" x2="168.9" y2="578.54" stroke="#1a1a1a" stroke-width="0.8" />
<line x1="167.2" y1="575.2" x2="168.9" y2="575.2" stroke="#1a1a1a" stroke-width="0.8" />
<line x1="165.9" y1="571.85" x2="168.9" y2="571.85" stroke="#1a1a1a" stroke-width="1" />
<text transform="translate(163.1,571.85) scale(0.98,1)" font-size="7.2" text-anchor="end" dominant-baseline="central" font-weight="normal" fill="#1a1a1a" stroke="#1a1a1a" stroke-width="0.12" >40</text>
<line x1="167.2" y1="568.5" x2="168.9" y2="568.5" stroke="#1a1a1a" stroke-width="0.8" />
<line x1="167.2" y1="565.16" x2="168.9" y2="565.16" stroke="#1a1a1a" stroke-width="0.8" />
<line x1="167.2" y1="561.81" x2="168.9" y2="561.81" stroke="#1a1a1a" stroke-width="0.8" />
<line x1="165.9" y1="558.47" x2="168.9" y2="558.47" stroke="#1a1a1a" stroke-width="1" />
<text transform="translate(163.1,558.47) scale(0.98,1)" font-size="7.2" text-anchor="end" dominant-baseline="central" font-weight="normal" fill="#1a1a1a" stroke="#1a1a1a" stroke-width="0.12" >60</text>
<line x1="167.2" y1="555.12" x2="168.9" y2="555.12" stroke="#1a1a1a" stroke-width="0.8" />
<line x1="167.2" y1="551.78" x2="168.9" y2="551.78" stroke="#1a1a1a" stroke-width="0.8" />
<line x1="167.2" y1="548.43" x2="168.9" y2="548.43" stroke="#1a1a1a" stroke-width="0.8" />
<line x1="165.9" y1="545.08" x2="168.9" y2="545.08" stroke="#1a1a1a" stroke-width="1" />
<text transform="translate(163.1,545.08) scale(0.98,1)" font-size="7.2" text-anchor="end" dominant-baseline="central" font-weight="normal" fill="#1a1a1a" stroke="#1a1a1a" stroke-width="0.12" >80</text>
<line x1="167.2" y1="541.74" x2="168.9" y2="541.74" stroke="#1a1a1a" stroke-width="0.8" />
<line x1="167.2" y1="538.39" x2="168.9" y2="538.39" stroke="#1a1a1a" stroke-width="0.8" />
<line x1="167.2" y1="535.05" x2="168.9" y2="535.05" stroke="#1a1a1a" stroke-width="0.8" />
<line x1="165.9" y1="531.7" x2="168.9" y2="531.7" stroke="#1a1a1a" stroke-width="1" />
<text transform="translate(163.1,531.7) scale(0.98,1)" font-size="7.2" text-anchor="end" dominant-baseline="central" font-weight="normal" fill="#1a1a1a" stroke="#1a1a1a" stroke-width="0.12" >100</text>
<line x1="168.2" y1="612" x2="252.4" y2="612" stroke="#1a1a1a" stroke-width="1.4" />
<line x1="168.9" y1="612" x2="168.9" y2="614.6" stroke="#1a1a1a" stroke-width="1" />
<text transform="translate(168.9,622.3)" font-size="7.9" text-anchor="middle" dominant-baseline="central" font-weight="normal" fill="#1a1a1a" stroke="#1a1a1a" stroke-width="0.12" >-3</text>
<line x1="170.87" y1="612" x2="170.87" y2="613.6" stroke="#1a1a1a" stroke-width="0.8" />
<line x1="172.83" y1="612" x2="172.83" y2="613.6" stroke="#1a1a1a" stroke-width="0.8" />
<line x1="174.8" y1="612" x2="174.8" y2="613.6" stroke="#1a1a1a" stroke-width="0.8" />
<line x1="176.77" y1="612" x2="176.77" y2="613.6" stroke="#1a1a1a" stroke-width="0.8" />
<line x1="178.73" y1="612" x2="178.73" y2="613.6" stroke="#1a1a1a" stroke-width="0.8" />
<line x1="180.7" y1="612" x2="180.7" y2="614.6" stroke="#1a1a1a" stroke-width="1" />
<text transform="translate(180.7,622.3)" font-size="7.9" text-anchor="middle" dominant-baseline="central" font-weight="normal" fill="#1a1a1a" stroke="#1a1a1a" stroke-width="0.12" >-2</text>
<line x1="182.67" y1="612" x2="182.67" y2="613.6" stroke="#1a1a1a" stroke-width="0.8" />
<line x1="184.63" y1="612" x2="184.63" y2="613.6" stroke="#1a1a1a" stroke-width="0.8" />
<line x1="186.6" y1="612" x2="186.6" y2="613.6" stroke="#1a1a1a" stroke-width="0.8" />
<line x1="188.57" y1="612" x2="188.57" y2="613.6" stroke="#1a1a1a" stroke-width="0.8" />
<line x1="190.53" y1="612" x2="190.53" y2="613.6" stroke="#1a1a1a" stroke-width="0.8" />
<line x1="192.5" y1="612" x2="192.5" y2="614.6" stroke="#1a1a1a" stroke-width="1" />
<text transform="translate(192.5,622.3)" font-size="7.9" text-anchor="middle" dominant-baseline="central" font-weight="normal" fill="#1a1a1a" stroke="#1a1a1a" stroke-width="0.12" >-1</text>
<line x1="194.47" y1="612" x2="194.47" y2="613.6" stroke="#1a1a1a" stroke-width="0.8" />
<line x1="196.43" y1="612" x2="196.43" y2="613.6" stroke="#1a1a1a" stroke-width="0.8" />
<line x1="198.4" y1="612" x2="198.4" y2="613.6" stroke="#1a1a1a" stroke-width="0.8" />
<line x1="200.37" y1="612" x2="200.37" y2="613.6" stroke="#1a1a1a" stroke-width="0.8" />
<line x1="202.33" y1="612" x2="202.33" y2="613.6" stroke="#1a1a1a" stroke-width="0.8" />
<line x1="204.3" y1="612" x2="204.3" y2="614.6" stroke="#1a1a1a" stroke-width="1" />
<text transform="translate(204.3,622.3)" font-size="7.9" text-anchor="middle" dominant-baseline="central" font-weight="normal" fill="#1a1a1a" stroke="#1a1a1a" stroke-width="0.12" >0</text>
<line x1="206.27" y1="612" x2="206.27" y2="613.6" stroke="#1a1a1a" stroke-width="0.8" />
<line x1="208.23" y1="612" x2="208.23" y2="613.6" stroke="#1a1a1a" stroke-width="0.8" />
<line x1="210.2" y1="612" x2="210.2" y2="613.6" stroke="#1a1a1a" stroke-width="0.8" />
<line x1="212.17" y1="612" x2="212.17" y2="613.6" stroke="#1a1a1a" stroke-width="0.8" />
<line x1="214.13" y1="612" x2="214.13" y2="613.6" stroke="#1a1a1a" stroke-width="0.8" />
<line x1="216.1" y1="612" x2="216.1" y2="614.6" stroke="#1a1a1a" stroke-width="1" />
<text transform="translate(216.1,622.3)" font-size="7.9" text-anchor="middle" dominant-baseline="central" font-weight="normal" fill="#1a1a1a" stroke="#1a1a1a" stroke-width="0.12" >1</text>
<line x1="218.07" y1="612" x2="218.07" y2="613.6" stroke="#1a1a1a" stroke-width="0.8" />
<line x1="220.03" y1="612" x2="220.03" y2="613.6" stroke="#1a1a1a" stroke-width="0.8" />
<line x1="222" y1="612" x2="222" y2="613.6" stroke="#1a1a1a" stroke-width="0.8" />
<line x1="223.97" y1="612" x2="223.97" y2="613.6" stroke="#1a1a1a" stroke-width="0.8" />
<line x1="225.93" y1="612" x2="225.93" y2="613.6" stroke="#1a1a1a" stroke-width="0.8" />
<line x1="227.9" y1="612" x2="227.9" y2="614.6" stroke="#1a1a1a" stroke-width="1" />
<text transform="translate(227.9,622.3)" font-size="7.9" text-anchor="middle" dominant-baseline="central" font-weight="normal" fill="#1a1a1a" stroke="#1a1a1a" stroke-width="0.12" >2</text>
<line x1="229.87" y1="612" x2="229.87" y2="613.6" stroke="#1a1a1a" stroke-width="0.8" />
<line x1="231.83" y1="612" x2="231.83" y2="613.6" stroke="#1a1a1a" stroke-width="0.8" />
<line x1="233.8" y1="612" x2="233.8" y2="613.6" stroke="#1a1a1a" stroke-width="0.8" />
<line x1="235.77" y1="612" x2="235.77" y2="613.6" stroke="#1a1a1a" stroke-width="0.8" />
<line x1="237.73" y1="612" x2="237.73" y2="613.6" stroke="#1a1a1a" stroke-width="0.8" />
<line x1="239.7" y1="612" x2="239.7" y2="614.6" stroke="#1a1a1a" stroke-width="1" />
<text transform="translate(239.7,622.3)" font-size="7.9" text-anchor="middle" dominant-baseline="central" font-weight="normal" fill="#1a1a1a" stroke="#1a1a1a" stroke-width="0.12" >3</text>
<line x1="241.67" y1="612" x2="241.67" y2="613.6" stroke="#1a1a1a" stroke-width="0.8" />
<line x1="243.63" y1="612" x2="243.63" y2="613.6" stroke="#1a1a1a" stroke-width="0.8" />
<line x1="245.6" y1="612" x2="245.6" y2="613.6" stroke="#1a1a1a" stroke-width="0.8" />
<line x1="247.57" y1="612" x2="247.57" y2="613.6" stroke="#1a1a1a" stroke-width="0.8" />
<line x1="249.53" y1="612" x2="249.53" y2="613.6" stroke="#1a1a1a" stroke-width="0.8" />
<line x1="251.5" y1="612" x2="251.5" y2="614.6" stroke="#1a1a1a" stroke-width="1" />
<text transform="translate(251.5,622.3)" font-size="7.9" text-anchor="middle" dominant-baseline="central" font-weight="normal" fill="#1a1a1a" stroke="#1a1a1a" stroke-width="0.12" >4</text>
<text transform="translate(212.9,635.3) scale(0.68,1)" font-size="8.8" text-anchor="middle" dominant-baseline="central" font-weight="normal" fill="#1a1a1a" stroke="#1a1a1a" stroke-width="0.18" letter-spacing="0.5">Log [AMG 701] (pM)</text>
<text transform="translate(141.2,569.85) rotate(-90) scale(0.77,1)" font-size="8.9" text-anchor="middle" dominant-baseline="central" font-weight="normal" fill="#1a1a1a" stroke="#1a1a1a" stroke-width="0.18" >Specific cytotoxicity (%)</text>
<line x1="169.9" y1="598.62" x2="252.5" y2="598.62" stroke="#a8b0c0" stroke-width="0.8" stroke-dasharray="1.6,1.4"/>
<polyline points="177.28,601.96 177.9,601.96 178.52,601.96 179.13,601.96 179.75,601.96 180.37,601.96 180.99,601.96 181.61,601.96 182.23,601.96 182.84,601.96 183.46,601.96 184.08,601.96 184.7,601.96 185.32,601.96 185.94,601.96 186.56,601.96 187.17,601.96 187.79,601.96 188.41,601.96 189.03,601.96 189.65,601.96 190.27,601.96 190.89,601.96 191.5,601.96 192.12,601.96 192.74,601.96 193.36,601.96 193.98,601.96 194.6,601.96 195.21,601.96 195.83,601.96 196.45,601.96 197.07,601.96 197.69,601.96 198.31,601.96 198.93,601.96 199.54,601.96 200.16,601.96 200.78,601.96 201.4,601.96 202.02,601.96 202.64,601.96 203.26,601.96 203.87,601.96 204.49,601.96 205.11,601.96 205.73,601.96 206.35,601.96 206.97,601.96 207.59,601.96 208.2,601.96 208.82,601.96 209.44,601.96 210.06,601.96 210.68,601.96 211.3,601.96 211.91,601.96 212.53,601.96 213.15,601.96 213.77,601.96 214.39,601.96 215.01,601.96 215.63,601.95 216.24,601.95 216.86,601.95 217.48,601.94 218.1,601.93 218.72,601.92 219.34,601.91 219.96,601.89 220.57,601.86 221.19,601.82 221.81,601.78 222.43,601.71 223.05,601.62 223.67,601.5 224.29,601.34 224.9,601.13 225.52,600.84 226.14,600.45 226.76,599.94 227.38,599.25 228,598.35 228.61,597.17 229.23,595.65 229.85,593.71 230.47,591.28 231.09,588.31 231.71,584.77 232.33,580.7 232.94,576.18 233.56,571.38 234.18,566.5 234.8,561.74 235.42,557.32 236.04,553.37 236.66,549.97 237.27,547.12 237.89,544.81 238.51,542.98 239.13,541.54 239.75,540.43 240.37,539.59 240.99,538.95 241.6,538.46 242.22,538.1 242.84,537.83 243.46,537.63 244.08,537.48 244.7,537.37 245.31,537.29 245.93,537.23 246.55,537.18 247.17,537.15 247.79,537.12 248.41,537.11 249.03,537.09 249.64,537.08 250.26,537.07 250.88,537.07 251.5,537.06" fill="none" stroke="#a09bd4" stroke-width="0.95"/>
<line x1="177.28" y1="603.97" x2="177.28" y2="575.2" stroke="#a09bd4" stroke-width="0.9" />
<line x1="175.88" y1="603.97" x2="178.68" y2="603.97" stroke="#a09bd4" stroke-width="0.9" />
<line x1="175.88" y1="575.2" x2="178.68" y2="575.2" stroke="#a09bd4" stroke-width="0.9" />
<line x1="193.8" y1="609.99" x2="193.8" y2="604.64" stroke="#a09bd4" stroke-width="0.9" />
<line x1="192.4" y1="609.99" x2="195.2" y2="609.99" stroke="#a09bd4" stroke-width="0.9" />
<line x1="192.4" y1="604.64" x2="195.2" y2="604.64" stroke="#a09bd4" stroke-width="0.9" />
<line x1="210.2" y1="606.65" x2="210.2" y2="600.62" stroke="#a09bd4" stroke-width="0.9" />
<line x1="208.8" y1="606.65" x2="211.6" y2="606.65" stroke="#a09bd4" stroke-width="0.9" />
<line x1="208.8" y1="600.62" x2="211.6" y2="600.62" stroke="#a09bd4" stroke-width="0.9" />
<line x1="218.46" y1="606.65" x2="218.46" y2="600.62" stroke="#a09bd4" stroke-width="0.9" />
<line x1="217.06" y1="606.65" x2="219.86" y2="606.65" stroke="#a09bd4" stroke-width="0.9" />
<line x1="217.06" y1="600.62" x2="219.86" y2="600.62" stroke="#a09bd4" stroke-width="0.9" />
<line x1="234.98" y1="571.85" x2="234.98" y2="557.13" stroke="#a09bd4" stroke-width="0.9" />
<line x1="233.58" y1="571.85" x2="236.38" y2="571.85" stroke="#a09bd4" stroke-width="0.9" />
<line x1="233.58" y1="557.13" x2="236.38" y2="557.13" stroke="#a09bd4" stroke-width="0.9" />
<line x1="243.24" y1="548.43" x2="243.24" y2="533.71" stroke="#a09bd4" stroke-width="0.9" />
<line x1="241.84" y1="548.43" x2="244.64" y2="548.43" stroke="#a09bd4" stroke-width="0.9" />
<line x1="241.84" y1="533.71" x2="244.64" y2="533.71" stroke="#a09bd4" stroke-width="0.9" />
<line x1="251.5" y1="539.06" x2="251.5" y2="535.05" stroke="#a09bd4" stroke-width="0.9" />
<line x1="250.1" y1="539.06" x2="252.9" y2="539.06" stroke="#a09bd4" stroke-width="0.9" />
<line x1="250.1" y1="535.05" x2="252.9" y2="535.05" stroke="#a09bd4" stroke-width="0.9" />
<path d="M177.27 589.17L178.87 591.97L175.67 591.97Z" fill="#fff" stroke="#8a84c8" stroke-width="0.6"/>
<path d="M185.51 600.82L187.11 603.62L183.91 603.62Z" fill="#fff" stroke="#8a84c8" stroke-width="0.6"/>
<path d="M193.76 605.97L195.36 608.77L192.16 608.77Z" fill="#fff" stroke="#8a84c8" stroke-width="0.6"/>
<path d="M202.01 602.56L203.61 605.36L200.41 605.36Z" fill="#fff" stroke="#8a84c8" stroke-width="0.6"/>
<path d="M210.26 601.62L211.86 604.42L208.66 604.42Z" fill="#fff" stroke="#8a84c8" stroke-width="0.6"/>
<path d="M218.51 601.62L220.11 604.42L216.91 604.42Z" fill="#fff" stroke="#8a84c8" stroke-width="0.6"/>
<path d="M226.76 594.8L228.36 597.6L225.16 597.6Z" fill="#fff" stroke="#8a84c8" stroke-width="0.6"/>
<path d="M235 562.81L236.6 565.61L233.4 565.61Z" fill="#fff" stroke="#8a84c8" stroke-width="0.6"/>
<path d="M243.25 539.39L244.85 542.19L241.65 542.19Z" fill="#fff" stroke="#8a84c8" stroke-width="0.6"/>
<path d="M251.5 535.37L253.1 538.17L249.9 538.17Z" fill="#fff" stroke="#8a84c8" stroke-width="0.6"/>
<polyline points="177.28,601.63 177.9,601.63 178.52,601.63 179.13,601.63 179.75,601.63 180.37,601.63 180.99,601.63 181.61,601.63 182.23,601.63 182.84,601.63 183.46,601.63 184.08,601.63 184.7,601.63 185.32,601.63 185.94,601.63 186.56,601.63 187.17,601.63 187.79,601.63 188.41,601.63 189.03,601.63 189.65,601.63 190.27,601.63 190.89,601.63 191.5,601.63 192.12,601.63 192.74,601.63 193.36,601.63 193.98,601.63 194.6,601.63 195.21,601.63 195.83,601.63 196.45,601.63 197.07,601.63 197.69,601.63 198.31,601.63 198.93,601.63 199.54,601.63 200.16,601.63 200.78,601.63 201.4,601.63 202.02,601.63 202.64,601.63 203.26,601.63 203.87,601.63 204.49,601.63 205.11,601.63 205.73,601.63 206.35,601.63 206.97,601.63 207.59,601.63 208.2,601.63 208.82,601.63 209.44,601.63 210.06,601.63 210.68,601.63 211.3,601.62 211.91,601.62 212.53,601.62 213.15,601.62 213.77,601.61 214.39,601.6 215.01,601.59 215.63,601.58 216.24,601.56 216.86,601.53 217.48,601.48 218.1,601.42 218.72,601.33 219.34,601.2 219.96,601.02 220.57,600.75 221.19,600.38 221.81,599.85 222.43,599.1 223.05,598.06 223.67,596.63 224.29,594.68 224.9,592.1 225.52,588.77 226.14,584.64 226.76,579.74 227.38,574.24 228,568.43 228.61,562.68 229.23,557.34 229.85,552.67 230.47,548.79 231.09,545.7 231.71,543.33 232.33,541.56 232.94,540.26 233.56,539.32 234.18,538.65 234.8,538.17 235.42,537.84 236.04,537.6 236.66,537.43 237.27,537.32 237.89,537.24 238.51,537.18 239.13,537.14 239.75,537.12 240.37,537.1 240.99,537.08 241.6,537.07 242.22,537.07 242.84,537.06 243.46,537.06 244.08,537.06 244.7,537.06 245.31,537.06 245.93,537.06 246.55,537.05 247.17,537.05 247.79,537.05 248.41,537.05 249.03,537.05 249.64,537.05 250.26,537.05 250.88,537.05 251.5,537.05" fill="none" stroke="#d8308a" stroke-width="0.95"/>
<line x1="202.06" y1="605.31" x2="202.06" y2="598.62" stroke="#d8308a" stroke-width="0.9" />
<line x1="200.66" y1="605.31" x2="203.46" y2="605.31" stroke="#d8308a" stroke-width="0.9" />
<line x1="200.66" y1="598.62" x2="203.46" y2="598.62" stroke="#d8308a" stroke-width="0.9" />
<line x1="210.2" y1="606.65" x2="210.2" y2="601.29" stroke="#d8308a" stroke-width="0.9" />
<line x1="208.8" y1="606.65" x2="211.6" y2="606.65" stroke="#d8308a" stroke-width="0.9" />
<line x1="208.8" y1="601.29" x2="211.6" y2="601.29" stroke="#d8308a" stroke-width="0.9" />
<line x1="234.98" y1="543.75" x2="234.98" y2="533.71" stroke="#d8308a" stroke-width="0.9" />
<line x1="233.58" y1="543.75" x2="236.38" y2="543.75" stroke="#d8308a" stroke-width="0.9" />
<line x1="233.58" y1="533.71" x2="236.38" y2="533.71" stroke="#d8308a" stroke-width="0.9" />
<line x1="226.72" y1="589.25" x2="226.72" y2="584.56" stroke="#d8308a" stroke-width="0.9" />
<line x1="225.32" y1="589.25" x2="228.12" y2="589.25" stroke="#d8308a" stroke-width="0.9" />
<line x1="225.32" y1="584.56" x2="228.12" y2="584.56" stroke="#d8308a" stroke-width="0.9" />
<path d="M177.27 599.95L178.87 602.75L175.67 602.75Z" fill="#c8106e" stroke="#c8106e" stroke-width="0.6"/>
<path d="M185.51 600.82L187.11 603.62L183.91 603.62Z" fill="#c8106e" stroke="#c8106e" stroke-width="0.6"/>
<path d="M193.76 601.62L195.36 604.42L192.16 604.42Z" fill="#c8106e" stroke="#c8106e" stroke-width="0.6"/>
<path d="M202.01 601.62L203.61 604.42L200.41 604.42Z" fill="#c8106e" stroke="#c8106e" stroke-width="0.6"/>
<path d="M210.26 602.56L211.86 605.36L208.66 605.36Z" fill="#c8106e" stroke="#c8106e" stroke-width="0.6"/>
<path d="M218.51 599.95L220.11 602.75L216.91 602.75Z" fill="#c8106e" stroke="#c8106e" stroke-width="0.6"/>
<path d="M226.76 585.29L228.36 588.09L225.16 588.09Z" fill="#c8106e" stroke="#c8106e" stroke-width="0.6"/>
<path d="M235 538.72L236.6 541.52L233.4 541.52Z" fill="#c8106e" stroke="#c8106e" stroke-width="0.6"/>
<path d="M243.25 536.04L244.85 538.84L241.65 538.84Z" fill="#c8106e" stroke="#c8106e" stroke-width="0.6"/>
<path d="M251.5 532.7L253.1 535.5L249.9 535.5Z" fill="#c8106e" stroke="#c8106e" stroke-width="0.6"/>
<line x1="174.1" y1="539.2" x2="188.7" y2="539.2" stroke="#d8308a" stroke-width="1.3" />
<path d="M181.4 537.06L183.25 540.29L179.55 540.29Z" fill="#c8106e" stroke="#c8106e" stroke-width="0.6"/>
<text transform="translate(192.2,539.2) scale(0.9,1)" font-size="8" text-anchor="start" dominant-baseline="central" font-weight="normal" fill="#1a1a1a" stroke="#1a1a1a" stroke-width="0.05" >&#945;PD-1</text>
<line x1="174.1" y1="549.7" x2="188.7" y2="549.7" stroke="#a09bd4" stroke-width="1.3" />
<path d="M181.4 547.5L183.3 550.83L179.5 550.83Z" fill="#fff" stroke="#8a84c8" stroke-width="0.6"/>
<text transform="translate(192.2,549.7) scale(0.87,1)" font-size="8" text-anchor="start" dominant-baseline="central" font-weight="normal" fill="#1a1a1a" stroke="#1a1a1a" stroke-width="0.05" >Control</text>
<text transform="translate(274,517.6)" font-size="10.5" text-anchor="middle" dominant-baseline="central" font-weight="bold" fill="#000" stroke="#000" stroke-width="0" >E</text>
<line x1="299.3" y1="529.4" x2="299.3" y2="612.3" stroke="#1a1a1a" stroke-width="1.4" />
<line x1="296.3" y1="612.3" x2="299.3" y2="612.3" stroke="#1a1a1a" stroke-width="1" />
<text transform="translate(293.5,612.3) scale(0.98,1)" font-size="7.2" text-anchor="end" dominant-baseline="central" font-weight="normal" fill="#1a1a1a" stroke="#1a1a1a" stroke-width="0.12" >0</text>
<line x1="297.6" y1="607.28" x2="299.3" y2="607.28" stroke="#1a1a1a" stroke-width="0.8" />
<line x1="297.6" y1="602.26" x2="299.3" y2="602.26" stroke="#1a1a1a" stroke-width="0.8" />
<line x1="297.6" y1="597.24" x2="299.3" y2="597.24" stroke="#1a1a1a" stroke-width="0.8" />
<line x1="296.3" y1="592.22" x2="299.3" y2="592.22" stroke="#1a1a1a" stroke-width="1" />
<text transform="translate(293.5,592.22) scale(0.98,1)" font-size="7.2" text-anchor="end" dominant-baseline="central" font-weight="normal" fill="#1a1a1a" stroke="#1a1a1a" stroke-width="0.12" >200</text>
<line x1="297.6" y1="587.21" x2="299.3" y2="587.21" stroke="#1a1a1a" stroke-width="0.8" />
<line x1="297.6" y1="582.19" x2="299.3" y2="582.19" stroke="#1a1a1a" stroke-width="0.8" />
<line x1="297.6" y1="577.17" x2="299.3" y2="577.17" stroke="#1a1a1a" stroke-width="0.8" />
<line x1="296.3" y1="572.15" x2="299.3" y2="572.15" stroke="#1a1a1a" stroke-width="1" />
<text transform="translate(293.5,572.15) scale(0.98,1)" font-size="7.2" text-anchor="end" dominant-baseline="central" font-weight="normal" fill="#1a1a1a" stroke="#1a1a1a" stroke-width="0.12" >400</text>
<line x1="297.6" y1="567.13" x2="299.3" y2="567.13" stroke="#1a1a1a" stroke-width="0.8" />
<line x1="297.6" y1="562.11" x2="299.3" y2="562.11" stroke="#1a1a1a" stroke-width="0.8" />
<line x1="297.6" y1="557.09" x2="299.3" y2="557.09" stroke="#1a1a1a" stroke-width="0.8" />
<line x1="296.3" y1="552.08" x2="299.3" y2="552.08" stroke="#1a1a1a" stroke-width="1" />
<text transform="translate(293.5,552.08) scale(0.98,1)" font-size="7.2" text-anchor="end" dominant-baseline="central" font-weight="normal" fill="#1a1a1a" stroke="#1a1a1a" stroke-width="0.12" >600</text>
<line x1="297.6" y1="547.06" x2="299.3" y2="547.06" stroke="#1a1a1a" stroke-width="0.8" />
<line x1="297.6" y1="542.04" x2="299.3" y2="542.04" stroke="#1a1a1a" stroke-width="0.8" />
<line x1="297.6" y1="537.02" x2="299.3" y2="537.02" stroke="#1a1a1a" stroke-width="0.8" />
<line x1="296.3" y1="532" x2="299.3" y2="532" stroke="#1a1a1a" stroke-width="1" />
<text transform="translate(293.5,532) scale(0.98,1)" font-size="7.2" text-anchor="end" dominant-baseline="central" font-weight="normal" fill="#1a1a1a" stroke="#1a1a1a" stroke-width="0.12" >800</text>
<line x1="298.6" y1="612.3" x2="382.1" y2="612.3" stroke="#1a1a1a" stroke-width="1.4" />
<line x1="299.3" y1="612.3" x2="299.3" y2="614.9" stroke="#1a1a1a" stroke-width="1" />
<text transform="translate(299.3,622.6)" font-size="7.9" text-anchor="middle" dominant-baseline="central" font-weight="normal" fill="#1a1a1a" stroke="#1a1a1a" stroke-width="0.12" >-3</text>
<line x1="301.25" y1="612.3" x2="301.25" y2="613.9" stroke="#1a1a1a" stroke-width="0.8" />
<line x1="303.2" y1="612.3" x2="303.2" y2="613.9" stroke="#1a1a1a" stroke-width="0.8" />
<line x1="305.15" y1="612.3" x2="305.15" y2="613.9" stroke="#1a1a1a" stroke-width="0.8" />
<line x1="307.1" y1="612.3" x2="307.1" y2="613.9" stroke="#1a1a1a" stroke-width="0.8" />
<line x1="309.05" y1="612.3" x2="309.05" y2="613.9" stroke="#1a1a1a" stroke-width="0.8" />
<line x1="311" y1="612.3" x2="311" y2="614.9" stroke="#1a1a1a" stroke-width="1" />
<text transform="translate(311,622.6)" font-size="7.9" text-anchor="middle" dominant-baseline="central" font-weight="normal" fill="#1a1a1a" stroke="#1a1a1a" stroke-width="0.12" >-2</text>
<line x1="312.95" y1="612.3" x2="312.95" y2="613.9" stroke="#1a1a1a" stroke-width="0.8" />
<line x1="314.9" y1="612.3" x2="314.9" y2="613.9" stroke="#1a1a1a" stroke-width="0.8" />
<line x1="316.85" y1="612.3" x2="316.85" y2="613.9" stroke="#1a1a1a" stroke-width="0.8" />
<line x1="318.8" y1="612.3" x2="318.8" y2="613.9" stroke="#1a1a1a" stroke-width="0.8" />
<line x1="320.75" y1="612.3" x2="320.75" y2="613.9" stroke="#1a1a1a" stroke-width="0.8" />
<line x1="322.7" y1="612.3" x2="322.7" y2="614.9" stroke="#1a1a1a" stroke-width="1" />
<text transform="translate(322.7,622.6)" font-size="7.9" text-anchor="middle" dominant-baseline="central" font-weight="normal" fill="#1a1a1a" stroke="#1a1a1a" stroke-width="0.12" >-1</text>
<line x1="324.65" y1="612.3" x2="324.65" y2="613.9" stroke="#1a1a1a" stroke-width="0.8" />
<line x1="326.6" y1="612.3" x2="326.6" y2="613.9" stroke="#1a1a1a" stroke-width="0.8" />
<line x1="328.55" y1="612.3" x2="328.55" y2="613.9" stroke="#1a1a1a" stroke-width="0.8" />
<line x1="330.5" y1="612.3" x2="330.5" y2="613.9" stroke="#1a1a1a" stroke-width="0.8" />
<line x1="332.45" y1="612.3" x2="332.45" y2="613.9" stroke="#1a1a1a" stroke-width="0.8" />
<line x1="334.4" y1="612.3" x2="334.4" y2="614.9" stroke="#1a1a1a" stroke-width="1" />
<text transform="translate(334.4,622.6)" font-size="7.9" text-anchor="middle" dominant-baseline="central" font-weight="normal" fill="#1a1a1a" stroke="#1a1a1a" stroke-width="0.12" >0</text>
<line x1="336.35" y1="612.3" x2="336.35" y2="613.9" stroke="#1a1a1a" stroke-width="0.8" />
<line x1="338.3" y1="612.3" x2="338.3" y2="613.9" stroke="#1a1a1a" stroke-width="0.8" />
<line x1="340.25" y1="612.3" x2="340.25" y2="613.9" stroke="#1a1a1a" stroke-width="0.8" />
<line x1="342.2" y1="612.3" x2="342.2" y2="613.9" stroke="#1a1a1a" stroke-width="0.8" />
<line x1="344.15" y1="612.3" x2="344.15" y2="613.9" stroke="#1a1a1a" stroke-width="0.8" />
<line x1="346.1" y1="612.3" x2="346.1" y2="614.9" stroke="#1a1a1a" stroke-width="1" />
<text transform="translate(346.1,622.6)" font-size="7.9" text-anchor="middle" dominant-baseline="central" font-weight="normal" fill="#1a1a1a" stroke="#1a1a1a" stroke-width="0.12" >1</text>
<line x1="348.05" y1="612.3" x2="348.05" y2="613.9" stroke="#1a1a1a" stroke-width="0.8" />
<line x1="350" y1="612.3" x2="350" y2="613.9" stroke="#1a1a1a" stroke-width="0.8" />
<line x1="351.95" y1="612.3" x2="351.95" y2="613.9" stroke="#1a1a1a" stroke-width="0.8" />
<line x1="353.9" y1="612.3" x2="353.9" y2="613.9" stroke="#1a1a1a" stroke-width="0.8" />
<line x1="355.85" y1="612.3" x2="355.85" y2="613.9" stroke="#1a1a1a" stroke-width="0.8" />
<line x1="357.8" y1="612.3" x2="357.8" y2="614.9" stroke="#1a1a1a" stroke-width="1" />
<text transform="translate(357.8,622.6)" font-size="7.9" text-anchor="middle" dominant-baseline="central" font-weight="normal" fill="#1a1a1a" stroke="#1a1a1a" stroke-width="0.12" >2</text>
<line x1="359.75" y1="612.3" x2="359.75" y2="613.9" stroke="#1a1a1a" stroke-width="0.8" />
<line x1="361.7" y1="612.3" x2="361.7" y2="613.9" stroke="#1a1a1a" stroke-width="0.8" />
<line x1="363.65" y1="612.3" x2="363.65" y2="613.9" stroke="#1a1a1a" stroke-width="0.8" />
<line x1="365.6" y1="612.3" x2="365.6" y2="613.9" stroke="#1a1a1a" stroke-width="0.8" />
<line x1="367.55" y1="612.3" x2="367.55" y2="613.9" stroke="#1a1a1a" stroke-width="0.8" />
<line x1="369.5" y1="612.3" x2="369.5" y2="614.9" stroke="#1a1a1a" stroke-width="1" />
<text transform="translate(369.5,622.6)" font-size="7.9" text-anchor="middle" dominant-baseline="central" font-weight="normal" fill="#1a1a1a" stroke="#1a1a1a" stroke-width="0.12" >3</text>
<line x1="371.45" y1="612.3" x2="371.45" y2="613.9" stroke="#1a1a1a" stroke-width="0.8" />
<line x1="373.4" y1="612.3" x2="373.4" y2="613.9" stroke="#1a1a1a" stroke-width="0.8" />
<line x1="375.35" y1="612.3" x2="375.35" y2="613.9" stroke="#1a1a1a" stroke-width="0.8" />
<line x1="377.3" y1="612.3" x2="377.3" y2="613.9" stroke="#1a1a1a" stroke-width="0.8" />
<line x1="379.25" y1="612.3" x2="379.25" y2="613.9" stroke="#1a1a1a" stroke-width="0.8" />
<line x1="381.2" y1="612.3" x2="381.2" y2="614.9" stroke="#1a1a1a" stroke-width="1" />
<text transform="translate(381.2,622.6)" font-size="7.9" text-anchor="middle" dominant-baseline="central" font-weight="normal" fill="#1a1a1a" stroke="#1a1a1a" stroke-width="0.12" >4</text>
<text transform="translate(343.3,635.6) scale(0.68,1)" font-size="8.8" text-anchor="middle" dominant-baseline="central" font-weight="normal" fill="#1a1a1a" stroke="#1a1a1a" stroke-width="0.18" letter-spacing="0.5">Log [AMG 701] (pM)</text>
<text transform="translate(272,570.15) rotate(-90) scale(0.8,1)" font-size="8.9" text-anchor="middle" dominant-baseline="central" font-weight="normal" fill="#1a1a1a" stroke="#1a1a1a" stroke-width="0.18" >[IFN&#947;] (pg/mL)</text>
<polyline points="307.61,612.3 308.22,612.3 308.83,612.3 309.45,612.3 310.06,612.3 310.67,612.3 311.29,612.3 311.9,612.3 312.51,612.3 313.13,612.3 313.74,612.3 314.35,612.3 314.97,612.3 315.58,612.3 316.19,612.3 316.81,612.3 317.42,612.3 318.03,612.3 318.65,612.3 319.26,612.3 319.87,612.3 320.49,612.3 321.1,612.3 321.71,612.3 322.33,612.3 322.94,612.3 323.55,612.3 324.17,612.3 324.78,612.3 325.39,612.3 326.01,612.3 326.62,612.3 327.23,612.3 327.85,612.3 328.46,612.3 329.07,612.3 329.68,612.3 330.3,612.3 330.91,612.29 331.52,612.29 332.14,612.29 332.75,612.29 333.36,612.29 333.98,612.29 334.59,612.29 335.2,612.28 335.82,612.28 336.43,612.28 337.04,612.28 337.66,612.27 338.27,612.27 338.88,612.26 339.5,612.25 340.11,612.25 340.72,612.24 341.34,612.23 341.95,612.21 342.56,612.2 343.18,612.18 343.79,612.16 344.4,612.14 345.02,612.11 345.63,612.08 346.24,612.04 346.86,612 347.47,611.95 348.08,611.89 348.7,611.82 349.31,611.74 349.92,611.64 350.54,611.53 351.15,611.41 351.76,611.26 352.38,611.08 352.99,610.88 353.6,610.65 354.22,610.38 354.83,610.07 355.44,609.72 356.06,609.3 356.67,608.83 357.28,608.29 357.9,607.68 358.51,606.98 359.12,606.2 359.74,605.31 360.35,604.33 360.96,603.23 361.58,602.03 362.19,600.71 362.8,599.29 363.42,597.76 364.03,596.14 364.64,594.43 365.25,592.66 365.87,590.84 366.48,588.99 367.09,587.15 367.71,585.32 368.32,583.53 368.93,581.8 369.55,580.15 370.16,578.59 370.77,577.13 371.39,575.78 372,574.54 372.61,573.42 373.23,572.4 373.84,571.48 374.45,570.67 375.07,569.95 375.68,569.31 376.29,568.75 376.91,568.26 377.52,567.83 378.13,567.45 378.75,567.13 379.36,566.85 379.97,566.61 380.59,566.4 381.2,566.22" fill="none" stroke="#f2b918" stroke-width="0.95"/>
<line x1="373.01" y1="576.16" x2="373.01" y2="560.11" stroke="#f2b918" stroke-width="0.9" />
<line x1="371.61" y1="576.16" x2="374.41" y2="576.16" stroke="#f2b918" stroke-width="0.9" />
<line x1="371.61" y1="560.11" x2="374.41" y2="560.11" stroke="#f2b918" stroke-width="0.9" />
<line x1="381.2" y1="571.15" x2="381.2" y2="562.11" stroke="#f2b918" stroke-width="0.9" />
<line x1="379.8" y1="571.15" x2="382.6" y2="571.15" stroke="#f2b918" stroke-width="0.9" />
<line x1="379.8" y1="562.11" x2="382.6" y2="562.11" stroke="#f2b918" stroke-width="0.9" />
<path d="M307.6 610.62L309.2 613.42L306 613.42Z" fill="#fff" stroke="#e8ac00" stroke-width="0.6"/>
<path d="M315.77 610.62L317.37 613.42L314.17 613.42Z" fill="#fff" stroke="#e8ac00" stroke-width="0.6"/>
<path d="M323.95 610.62L325.55 613.42L322.35 613.42Z" fill="#fff" stroke="#e8ac00" stroke-width="0.6"/>
<path d="M332.13 610.62L333.73 613.42L330.53 613.42Z" fill="#fff" stroke="#e8ac00" stroke-width="0.6"/>
<path d="M340.31 610.62L341.91 613.42L338.71 613.42Z" fill="#fff" stroke="#e8ac00" stroke-width="0.6"/>
<path d="M348.49 610.32L350.09 613.12L346.89 613.12Z" fill="#fff" stroke="#e8ac00" stroke-width="0.6"/>
<path d="M356.67 604.2L358.27 607L355.07 607Z" fill="#fff" stroke="#e8ac00" stroke-width="0.6"/>
<path d="M364.84 589.84L366.44 592.64L363.24 592.64Z" fill="#fff" stroke="#e8ac00" stroke-width="0.6"/>
<path d="M373.02 567.36L374.62 570.16L371.42 570.16Z" fill="#fff" stroke="#e8ac00" stroke-width="0.6"/>
<path d="M381.2 564.75L382.8 567.55L379.6 567.55Z" fill="#fff" stroke="#e8ac00" stroke-width="0.6"/>
<polyline points="307.61,612.3 308.22,612.3 308.83,612.3 309.45,612.3 310.06,612.3 310.67,612.3 311.29,612.3 311.9,612.3 312.51,612.3 313.13,612.3 313.74,612.3 314.35,612.3 314.97,612.3 315.58,612.3 316.19,612.3 316.81,612.3 317.42,612.3 318.03,612.3 318.65,612.3 319.26,612.3 319.87,612.3 320.49,612.3 321.1,612.3 321.71,612.3 322.33,612.3 322.94,612.3 323.55,612.3 324.17,612.3 324.78,612.3 325.39,612.3 326.01,612.3 326.62,612.3 327.23,612.3 327.85,612.3 328.46,612.3 329.07,612.3 329.68,612.3 330.3,612.3 330.91,612.29 331.52,612.29 332.14,612.29 332.75,612.29 333.36,612.29 333.98,612.29 334.59,612.28 335.2,612.28 335.82,612.28 336.43,612.27 337.04,612.27 337.66,612.26 338.27,612.25 338.88,612.24 339.5,612.23 340.11,612.22 340.72,612.2 341.34,612.18 341.95,612.16 342.56,612.13 343.18,612.1 343.79,612.06 344.4,612.01 345.02,611.96 345.63,611.89 346.24,611.81 346.86,611.71 347.47,611.6 348.08,611.46 348.7,611.3 349.31,611.1 349.92,610.87 350.54,610.59 351.15,610.26 351.76,609.87 352.38,609.41 352.99,608.86 353.6,608.22 354.22,607.46 354.83,606.58 355.44,605.55 356.06,604.37 356.67,603 357.28,601.43 357.9,599.66 358.51,597.67 359.12,595.46 359.74,593.03 360.35,590.39 360.96,587.56 361.58,584.58 362.19,581.47 362.8,578.29 363.42,575.09 364.03,571.92 364.64,568.83 365.25,565.86 365.87,563.06 366.48,560.45 367.09,558.05 367.71,555.87 368.32,553.91 368.93,552.17 369.55,550.63 370.16,549.29 370.77,548.13 371.39,547.12 372,546.26 372.61,545.52 373.23,544.89 373.84,544.36 374.45,543.91 375.07,543.52 375.68,543.2 376.29,542.93 376.91,542.7 377.52,542.51 378.13,542.35 378.75,542.22 379.36,542.11 379.97,542.01 380.59,541.93 381.2,541.87" fill="none" stroke="#c08a58" stroke-width="0.95"/>
<line x1="373.01" y1="551.07" x2="373.01" y2="536.01" stroke="#c08a58" stroke-width="0.9" />
<line x1="371.61" y1="551.07" x2="374.41" y2="551.07" stroke="#c08a58" stroke-width="0.9" />
<line x1="371.61" y1="536.01" x2="374.41" y2="536.01" stroke="#c08a58" stroke-width="0.9" />
<line x1="381.2" y1="544.04" x2="381.2" y2="540.03" stroke="#c08a58" stroke-width="0.9" />
<line x1="379.8" y1="544.04" x2="382.6" y2="544.04" stroke="#c08a58" stroke-width="0.9" />
<line x1="379.8" y1="540.03" x2="382.6" y2="540.03" stroke="#c08a58" stroke-width="0.9" />
<path d="M307.6 610.62L309.2 613.42L306 613.42Z" fill="#9c5a1c" stroke="#9c5a1c" stroke-width="0.6"/>
<path d="M315.77 610.62L317.37 613.42L314.17 613.42Z" fill="#9c5a1c" stroke="#9c5a1c" stroke-width="0.6"/>
<path d="M323.95 610.62L325.55 613.42L322.35 613.42Z" fill="#9c5a1c" stroke="#9c5a1c" stroke-width="0.6"/>
<path d="M332.13 610.62L333.73 613.42L330.53 613.42Z" fill="#9c5a1c" stroke="#9c5a1c" stroke-width="0.6"/>
<path d="M340.31 610.62L341.91 613.42L338.71 613.42Z" fill="#9c5a1c" stroke="#9c5a1c" stroke-width="0.6"/>
<path d="M348.49 610.12L350.09 612.92L346.89 612.92Z" fill="#9c5a1c" stroke="#9c5a1c" stroke-width="0.6"/>
<path d="M356.67 597.97L358.27 600.77L355.07 600.77Z" fill="#9c5a1c" stroke="#9c5a1c" stroke-width="0.6"/>
<path d="M364.84 559.53L366.44 562.33L363.24 562.33Z" fill="#9c5a1c" stroke="#9c5a1c" stroke-width="0.6"/>
<path d="M373.02 540.56L374.62 543.36L371.42 543.36Z" fill="#9c5a1c" stroke="#9c5a1c" stroke-width="0.6"/>
<path d="M381.2 540.56L382.8 543.36L379.6 543.36Z" fill="#9c5a1c" stroke="#9c5a1c" stroke-width="0.6"/>
<line x1="305.3" y1="539.2" x2="319.9" y2="539.2" stroke="#c08a58" stroke-width="1.3" />
<path d="M312.6 537.06L314.45 540.29L310.75 540.29Z" fill="#9c5a1c" stroke="#9c5a1c" stroke-width="0.6"/>
<text transform="translate(323.4,539.2) scale(0.9,1)" font-size="8" text-anchor="start" dominant-baseline="central" font-weight="normal" fill="#1a1a1a" stroke="#1a1a1a" stroke-width="0.05" >&#945;PD-1</text>
<line x1="305.3" y1="549.7" x2="319.9" y2="549.7" stroke="#f2b918" stroke-width="1.3" />
<path d="M312.6 547.5L314.5 550.83L310.7 550.83Z" fill="#fff" stroke="#e8ac00" stroke-width="0.6"/>
<text transform="translate(323.4,549.7) scale(0.87,1)" font-size="8" text-anchor="start" dominant-baseline="central" font-weight="normal" fill="#1a1a1a" stroke="#1a1a1a" stroke-width="0.05" >Control</text>
<line x1="428.2" y1="529.4" x2="428.2" y2="612.3" stroke="#1a1a1a" stroke-width="1.4" />
<line x1="425.2" y1="612.3" x2="428.2" y2="612.3" stroke="#1a1a1a" stroke-width="1" />
<text transform="translate(422.4,612.3) scale(0.98,1)" font-size="7.2" text-anchor="end" dominant-baseline="central" font-weight="normal" fill="#1a1a1a" stroke="#1a1a1a" stroke-width="0.12" >0</text>
<line x1="426.5" y1="607.28" x2="428.2" y2="607.28" stroke="#1a1a1a" stroke-width="0.8" />
<line x1="426.5" y1="602.26" x2="428.2" y2="602.26" stroke="#1a1a1a" stroke-width="0.8" />
<line x1="426.5" y1="597.24" x2="428.2" y2="597.24" stroke="#1a1a1a" stroke-width="0.8" />
<line x1="425.2" y1="592.22" x2="428.2" y2="592.22" stroke="#1a1a1a" stroke-width="1" />
<text transform="translate(422.4,592.22) scale(0.98,1)" font-size="7.2" text-anchor="end" dominant-baseline="central" font-weight="normal" fill="#1a1a1a" stroke="#1a1a1a" stroke-width="0.12" >200</text>
<line x1="426.5" y1="587.21" x2="428.2" y2="587.21" stroke="#1a1a1a" stroke-width="0.8" />
<line x1="426.5" y1="582.19" x2="428.2" y2="582.19" stroke="#1a1a1a" stroke-width="0.8" />
<line x1="426.5" y1="577.17" x2="428.2" y2="577.17" stroke="#1a1a1a" stroke-width="0.8" />
<line x1="425.2" y1="572.15" x2="428.2" y2="572.15" stroke="#1a1a1a" stroke-width="1" />
<text transform="translate(422.4,572.15) scale(0.98,1)" font-size="7.2" text-anchor="end" dominant-baseline="central" font-weight="normal" fill="#1a1a1a" stroke="#1a1a1a" stroke-width="0.12" >400</text>
<line x1="426.5" y1="567.13" x2="428.2" y2="567.13" stroke="#1a1a1a" stroke-width="0.8" />
<line x1="426.5" y1="562.11" x2="428.2" y2="562.11" stroke="#1a1a1a" stroke-width="0.8" />
<line x1="426.5" y1="557.09" x2="428.2" y2="557.09" stroke="#1a1a1a" stroke-width="0.8" />
<line x1="425.2" y1="552.08" x2="428.2" y2="552.08" stroke="#1a1a1a" stroke-width="1" />
<text transform="translate(422.4,552.08) scale(0.98,1)" font-size="7.2" text-anchor="end" dominant-baseline="central" font-weight="normal" fill="#1a1a1a" stroke="#1a1a1a" stroke-width="0.12" >600</text>
<line x1="426.5" y1="547.06" x2="428.2" y2="547.06" stroke="#1a1a1a" stroke-width="0.8" />
<line x1="426.5" y1="542.04" x2="428.2" y2="542.04" stroke="#1a1a1a" stroke-width="0.8" />
<line x1="426.5" y1="537.02" x2="428.2" y2="537.02" stroke="#1a1a1a" stroke-width="0.8" />
<line x1="425.2" y1="532" x2="428.2" y2="532" stroke="#1a1a1a" stroke-width="1" />
<text transform="translate(422.4,532) scale(0.98,1)" font-size="7.2" text-anchor="end" dominant-baseline="central" font-weight="normal" fill="#1a1a1a" stroke="#1a1a1a" stroke-width="0.12" >800</text>
<line x1="427.5" y1="612.3" x2="511" y2="612.3" stroke="#1a1a1a" stroke-width="1.4" />
<line x1="428.2" y1="612.3" x2="428.2" y2="614.9" stroke="#1a1a1a" stroke-width="1" />
<text transform="translate(428.2,622.6)" font-size="7.9" text-anchor="middle" dominant-baseline="central" font-weight="normal" fill="#1a1a1a" stroke="#1a1a1a" stroke-width="0.12" >-3</text>
<line x1="430.15" y1="612.3" x2="430.15" y2="613.9" stroke="#1a1a1a" stroke-width="0.8" />
<line x1="432.1" y1="612.3" x2="432.1" y2="613.9" stroke="#1a1a1a" stroke-width="0.8" />
<line x1="434.05" y1="612.3" x2="434.05" y2="613.9" stroke="#1a1a1a" stroke-width="0.8" />
<line x1="436" y1="612.3" x2="436" y2="613.9" stroke="#1a1a1a" stroke-width="0.8" />
<line x1="437.95" y1="612.3" x2="437.95" y2="613.9" stroke="#1a1a1a" stroke-width="0.8" />
<line x1="439.9" y1="612.3" x2="439.9" y2="614.9" stroke="#1a1a1a" stroke-width="1" />
<text transform="translate(439.9,622.6)" font-size="7.9" text-anchor="middle" dominant-baseline="central" font-weight="normal" fill="#1a1a1a" stroke="#1a1a1a" stroke-width="0.12" >-2</text>
<line x1="441.85" y1="612.3" x2="441.85" y2="613.9" stroke="#1a1a1a" stroke-width="0.8" />
<line x1="443.8" y1="612.3" x2="443.8" y2="613.9" stroke="#1a1a1a" stroke-width="0.8" />
<line x1="445.75" y1="612.3" x2="445.75" y2="613.9" stroke="#1a1a1a" stroke-width="0.8" />
<line x1="447.7" y1="612.3" x2="447.7" y2="613.9" stroke="#1a1a1a" stroke-width="0.8" />
<line x1="449.65" y1="612.3" x2="449.65" y2="613.9" stroke="#1a1a1a" stroke-width="0.8" />
<line x1="451.6" y1="612.3" x2="451.6" y2="614.9" stroke="#1a1a1a" stroke-width="1" />
<text transform="translate(451.6,622.6)" font-size="7.9" text-anchor="middle" dominant-baseline="central" font-weight="normal" fill="#1a1a1a" stroke="#1a1a1a" stroke-width="0.12" >-1</text>
<line x1="453.55" y1="612.3" x2="453.55" y2="613.9" stroke="#1a1a1a" stroke-width="0.8" />
<line x1="455.5" y1="612.3" x2="455.5" y2="613.9" stroke="#1a1a1a" stroke-width="0.8" />
<line x1="457.45" y1="612.3" x2="457.45" y2="613.9" stroke="#1a1a1a" stroke-width="0.8" />
<line x1="459.4" y1="612.3" x2="459.4" y2="613.9" stroke="#1a1a1a" stroke-width="0.8" />
<line x1="461.35" y1="612.3" x2="461.35" y2="613.9" stroke="#1a1a1a" stroke-width="0.8" />
<line x1="463.3" y1="612.3" x2="463.3" y2="614.9" stroke="#1a1a1a" stroke-width="1" />
<text transform="translate(463.3,622.6)" font-size="7.9" text-anchor="middle" dominant-baseline="central" font-weight="normal" fill="#1a1a1a" stroke="#1a1a1a" stroke-width="0.12" >0</text>
<line x1="465.25" y1="612.3" x2="465.25" y2="613.9" stroke="#1a1a1a" stroke-width="0.8" />
<line x1="467.2" y1="612.3" x2="467.2" y2="613.9" stroke="#1a1a1a" stroke-width="0.8" />
<line x1="469.15" y1="612.3" x2="469.15" y2="613.9" stroke="#1a1a1a" stroke-width="0.8" />
<line x1="471.1" y1="612.3" x2="471.1" y2="613.9" stroke="#1a1a1a" stroke-width="0.8" />
<line x1="473.05" y1="612.3" x2="473.05" y2="613.9" stroke="#1a1a1a" stroke-width="0.8" />
<line x1="475" y1="612.3" x2="475" y2="614.9" stroke="#1a1a1a" stroke-width="1" />
<text transform="translate(475,622.6)" font-size="7.9" text-anchor="middle" dominant-baseline="central" font-weight="normal" fill="#1a1a1a" stroke="#1a1a1a" stroke-width="0.12" >1</text>
<line x1="476.95" y1="612.3" x2="476.95" y2="613.9" stroke="#1a1a1a" stroke-width="0.8" />
<line x1="478.9" y1="612.3" x2="478.9" y2="613.9" stroke="#1a1a1a" stroke-width="0.8" />
<line x1="480.85" y1="612.3" x2="480.85" y2="613.9" stroke="#1a1a1a" stroke-width="0.8" />
<line x1="482.8" y1="612.3" x2="482.8" y2="613.9" stroke="#1a1a1a" stroke-width="0.8" />
<line x1="484.75" y1="612.3" x2="484.75" y2="613.9" stroke="#1a1a1a" stroke-width="0.8" />
<line x1="486.7" y1="612.3" x2="486.7" y2="614.9" stroke="#1a1a1a" stroke-width="1" />
<text transform="translate(486.7,622.6)" font-size="7.9" text-anchor="middle" dominant-baseline="central" font-weight="normal" fill="#1a1a1a" stroke="#1a1a1a" stroke-width="0.12" >2</text>
<line x1="488.65" y1="612.3" x2="488.65" y2="613.9" stroke="#1a1a1a" stroke-width="0.8" />
<line x1="490.6" y1="612.3" x2="490.6" y2="613.9" stroke="#1a1a1a" stroke-width="0.8" />
<line x1="492.55" y1="612.3" x2="492.55" y2="613.9" stroke="#1a1a1a" stroke-width="0.8" />
<line x1="494.5" y1="612.3" x2="494.5" y2="613.9" stroke="#1a1a1a" stroke-width="0.8" />
<line x1="496.45" y1="612.3" x2="496.45" y2="613.9" stroke="#1a1a1a" stroke-width="0.8" />
<line x1="498.4" y1="612.3" x2="498.4" y2="614.9" stroke="#1a1a1a" stroke-width="1" />
<text transform="translate(498.4,622.6)" font-size="7.9" text-anchor="middle" dominant-baseline="central" font-weight="normal" fill="#1a1a1a" stroke="#1a1a1a" stroke-width="0.12" >3</text>
<line x1="500.35" y1="612.3" x2="500.35" y2="613.9" stroke="#1a1a1a" stroke-width="0.8" />
<line x1="502.3" y1="612.3" x2="502.3" y2="613.9" stroke="#1a1a1a" stroke-width="0.8" />
<line x1="504.25" y1="612.3" x2="504.25" y2="613.9" stroke="#1a1a1a" stroke-width="0.8" />
<line x1="506.2" y1="612.3" x2="506.2" y2="613.9" stroke="#1a1a1a" stroke-width="0.8" />
<line x1="508.15" y1="612.3" x2="508.15" y2="613.9" stroke="#1a1a1a" stroke-width="0.8" />
<line x1="510.1" y1="612.3" x2="510.1" y2="614.9" stroke="#1a1a1a" stroke-width="1" />
<text transform="translate(510.1,622.6)" font-size="7.9" text-anchor="middle" dominant-baseline="central" font-weight="normal" fill="#1a1a1a" stroke="#1a1a1a" stroke-width="0.12" >4</text>
<text transform="translate(472.2,635.6) scale(0.68,1)" font-size="8.8" text-anchor="middle" dominant-baseline="central" font-weight="normal" fill="#1a1a1a" stroke="#1a1a1a" stroke-width="0.18" letter-spacing="0.5">Log [AMG 701] (pM)</text>
<text transform="translate(400.9,570.15) rotate(-90) scale(0.8,1)" font-size="8.9" text-anchor="middle" dominant-baseline="central" font-weight="normal" fill="#1a1a1a" stroke="#1a1a1a" stroke-width="0.18" >[IFN&#947;] (pg/mL)</text>
<polyline points="436.51,612.3 437.12,612.3 437.73,612.3 438.35,612.3 438.96,612.3 439.57,612.3 440.19,612.3 440.8,612.3 441.41,612.3 442.03,612.3 442.64,612.3 443.25,612.3 443.87,612.3 444.48,612.3 445.09,612.3 445.71,612.3 446.32,612.3 446.93,612.29 447.55,612.29 448.16,612.29 448.77,612.29 449.39,612.29 450,612.29 450.61,612.29 451.23,612.29 451.84,612.29 452.45,612.29 453.07,612.29 453.68,612.29 454.29,612.28 454.91,612.28 455.52,612.28 456.13,612.28 456.75,612.28 457.36,612.27 457.97,612.27 458.58,612.27 459.2,612.27 459.81,612.26 460.42,612.26 461.04,612.25 461.65,612.25 462.26,612.24 462.88,612.24 463.49,612.23 464.1,612.23 464.72,612.22 465.33,612.21 465.94,612.2 466.56,612.19 467.17,612.18 467.78,612.17 468.4,612.15 469.01,612.14 469.62,612.12 470.24,612.1 470.85,612.08 471.46,612.06 472.08,612.04 472.69,612.01 473.3,611.98 473.92,611.95 474.53,611.92 475.14,611.88 475.76,611.83 476.37,611.79 476.98,611.74 477.6,611.68 478.21,611.62 478.82,611.55 479.44,611.47 480.05,611.39 480.66,611.3 481.28,611.2 481.89,611.09 482.5,610.98 483.12,610.85 483.73,610.7 484.34,610.55 484.96,610.38 485.57,610.19 486.18,609.98 486.8,609.76 487.41,609.52 488.02,609.25 488.64,608.97 489.25,608.65 489.86,608.31 490.48,607.94 491.09,607.54 491.7,607.11 492.32,606.64 492.93,606.14 493.54,605.6 494.15,605.02 494.77,604.4 495.38,603.73 495.99,603.02 496.61,602.27 497.22,601.47 497.83,600.63 498.45,599.74 499.06,598.81 499.67,597.84 500.29,596.83 500.9,595.77 501.51,594.69 502.13,593.57 502.74,592.42 503.35,591.25 503.97,590.06 504.58,588.86 505.19,587.65 505.81,586.44 506.42,585.23 507.03,584.04 507.65,582.85 508.26,581.69 508.87,580.55 509.49,579.44 510.1,578.36" fill="none" stroke="#a09bd4" stroke-width="0.95"/>
<line x1="501.91" y1="597.24" x2="501.91" y2="592.73" stroke="#a09bd4" stroke-width="0.9" />
<line x1="500.51" y1="597.24" x2="503.31" y2="597.24" stroke="#a09bd4" stroke-width="0.9" />
<line x1="500.51" y1="592.73" x2="503.31" y2="592.73" stroke="#a09bd4" stroke-width="0.9" />
<line x1="510.1" y1="586.2" x2="510.1" y2="572.15" stroke="#a09bd4" stroke-width="0.9" />
<line x1="508.7" y1="586.2" x2="511.5" y2="586.2" stroke="#a09bd4" stroke-width="0.9" />
<line x1="508.7" y1="572.15" x2="511.5" y2="572.15" stroke="#a09bd4" stroke-width="0.9" />
<path d="M436.5 610.62L438.1 613.42L434.9 613.42Z" fill="#fff" stroke="#8a84c8" stroke-width="0.6"/>
<path d="M444.67 610.62L446.27 613.42L443.07 613.42Z" fill="#fff" stroke="#8a84c8" stroke-width="0.6"/>
<path d="M452.85 610.62L454.45 613.42L451.25 613.42Z" fill="#fff" stroke="#8a84c8" stroke-width="0.6"/>
<path d="M461.03 610.62L462.63 613.42L459.43 613.42Z" fill="#fff" stroke="#8a84c8" stroke-width="0.6"/>
<path d="M469.21 610.62L470.81 613.42L467.61 613.42Z" fill="#fff" stroke="#8a84c8" stroke-width="0.6"/>
<path d="M477.39 610.32L478.99 613.12L475.79 613.12Z" fill="#fff" stroke="#8a84c8" stroke-width="0.6"/>
<path d="M485.57 608.01L487.17 610.81L483.97 610.81Z" fill="#fff" stroke="#8a84c8" stroke-width="0.6"/>
<path d="M493.74 602.79L495.34 605.59L492.14 605.59Z" fill="#fff" stroke="#8a84c8" stroke-width="0.6"/>
<path d="M501.92 593.36L503.52 596.16L500.32 596.16Z" fill="#fff" stroke="#8a84c8" stroke-width="0.6"/>
<path d="M510.1 577.7L511.7 580.5L508.5 580.5Z" fill="#fff" stroke="#8a84c8" stroke-width="0.6"/>
<polyline points="436.51,612.3 437.12,612.3 437.73,612.3 438.35,612.3 438.96,612.3 439.57,612.3 440.19,612.3 440.8,612.3 441.41,612.3 442.03,612.3 442.64,612.3 443.25,612.3 443.87,612.3 444.48,612.3 445.09,612.3 445.71,612.3 446.32,612.3 446.93,612.3 447.55,612.3 448.16,612.3 448.77,612.3 449.39,612.3 450,612.3 450.61,612.3 451.23,612.3 451.84,612.3 452.45,612.3 453.07,612.3 453.68,612.3 454.29,612.3 454.91,612.3 455.52,612.3 456.13,612.3 456.75,612.3 457.36,612.3 457.97,612.3 458.58,612.3 459.2,612.3 459.81,612.3 460.42,612.3 461.04,612.3 461.65,612.3 462.26,612.3 462.88,612.3 463.49,612.3 464.1,612.29 464.72,612.29 465.33,612.29 465.94,612.29 466.56,612.29 467.17,612.29 467.78,612.29 468.4,612.28 469.01,612.28 469.62,612.28 470.24,612.27 470.85,612.27 471.46,612.26 472.08,612.25 472.69,612.25 473.3,612.24 473.92,612.22 474.53,612.21 475.14,612.19 475.76,612.17 476.37,612.15 476.98,612.12 477.6,612.09 478.21,612.05 478.82,612.01 479.44,611.95 480.05,611.89 480.66,611.81 481.28,611.73 481.89,611.62 482.5,611.5 483.12,611.35 483.73,611.18 484.34,610.98 484.96,610.75 485.57,610.48 486.18,610.15 486.8,609.78 487.41,609.35 488.02,608.84 488.64,608.26 489.25,607.59 489.86,606.82 490.48,605.95 491.09,604.96 491.7,603.86 492.32,602.62 492.93,601.26 493.54,599.76 494.15,598.15 494.77,596.42 495.38,594.59 495.99,592.69 496.61,590.73 497.22,588.74 497.83,586.75 498.45,584.79 499.06,582.88 499.67,581.06 500.29,579.32 500.9,577.71 501.51,576.21 502.13,574.84 502.74,573.6 503.35,572.49 503.97,571.5 504.58,570.62 505.19,569.85 505.81,569.18 506.42,568.6 507.03,568.09 507.65,567.65 508.26,567.28 508.87,566.96 509.49,566.68 510.1,566.45" fill="none" stroke="#d8308a" stroke-width="0.95"/>
<line x1="510.1" y1="570.14" x2="510.1" y2="564.12" stroke="#d8308a" stroke-width="0.9" />
<line x1="508.7" y1="570.14" x2="511.5" y2="570.14" stroke="#d8308a" stroke-width="0.9" />
<line x1="508.7" y1="564.12" x2="511.5" y2="564.12" stroke="#d8308a" stroke-width="0.9" />
<path d="M436.5 610.62L438.1 613.42L434.9 613.42Z" fill="#c8106e" stroke="#c8106e" stroke-width="0.6"/>
<path d="M444.67 610.62L446.27 613.42L443.07 613.42Z" fill="#c8106e" stroke="#c8106e" stroke-width="0.6"/>
<path d="M452.85 610.62L454.45 613.42L451.25 613.42Z" fill="#c8106e" stroke="#c8106e" stroke-width="0.6"/>
<path d="M461.03 610.62L462.63 613.42L459.43 613.42Z" fill="#c8106e" stroke="#c8106e" stroke-width="0.6"/>
<path d="M469.21 610.62L470.81 613.42L467.61 613.42Z" fill="#c8106e" stroke="#c8106e" stroke-width="0.6"/>
<path d="M477.39 610.22L478.99 613.02L475.79 613.02Z" fill="#c8106e" stroke="#c8106e" stroke-width="0.6"/>
<path d="M485.57 608.61L487.17 611.41L483.97 611.41Z" fill="#c8106e" stroke="#c8106e" stroke-width="0.6"/>
<path d="M493.74 595.86L495.34 598.66L492.14 598.66Z" fill="#c8106e" stroke="#c8106e" stroke-width="0.6"/>
<path d="M501.92 572.58L503.52 575.38L500.32 575.38Z" fill="#c8106e" stroke="#c8106e" stroke-width="0.6"/>
<path d="M510.1 565.65L511.7 568.45L508.5 568.45Z" fill="#c8106e" stroke="#c8106e" stroke-width="0.6"/>
<line x1="435.2" y1="539.2" x2="449.8" y2="539.2" stroke="#d8308a" stroke-width="1.3" />
<path d="M442.5 537.06L444.35 540.29L440.65 540.29Z" fill="#c8106e" stroke="#c8106e" stroke-width="0.6"/>
<text transform="translate(453.3,539.2) scale(0.9,1)" font-size="8" text-anchor="start" dominant-baseline="central" font-weight="normal" fill="#1a1a1a" stroke="#1a1a1a" stroke-width="0.05" >&#945;PD-1</text>
<line x1="435.2" y1="549.7" x2="449.8" y2="549.7" stroke="#a09bd4" stroke-width="1.3" />
<path d="M442.5 547.5L444.4 550.83L440.6 550.83Z" fill="#fff" stroke="#8a84c8" stroke-width="0.6"/>
<text transform="translate(453.3,549.7) scale(0.87,1)" font-size="8" text-anchor="start" dominant-baseline="central" font-weight="normal" fill="#1a1a1a" stroke="#1a1a1a" stroke-width="0.05" >Control</text>
<text transform="translate(274,381.5)" font-size="10.5" text-anchor="middle" dominant-baseline="central" font-weight="bold" fill="#000" stroke="#000" stroke-width="0" >C</text>
<line x1="312.5" y1="392.3" x2="312.5" y2="464.3" stroke="#1a1a1a" stroke-width="1.4" />
<line x1="311.8" y1="464" x2="441.3" y2="464" stroke="#1a1a1a" stroke-width="1.4" />
<line x1="309.5" y1="456.3" x2="312.5" y2="456.3" stroke="#1a1a1a" stroke-width="1" />
<text transform="translate(306.9,456.3)" font-size="7.5" text-anchor="end" dominant-baseline="central" font-weight="normal" fill="#1a1a1a" stroke="#1a1a1a" stroke-width="0.05" >10</text>
<line x1="309.5" y1="429.8" x2="312.5" y2="429.8" stroke="#1a1a1a" stroke-width="1" />
<text transform="translate(306.9,429.8)" font-size="7.5" text-anchor="end" dominant-baseline="central" font-weight="normal" fill="#1a1a1a" stroke="#1a1a1a" stroke-width="0.05" >100</text>
<line x1="309.5" y1="403.3" x2="312.5" y2="403.3" stroke="#1a1a1a" stroke-width="1" />
<text transform="translate(306.9,403.3)" font-size="7.5" text-anchor="end" dominant-baseline="central" font-weight="normal" fill="#1a1a1a" stroke="#1a1a1a" stroke-width="0.05" >1000</text>
<line x1="310.9" y1="462.18" x2="312.5" y2="462.18" stroke="#1a1a1a" stroke-width="0.7" />
<line x1="310.9" y1="460.4" x2="312.5" y2="460.4" stroke="#1a1a1a" stroke-width="0.7" />
<line x1="310.9" y1="458.87" x2="312.5" y2="458.87" stroke="#1a1a1a" stroke-width="0.7" />
<line x1="310.9" y1="457.51" x2="312.5" y2="457.51" stroke="#1a1a1a" stroke-width="0.7" />
<line x1="310.9" y1="448.32" x2="312.5" y2="448.32" stroke="#1a1a1a" stroke-width="0.7" />
<line x1="310.9" y1="443.66" x2="312.5" y2="443.66" stroke="#1a1a1a" stroke-width="0.7" />
<line x1="310.9" y1="440.35" x2="312.5" y2="440.35" stroke="#1a1a1a" stroke-width="0.7" />
<line x1="310.9" y1="437.78" x2="312.5" y2="437.78" stroke="#1a1a1a" stroke-width="0.7" />
<line x1="310.9" y1="435.68" x2="312.5" y2="435.68" stroke="#1a1a1a" stroke-width="0.7" />
<line x1="310.9" y1="433.9" x2="312.5" y2="433.9" stroke="#1a1a1a" stroke-width="0.7" />
<line x1="310.9" y1="432.37" x2="312.5" y2="432.37" stroke="#1a1a1a" stroke-width="0.7" />
<line x1="310.9" y1="431.01" x2="312.5" y2="431.01" stroke="#1a1a1a" stroke-width="0.7" />
<line x1="310.9" y1="421.82" x2="312.5" y2="421.82" stroke="#1a1a1a" stroke-width="0.7" />
<line x1="310.9" y1="417.16" x2="312.5" y2="417.16" stroke="#1a1a1a" stroke-width="0.7" />
<line x1="310.9" y1="413.85" x2="312.5" y2="413.85" stroke="#1a1a1a" stroke-width="0.7" />
<line x1="310.9" y1="411.28" x2="312.5" y2="411.28" stroke="#1a1a1a" stroke-width="0.7" />
<line x1="310.9" y1="409.18" x2="312.5" y2="409.18" stroke="#1a1a1a" stroke-width="0.7" />
<line x1="310.9" y1="407.4" x2="312.5" y2="407.4" stroke="#1a1a1a" stroke-width="0.7" />
<line x1="310.9" y1="405.87" x2="312.5" y2="405.87" stroke="#1a1a1a" stroke-width="0.7" />
<line x1="310.9" y1="404.51" x2="312.5" y2="404.51" stroke="#1a1a1a" stroke-width="0.7" />
<line x1="310.9" y1="395.32" x2="312.5" y2="395.32" stroke="#1a1a1a" stroke-width="0.7" />
<line x1="330.5" y1="464" x2="330.5" y2="466.6" stroke="#1a1a1a" stroke-width="1" />
<line x1="360" y1="464" x2="360" y2="466.6" stroke="#1a1a1a" stroke-width="1" />
<line x1="393" y1="464" x2="393" y2="466.6" stroke="#1a1a1a" stroke-width="1" />
<line x1="422.5" y1="464" x2="422.5" y2="466.6" stroke="#1a1a1a" stroke-width="1" />
<text transform="translate(278,435.2) rotate(-90) scale(0.72,1)" font-size="8.3" text-anchor="middle" dominant-baseline="central" font-weight="normal" fill="#1a1a1a" stroke="#1a1a1a" stroke-width="0.18" >AMG 701 EC<tspan dy="1.7" font-size="5.8">50</tspan><tspan dy="-1.7"> (pM)</tspan></text>
<text transform="translate(317.6,474.6) scale(0.93,1)" font-size="7.9" text-anchor="end" dominant-baseline="central" font-weight="normal" fill="#1a1a1a" stroke="#1a1a1a" stroke-width="0.05" >&#945;PD-1</text>
<text transform="translate(330.5,474.6)" font-size="8" text-anchor="middle" dominant-baseline="central" font-weight="normal" fill="#1a1a1a" stroke="#1a1a1a" stroke-width="0.05" >-</text>
<text transform="translate(360,474.6)" font-size="8" text-anchor="middle" dominant-baseline="central" font-weight="normal" fill="#1a1a1a" stroke="#1a1a1a" stroke-width="0.05" >+</text>
<text transform="translate(393,474.6)" font-size="8" text-anchor="middle" dominant-baseline="central" font-weight="normal" fill="#1a1a1a" stroke="#1a1a1a" stroke-width="0.05" >-</text>
<text transform="translate(422.5,474.6)" font-size="8" text-anchor="middle" dominant-baseline="central" font-weight="normal" fill="#1a1a1a" stroke="#1a1a1a" stroke-width="0.05" >+</text>
<line x1="324.6" y1="483.5" x2="366.3" y2="483.5" stroke="#1a1a1a" stroke-width="1.2" />
<line x1="388.8" y1="483.3" x2="429.9" y2="483.3" stroke="#1a1a1a" stroke-width="1.2" />
<text transform="translate(345.3,492.8) scale(0.93,1)" font-size="8.2" text-anchor="middle" dominant-baseline="central" font-weight="normal" fill="#1a1a1a" stroke="#1a1a1a" stroke-width="0.05" >KMS12BM_PDL1</text>
<text transform="translate(408.9,492.6) scale(0.93,1)" font-size="8.4" text-anchor="middle" dominant-baseline="central" font-weight="normal" fill="#1a1a1a" stroke="#1a1a1a" stroke-width="0.05" >U266B1_PDL1</text>
<path d="M331.5 412.5V408H359.2V412.5" fill="none" stroke="#1a1a1a" stroke-width="1.2"/>
<text transform="translate(344.8,401.6) scale(0.98,1)" font-size="7.4" text-anchor="middle" dominant-baseline="central" font-weight="normal" fill="#1a1a1a" stroke="#1a1a1a" stroke-width="0.08" >p = 0.01</text>
<path d="M394.3 394.8V391.2H422.2V394.8" fill="none" stroke="#1a1a1a" stroke-width="1.2"/>
<text transform="translate(408.5,384) scale(0.98,1)" font-size="7.4" text-anchor="middle" dominant-baseline="central" font-weight="normal" fill="#1a1a1a" stroke="#1a1a1a" stroke-width="0.08" >p = 0.0008</text>
<line x1="330.5" y1="423" x2="330.5" y2="437" stroke="#f2b918" stroke-width="0.9" />
<line x1="329" y1="423" x2="332" y2="423" stroke="#f2b918" stroke-width="0.9" />
<line x1="329" y1="437" x2="332" y2="437" stroke="#f2b918" stroke-width="0.9" />
<path d="M327 424.12L328.6 426.92L325.4 426.92Z" fill="#fff" stroke="#e8ac00" stroke-width="0.6"/>
<path d="M330 423.32L331.6 426.12L328.4 426.12Z" fill="#fff" stroke="#e8ac00" stroke-width="0.6"/>
<path d="M335 422.12L336.6 424.92L333.4 424.92Z" fill="#fff" stroke="#e8ac00" stroke-width="0.6"/>
<path d="M328 435.12L329.6 437.92L326.4 437.92Z" fill="#fff" stroke="#e8ac00" stroke-width="0.6"/>
<path d="M332 433.82L333.6 436.62L330.4 436.62Z" fill="#fff" stroke="#e8ac00" stroke-width="0.6"/>
<line x1="321.3" y1="428" x2="339.7" y2="428" stroke="#1a1a1a" stroke-width="1.1" />
<line x1="360" y1="437" x2="360" y2="450.8" stroke="#c08a58" stroke-width="0.9" />
<line x1="358.5" y1="437" x2="361.5" y2="437" stroke="#c08a58" stroke-width="0.9" />
<line x1="358.5" y1="450.8" x2="361.5" y2="450.8" stroke="#c08a58" stroke-width="0.9" />
<path d="M361.2 436.32L362.8 439.12L359.6 439.12Z" fill="#9c5a1c" stroke="#9c5a1c" stroke-width="0.6"/>
<path d="M358.2 438.32L359.8 441.12L356.6 441.12Z" fill="#9c5a1c" stroke="#9c5a1c" stroke-width="0.6"/>
<path d="M362.5 442.82L364.1 445.62L360.9 445.62Z" fill="#9c5a1c" stroke="#9c5a1c" stroke-width="0.6"/>
<path d="M360 445.32L361.6 448.12L358.4 448.12Z" fill="#9c5a1c" stroke="#9c5a1c" stroke-width="0.6"/>
<path d="M357.5 449.12L359.1 451.92L355.9 451.92Z" fill="#9c5a1c" stroke="#9c5a1c" stroke-width="0.6"/>
<line x1="350.8" y1="442.2" x2="369.2" y2="442.2" stroke="#1a1a1a" stroke-width="1.1" />
<line x1="393" y1="408.7" x2="393" y2="415" stroke="#a09bd4" stroke-width="0.9" />
<line x1="391.5" y1="408.7" x2="394.5" y2="408.7" stroke="#a09bd4" stroke-width="0.9" />
<line x1="391.5" y1="415" x2="394.5" y2="415" stroke="#a09bd4" stroke-width="0.9" />
<path d="M390 407.12L391.6 409.92L388.4 409.92Z" fill="#fff" stroke="#8a84c8" stroke-width="0.6"/>
<path d="M393.8 406.62L395.4 409.42L392.2 409.42Z" fill="#fff" stroke="#8a84c8" stroke-width="0.6"/>
<path d="M396.3 407.82L397.9 410.62L394.7 410.62Z" fill="#fff" stroke="#8a84c8" stroke-width="0.6"/>
<path d="M391 413.32L392.6 416.12L389.4 416.12Z" fill="#fff" stroke="#8a84c8" stroke-width="0.6"/>
<path d="M395 413.32L396.6 416.12L393.4 416.12Z" fill="#fff" stroke="#8a84c8" stroke-width="0.6"/>
<line x1="383.8" y1="411.3" x2="402.2" y2="411.3" stroke="#1a1a1a" stroke-width="1.1" />
<line x1="422.5" y1="425" x2="422.5" y2="433.3" stroke="#d8308a" stroke-width="0.9" />
<line x1="421" y1="425" x2="424" y2="425" stroke="#d8308a" stroke-width="0.9" />
<line x1="421" y1="433.3" x2="424" y2="433.3" stroke="#d8308a" stroke-width="0.9" />
<path d="M420.5 424.62L422.1 427.42L418.9 427.42Z" fill="#c8106e" stroke="#c8106e" stroke-width="0.6"/>
<path d="M426 423.32L427.6 426.12L424.4 426.12Z" fill="#c8106e" stroke="#c8106e" stroke-width="0.6"/>
<path d="M424.5 429.52L426.1 432.32L422.9 432.32Z" fill="#c8106e" stroke="#c8106e" stroke-width="0.6"/>
<path d="M421.5 432.82L423.1 435.62L419.9 435.62Z" fill="#c8106e" stroke="#c8106e" stroke-width="0.6"/>
<path d="M424 436.32L425.6 439.12L422.4 439.12Z" fill="#c8106e" stroke="#c8106e" stroke-width="0.6"/>
<line x1="413.3" y1="429.3" x2="431.7" y2="429.3" stroke="#1a1a1a" stroke-width="1.1" /></svg></body></html>
